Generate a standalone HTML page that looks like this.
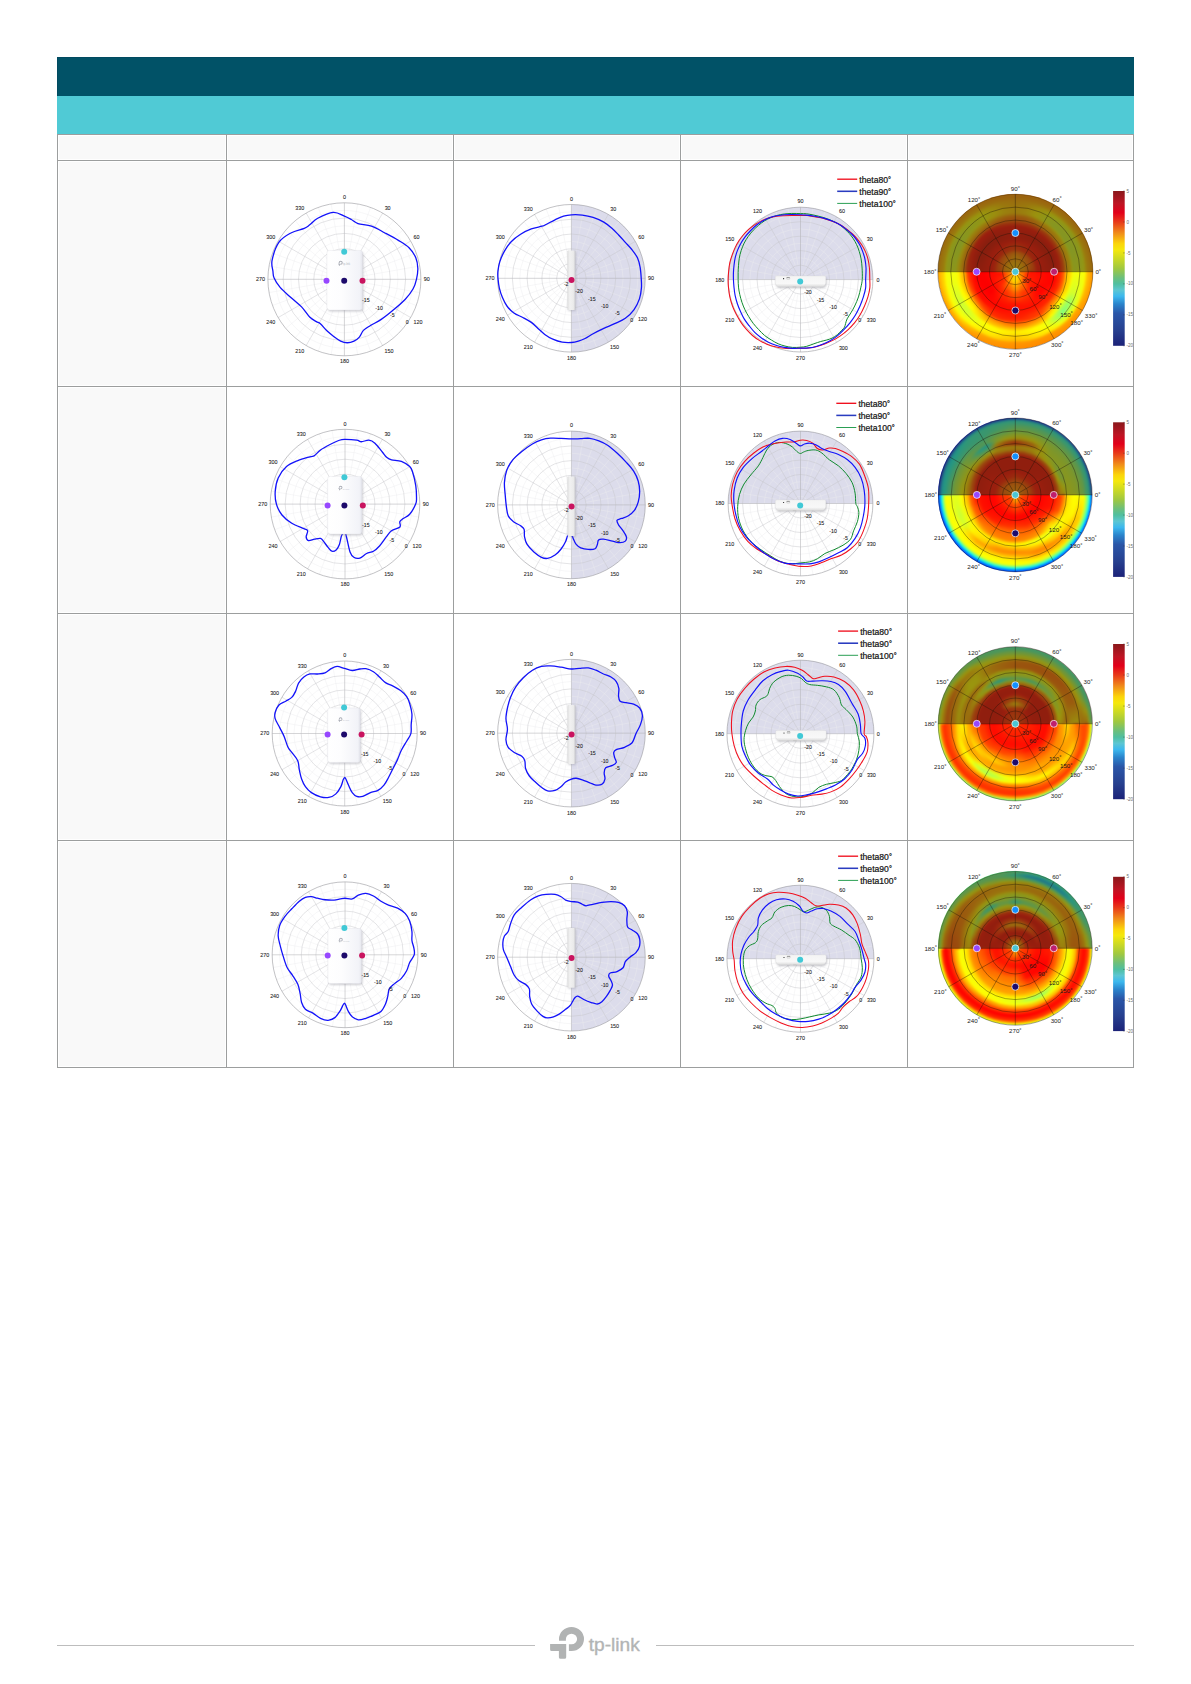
<!DOCTYPE html>
<html lang="en"><head><meta charset="utf-8"><title>Antenna Radiation Patterns</title>
<style>
html,body{margin:0;padding:0;background:#fff}
body{width:1191px;height:1684px;position:relative;overflow:hidden;font-family:"Liberation Sans", Arial, sans-serif}
.band{position:absolute;left:57px;width:1077px}
.b1{top:57px;height:39px;background:#015267;box-shadow:inset 0 1px 0 #014a60,inset 1px 0 0 #014a60}
.b2{top:96px;height:38px;background:#50cad5}
.grid{position:absolute;left:57px;top:134px;width:1077px;height:934px;background:#9c9e9e}
.cell{position:absolute;background:#fff;overflow:hidden}
.cell.h{background:#f9f9f9;box-shadow:inset 0 0 0 1px #fff}
.cell svg{position:absolute;left:0;top:0;font-family:"Liberation Sans", Arial, sans-serif}
.hm{position:absolute;border-radius:50%;overflow:hidden}
.hm i{position:absolute;border-radius:50%;display:block}
.hmb{position:absolute;left:0;top:0;right:0;bottom:0;filter:blur(1.3px)}
.foot{position:absolute;top:1645px;height:1px;background:#bdbdbd}
.logo{position:absolute;left:548px;top:1624px;width:96px;height:38px}
</style></head><body>
<svg width="0" height="0" style="position:absolute"><defs><filter id="bl" x="-20%" y="-20%" width="140%" height="140%"><feGaussianBlur stdDeviation="0.9"/></filter><linearGradient id="dev1" x1="0" y1="0" x2="1" y2="0"><stop offset="0" stop-color="#ffffff"/><stop offset="0.4" stop-color="#fdfdfe"/><stop offset="0.92" stop-color="#f2f3f8"/><stop offset="0.97" stop-color="#eaebf1"/><stop offset="1" stop-color="#dcdde5"/></linearGradient><linearGradient id="dev2" x1="0" y1="0" x2="1" y2="0"><stop offset="0" stop-color="#dedede"/><stop offset="0.3" stop-color="#f1f1f1"/><stop offset="0.75" stop-color="#ebebeb"/><stop offset="1" stop-color="#c9c9cd"/></linearGradient><linearGradient id="dev3" x1="0" y1="0" x2="0" y2="1"><stop offset="0" stop-color="#f4f4f4"/><stop offset="0.7" stop-color="#f8f8f8"/><stop offset="1" stop-color="#dcdcdc"/></linearGradient><linearGradient id="cbar" x1="0" y1="0" x2="0" y2="1"><stop offset="0%" stop-color="#8a181b"/><stop offset="8%" stop-color="#bd1524"/><stop offset="14%" stop-color="#e2001a"/><stop offset="20%" stop-color="#e83a1a"/><stop offset="27%" stop-color="#f08a1a"/><stop offset="34%" stop-color="#fbd50a"/><stop offset="38%" stop-color="#f5e80c"/><stop offset="42%" stop-color="#d8de1c"/><stop offset="50%" stop-color="#a0c840"/><stop offset="56%" stop-color="#6cbf7c"/><stop offset="60%" stop-color="#4fbfa0"/><stop offset="64%" stop-color="#5cc6d2"/><stop offset="68%" stop-color="#3cb8ee"/><stop offset="73%" stop-color="#2a84cc"/><stop offset="79%" stop-color="#2a56a8"/><stop offset="90%" stop-color="#27408f"/><stop offset="100%" stop-color="#1c2278"/></linearGradient></defs></svg>
<div class="band b1"></div><div class="band b2"></div>
<div class="grid">
<div class="cell h" style="left:1px;top:1px;width:168px;height:25px"></div>
<div class="cell h" style="left:170px;top:1px;width:226px;height:25px"></div>
<div class="cell h" style="left:397px;top:1px;width:226px;height:25px"></div>
<div class="cell h" style="left:624px;top:1px;width:226px;height:25px"></div>
<div class="cell h" style="left:851px;top:1px;width:225px;height:25px"></div>
<div class="cell h" style="left:1px;top:27px;width:168px;height:225px"></div>
<div class="cell" style="left:170px;top:27px;width:226px;height:225px"><svg width="226" height="225" viewBox="227 161 226 225"><g fill="none" stroke="#ececee" stroke-width="0.42"><circle cx="344.4" cy="279.3" r="7.65"/><circle cx="344.4" cy="279.3" r="22.95"/><circle cx="344.4" cy="279.3" r="38.25"/><circle cx="344.4" cy="279.3" r="53.55"/><circle cx="344.4" cy="279.3" r="68.85"/><path d="M347.06 264.23L357.68 203.96"/><path d="M349.63 264.92L370.56 207.41"/><path d="M354.23 267.58L393.57 220.7"/><path d="M356.12 269.47L403 230.13"/><path d="M358.78 274.07L416.29 253.14"/><path d="M359.47 276.64L419.74 266.02"/><path d="M359.47 281.96L419.74 292.58"/><path d="M358.78 284.53L416.29 305.46"/><path d="M356.12 289.13L403 328.47"/><path d="M354.23 291.02L393.57 337.9"/><path d="M349.63 293.68L370.56 351.19"/><path d="M347.06 294.37L357.68 354.64"/><path d="M341.74 294.37L331.12 354.64"/><path d="M339.17 293.68L318.24 351.19"/><path d="M334.57 291.02L295.23 337.9"/><path d="M332.68 289.13L285.8 328.47"/><path d="M330.02 284.53L272.51 305.46"/><path d="M329.33 281.96L269.06 292.58"/><path d="M329.33 276.64L269.06 266.02"/><path d="M330.02 274.07L272.51 253.14"/><path d="M332.68 269.47L285.8 230.13"/><path d="M334.57 267.58L295.23 220.7"/><path d="M339.17 264.92L318.24 207.41"/><path d="M341.74 264.23L331.12 203.96"/></g><g fill="none" stroke="#c6c6ca" stroke-width="0.48"><circle cx="344.4" cy="279.3" r="15.3"/><circle cx="344.4" cy="279.3" r="30.6"/><circle cx="344.4" cy="279.3" r="45.9"/><circle cx="344.4" cy="279.3" r="61.2"/><path d="M344.4 279.3L382.65 213.05"/><path d="M344.4 279.3L410.65 241.05"/><path d="M344.4 279.3L410.65 317.55"/><path d="M344.4 279.3L382.65 345.55"/><path d="M344.4 279.3L306.15 345.55"/><path d="M344.4 279.3L278.15 317.55"/><path d="M344.4 279.3L278.15 241.05"/><path d="M344.4 279.3L306.15 213.05"/></g><path d="M267.9 279.3H420.9M344.4 202.8V355.8" fill="none" stroke="#b2b2b6" stroke-width="0.55"/><circle cx="344.4" cy="279.3" r="76.5" fill="none" stroke="#96969b" stroke-width="0.58"/><text x="344.4" y="199.15" font-size="5.4" fill="#222" text-anchor="middle" stroke="#222" stroke-width="0.08">0</text><text x="387.64" y="209.83" font-size="5.4" fill="#222" text-anchor="middle" stroke="#222" stroke-width="0.08">30</text><text x="416.53" y="238.7" font-size="5.4" fill="#222" text-anchor="middle" stroke="#222" stroke-width="0.08">60</text><text x="426.75" y="281.25" font-size="5.4" fill="#222" text-anchor="middle" stroke="#222" stroke-width="0.08">90</text><text x="417.94" y="323.8" font-size="5.4" fill="#222" text-anchor="middle" stroke="#222" stroke-width="0.08">120</text><text x="388.93" y="352.67" font-size="5.4" fill="#222" text-anchor="middle" stroke="#222" stroke-width="0.08">150</text><text x="344.4" y="363.35" font-size="5.4" fill="#222" text-anchor="middle" stroke="#222" stroke-width="0.08">180</text><text x="299.87" y="352.67" font-size="5.4" fill="#222" text-anchor="middle" stroke="#222" stroke-width="0.08">210</text><text x="270.86" y="323.8" font-size="5.4" fill="#222" text-anchor="middle" stroke="#222" stroke-width="0.08">240</text><text x="260.4" y="281.25" font-size="5.4" fill="#222" text-anchor="middle" stroke="#222" stroke-width="0.08">270</text><text x="270.86" y="238.7" font-size="5.4" fill="#222" text-anchor="middle" stroke="#222" stroke-width="0.08">300</text><text x="299.87" y="209.83" font-size="5.4" fill="#222" text-anchor="middle" stroke="#222" stroke-width="0.08">330</text><path d="M344.4 216.19C347.42 217.37 349.06 218.27 351.32 219.49C353.58 220.72 354.63 222.44 357.99 223.56C361.34 224.68 366.96 224.63 371.45 226.2C375.95 227.77 380.48 230.6 384.96 232.96C389.45 235.33 394.37 237.9 398.38 240.37C402.39 242.84 406.13 244.88 409.03 247.78C411.94 250.67 414.34 254.27 415.8 257.74C417.27 261.21 417.72 265 417.83 268.59C417.94 272.18 417.24 275.95 416.46 279.3C415.68 282.65 415.04 285.35 413.14 288.72C411.25 292.08 408.44 295.9 405.08 299.49C401.72 303.08 397.02 306.89 392.98 310.25C388.95 313.61 384.67 317.08 380.87 319.66C377.06 322.24 373.05 323.94 370.14 325.73C367.23 327.53 365.21 328.52 363.41 330.42C361.62 332.33 360.93 335.36 359.36 337.14C357.79 338.93 355.99 340.21 353.97 341.14C351.96 342.07 349.51 342.73 347.28 342.73C345.05 342.73 342.86 342.19 340.62 341.15C338.37 340.11 336.04 338.15 333.8 336.47C331.57 334.78 329.42 333.18 327.18 331.06C324.95 328.93 322.19 325.28 320.39 323.71C318.58 322.15 318.15 322.78 316.36 321.66C314.57 320.53 312.11 319.43 309.64 316.97C307.18 314.51 304.7 310.14 301.57 306.9C298.45 303.66 294.46 300.77 290.88 297.52C287.31 294.27 282.91 290.66 280.12 287.42C277.32 284.18 275.3 280.76 274.11 278.07C272.91 275.38 273.28 274.22 272.94 271.28C272.6 268.35 271.09 265.28 272.07 260.46C273.05 255.64 275.68 246.93 278.82 242.35C281.96 237.76 286.67 235.31 290.91 232.97C295.16 230.63 301.15 229.67 304.28 228.32C307.42 226.97 307.47 226.53 309.71 224.85C311.95 223.17 313.81 220.32 317.72 218.24C321.64 216.16 328.75 212.72 333.2 212.38C337.65 212.03 341.38 215 344.4 216.19Z" fill="none" stroke="#1212fa" stroke-width="1.3" stroke-linejoin="round"/><rect x="327.9" y="251.9" width="35.5" height="59.6" rx="2.4" fill="#8c8c98" opacity="0.42" filter="url(#bl)"/><rect x="327" y="250.4" width="35.5" height="59.6" rx="2.4" fill="url(#dev1)" stroke="#e3e3e9" stroke-width="0.35"/><g transform="translate(338.2 260.8) scale(0.78)" fill="#a9acb5"><path d="M3.2 0a2.6 2.6 0 0 1 0 5.2H2.6V3.9h.6a1.3 1.3 0 1 0-1.3-1.3v.3H.6v-.3A2.6 2.6 0 0 1 3.2 0z"/><path d="M0 3.4h2.2v3H.9V4.7H0z"/></g><text x="343" y="265.1" font-size="2.7" fill="#b3b6be">tp-link</text><text x="365.8" y="302.1" font-size="5.2" fill="#222" text-anchor="middle" stroke="#222" stroke-width="0.08">-15</text><text x="379.05" y="309.75" font-size="5.2" fill="#222" text-anchor="middle" stroke="#222" stroke-width="0.08">-10</text><text x="392.3" y="317.4" font-size="5.2" fill="#222" text-anchor="middle" stroke="#222" stroke-width="0.08">-5</text><text x="407.15" y="324.05" font-size="5.2" fill="#222" text-anchor="middle" stroke="#222" stroke-width="0.08">0</text><circle cx="344.2" cy="251.7" r="3" fill="#41c9d6"/><circle cx="326.5" cy="280.7" r="3" fill="#9747ff"/><circle cx="344.2" cy="280.7" r="3" fill="#1d0a6b"/><circle cx="362.5" cy="280.7" r="3" fill="#c9145f"/></svg></div>
<div class="cell" style="left:397px;top:27px;width:226px;height:225px"><svg width="226" height="225" viewBox="454 161 226 225"><path d="M571.4 204.5A73.8 73.8 0 0 1 571.4 352.1Z" fill="#dcdceb"/><g fill="none" stroke="#ececee" stroke-width="0.42"><circle cx="571.4" cy="278.3" r="7.38"/><circle cx="571.4" cy="278.3" r="22.14"/><circle cx="571.4" cy="278.3" r="36.9"/><circle cx="571.4" cy="278.3" r="51.66"/><circle cx="571.4" cy="278.3" r="66.42"/><path d="M573.96 263.76L584.22 205.62"/><path d="M576.45 264.43L596.64 208.95"/><path d="M580.89 266.99L618.84 221.77"/><path d="M582.71 268.81L627.93 230.86"/><path d="M585.27 273.25L640.75 253.06"/><path d="M585.94 275.74L644.08 265.48"/><path d="M585.94 280.86L644.08 291.12"/><path d="M585.27 283.35L640.75 303.54"/><path d="M582.71 287.79L627.93 325.74"/><path d="M580.89 289.61L618.84 334.83"/><path d="M576.45 292.17L596.64 347.65"/><path d="M573.96 292.84L584.22 350.98"/><path d="M568.84 292.84L558.58 350.98"/><path d="M566.35 292.17L546.16 347.65"/><path d="M561.91 289.61L523.96 334.83"/><path d="M560.09 287.79L514.87 325.74"/><path d="M557.53 283.35L502.05 303.54"/><path d="M556.86 280.86L498.72 291.12"/><path d="M556.86 275.74L498.72 265.48"/><path d="M557.53 273.25L502.05 253.06"/><path d="M560.09 268.81L514.87 230.86"/><path d="M561.91 266.99L523.96 221.77"/><path d="M566.35 264.43L546.16 208.95"/><path d="M568.84 263.76L558.58 205.62"/></g><g fill="none" stroke="#c6c6ca" stroke-width="0.48"><circle cx="571.4" cy="278.3" r="14.76"/><circle cx="571.4" cy="278.3" r="29.52"/><circle cx="571.4" cy="278.3" r="44.28"/><circle cx="571.4" cy="278.3" r="59.04"/><path d="M571.4 278.3L608.3 214.39"/><path d="M571.4 278.3L635.31 241.4"/><path d="M571.4 278.3L635.31 315.2"/><path d="M571.4 278.3L608.3 342.21"/><path d="M571.4 278.3L534.5 342.21"/><path d="M571.4 278.3L507.49 315.2"/><path d="M571.4 278.3L507.49 241.4"/><path d="M571.4 278.3L534.5 214.39"/></g><path d="M497.6 278.3H645.2M571.4 204.5V352.1" fill="none" stroke="#b2b2b6" stroke-width="0.55"/><circle cx="571.4" cy="278.3" r="73.8" fill="none" stroke="#96969b" stroke-width="0.58"/><text x="571.4" y="200.85" font-size="5.4" fill="#222" text-anchor="middle" stroke="#222" stroke-width="0.08">0</text><text x="613.29" y="211.17" font-size="5.4" fill="#222" text-anchor="middle" stroke="#222" stroke-width="0.08">30</text><text x="641.19" y="239.05" font-size="5.4" fill="#222" text-anchor="middle" stroke="#222" stroke-width="0.08">60</text><text x="651.05" y="280.25" font-size="5.4" fill="#222" text-anchor="middle" stroke="#222" stroke-width="0.08">90</text><text x="642.6" y="321.45" font-size="5.4" fill="#222" text-anchor="middle" stroke="#222" stroke-width="0.08">120</text><text x="614.58" y="349.33" font-size="5.4" fill="#222" text-anchor="middle" stroke="#222" stroke-width="0.08">150</text><text x="571.4" y="359.65" font-size="5.4" fill="#222" text-anchor="middle" stroke="#222" stroke-width="0.08">180</text><text x="528.22" y="349.33" font-size="5.4" fill="#222" text-anchor="middle" stroke="#222" stroke-width="0.08">210</text><text x="500.2" y="321.45" font-size="5.4" fill="#222" text-anchor="middle" stroke="#222" stroke-width="0.08">240</text><text x="490.1" y="280.25" font-size="5.4" fill="#222" text-anchor="middle" stroke="#222" stroke-width="0.08">270</text><text x="500.2" y="239.05" font-size="5.4" fill="#222" text-anchor="middle" stroke="#222" stroke-width="0.08">300</text><text x="528.22" y="211.17" font-size="5.4" fill="#222" text-anchor="middle" stroke="#222" stroke-width="0.08">330</text><path d="M571.4 214.83C574.53 214.66 578.71 214.66 582.32 215.1C585.93 215.54 589.48 216.29 593.06 217.47C596.64 218.65 600.66 220.38 603.8 222.18C606.94 223.99 609.43 226.15 611.9 228.29C614.37 230.43 616.39 232.68 618.63 235.02C620.86 237.37 623.07 239.89 625.31 242.35C627.54 244.81 630.01 247.18 632.03 249.77C634.06 252.35 636.11 254.95 637.46 257.85C638.8 260.75 639.47 263.77 640.1 267.17C640.72 270.58 641 274.81 641.21 278.3C641.43 281.79 641.71 284.72 641.41 288.14C641.12 291.56 640.66 295.27 639.44 298.84C638.21 302.41 636.43 306.3 634.08 309.55C631.72 312.8 628.56 315.99 625.32 318.34C622.07 320.7 618.19 321.99 614.61 323.67C611.03 325.36 607.41 326.75 603.83 328.43C600.25 330.11 596.26 332.08 593.13 333.75C590 335.42 587.53 337.23 585.07 338.46C582.6 339.7 580.62 340.49 578.34 341.16C576.06 341.84 574.09 342.34 571.4 342.51C568.71 342.67 565.3 342.7 562.2 342.14C559.1 341.58 555.71 340.42 552.8 339.14C549.89 337.85 547.22 336.22 544.75 334.43C542.28 332.64 540.22 330.41 537.99 328.4C535.75 326.39 533.77 324.13 531.32 322.35C528.86 320.57 526.16 319.26 523.26 317.7C520.35 316.14 516.59 314.9 513.89 312.99C511.2 311.08 509.01 308.83 507.1 306.26C505.2 303.68 503.74 300.59 502.45 297.55C501.16 294.51 500.11 291.25 499.36 288.04C498.62 284.83 498.21 281.1 497.97 278.3C497.73 275.5 497.64 273.96 497.94 271.23C498.24 268.49 498.66 265.24 499.75 261.89C500.84 258.54 502.55 254.49 504.46 251.12C506.36 247.75 508.49 244.49 511.18 241.68C513.87 238.88 517.23 236.41 520.58 234.28C523.93 232.16 527.7 230.27 531.28 228.93C534.86 227.59 539.59 226.96 542.05 226.22C544.52 225.48 543.84 225.59 546.07 224.48C548.3 223.37 552.52 220.94 555.44 219.54C558.35 218.15 560.89 216.92 563.55 216.14C566.21 215.35 568.27 215 571.4 214.83Z" fill="none" stroke="#1212fa" stroke-width="1.3" stroke-linejoin="round"/><rect x="568.1" y="251.4" width="8" height="59.7" rx="0.8" fill="#8e8e9a" opacity="0.4" filter="url(#bl)"/><rect x="567.4" y="250.4" width="8" height="59.7" rx="0.8" fill="url(#dev2)"/><text x="579.08" y="293.18" font-size="5.2" fill="#222" text-anchor="middle" stroke="#222" stroke-width="0.08">-20</text><text x="591.87" y="300.56" font-size="5.2" fill="#222" text-anchor="middle" stroke="#222" stroke-width="0.08">-15</text><text x="604.65" y="307.94" font-size="5.2" fill="#222" text-anchor="middle" stroke="#222" stroke-width="0.08">-10</text><text x="617.43" y="315.32" font-size="5.2" fill="#222" text-anchor="middle" stroke="#222" stroke-width="0.08">-5</text><text x="631.81" y="321.7" font-size="5.2" fill="#222" text-anchor="middle" stroke="#222" stroke-width="0.08">0</text><text x="566.2" y="285.5" font-size="5.2" fill="#222" text-anchor="middle" stroke="#222" stroke-width="0.08">-2</text><circle cx="571.5" cy="279.9" r="3" fill="#c9145f"/></svg></div>
<div class="cell" style="left:624px;top:27px;width:226px;height:225px"><svg width="226" height="225" viewBox="681 161 226 225"><path d="M728.1 279.6A72.4 72.4 0 0 1 872.9 279.6Z" fill="#dcdceb"/><g fill="none" stroke="#ececee" stroke-width="0.42"><circle cx="800.5" cy="279.6" r="7.24"/><circle cx="800.5" cy="279.6" r="21.72"/><circle cx="800.5" cy="279.6" r="36.2"/><circle cx="800.5" cy="279.6" r="50.68"/><circle cx="800.5" cy="279.6" r="65.16"/><path d="M803.01 265.34L813.07 208.3"/><path d="M805.45 265.99L825.26 211.57"/><path d="M809.81 268.51L847.04 224.14"/><path d="M811.59 270.29L855.96 233.06"/><path d="M814.11 274.65L868.53 254.84"/><path d="M814.76 277.09L871.8 267.03"/><path d="M814.76 282.11L871.8 292.17"/><path d="M814.11 284.55L868.53 304.36"/><path d="M811.59 288.91L855.96 326.14"/><path d="M809.81 290.69L847.04 335.06"/><path d="M805.45 293.21L825.26 347.63"/><path d="M803.01 293.86L813.07 350.9"/><path d="M797.99 293.86L787.93 350.9"/><path d="M795.55 293.21L775.74 347.63"/><path d="M791.19 290.69L753.96 335.06"/><path d="M789.41 288.91L745.04 326.14"/><path d="M786.89 284.55L732.47 304.36"/><path d="M786.24 282.11L729.2 292.17"/><path d="M786.24 277.09L729.2 267.03"/><path d="M786.89 274.65L732.47 254.84"/><path d="M789.41 270.29L745.04 233.06"/><path d="M791.19 268.51L753.96 224.14"/><path d="M795.55 265.99L775.74 211.57"/><path d="M797.99 265.34L787.93 208.3"/></g><g fill="none" stroke="#c6c6ca" stroke-width="0.48"><circle cx="800.5" cy="279.6" r="14.48"/><circle cx="800.5" cy="279.6" r="28.96"/><circle cx="800.5" cy="279.6" r="43.44"/><circle cx="800.5" cy="279.6" r="57.92"/><path d="M800.5 279.6L836.7 216.9"/><path d="M800.5 279.6L863.2 243.4"/><path d="M800.5 279.6L863.2 315.8"/><path d="M800.5 279.6L836.7 342.3"/><path d="M800.5 279.6L764.3 342.3"/><path d="M800.5 279.6L737.8 315.8"/><path d="M800.5 279.6L737.8 243.4"/><path d="M800.5 279.6L764.3 216.9"/></g><path d="M728.1 279.6H872.9M800.5 207.2V352" fill="none" stroke="#b2b2b6" stroke-width="0.55"/><circle cx="800.5" cy="279.6" r="72.4" fill="none" stroke="#96969b" stroke-width="0.58"/><text x="877.9" y="281.55" font-size="5.4" fill="#222" text-anchor="middle" stroke="#222" stroke-width="0.08">0</text><text x="869.77" y="240.65" font-size="5.4" fill="#222" text-anchor="middle" stroke="#222" stroke-width="0.08">30</text><text x="842.09" y="212.99" font-size="5.4" fill="#222" text-anchor="middle" stroke="#222" stroke-width="0.08">60</text><text x="800.5" y="202.75" font-size="5.4" fill="#222" text-anchor="middle" stroke="#222" stroke-width="0.08">90</text><text x="757.62" y="212.99" font-size="5.4" fill="#222" text-anchor="middle" stroke="#222" stroke-width="0.08">120</text><text x="729.82" y="240.65" font-size="5.4" fill="#222" text-anchor="middle" stroke="#222" stroke-width="0.08">150</text><text x="719.8" y="281.55" font-size="5.4" fill="#222" text-anchor="middle" stroke="#222" stroke-width="0.08">180</text><text x="729.82" y="322.45" font-size="5.4" fill="#222" text-anchor="middle" stroke="#222" stroke-width="0.08">210</text><text x="757.62" y="350.11" font-size="5.4" fill="#222" text-anchor="middle" stroke="#222" stroke-width="0.08">240</text><text x="800.5" y="360.35" font-size="5.4" fill="#222" text-anchor="middle" stroke="#222" stroke-width="0.08">270</text><text x="843.38" y="350.11" font-size="5.4" fill="#222" text-anchor="middle" stroke="#222" stroke-width="0.08">300</text><text x="871.18" y="322.45" font-size="5.4" fill="#222" text-anchor="middle" stroke="#222" stroke-width="0.08">330</text><path d="M862.25 279.57C862.48 276.26 862.29 271.45 862.1 268.01C861.91 264.57 861.6 261.71 861.12 258.94C860.64 256.17 859.99 253.78 859.23 251.39C858.48 248.99 857.59 246.73 856.59 244.58C855.58 242.44 854.38 240.37 853.19 238.54C851.99 236.71 850.79 235.2 849.41 233.63C848.02 232.05 846.64 230.67 844.87 229.09C843.11 227.52 841.1 225.63 838.83 224.18C836.56 222.73 833.92 221.54 831.27 220.4C828.63 219.27 825.86 218.26 822.96 217.38C820.06 216.5 816.66 215.72 813.89 215.11C811.12 214.51 808.57 214.01 806.34 213.75C804.1 213.5 802.9 213.65 800.48 213.6C798.05 213.55 794.5 213.39 791.79 213.45C789.08 213.51 786.75 213.64 784.23 213.98C781.71 214.32 778.94 214.86 776.68 215.49C774.41 216.12 772.64 216.88 770.63 217.76C768.61 218.64 766.6 219.52 764.58 220.78C762.57 222.04 760.43 223.74 758.54 225.31C756.65 226.89 754.95 228.4 753.25 230.23C751.55 232.05 749.85 234.13 748.34 236.27C746.83 238.41 745.38 240.68 744.18 243.07C742.98 245.47 741.98 248.11 741.16 250.63C740.34 253.15 739.71 255.67 739.27 258.19C738.83 260.71 738.7 263.35 738.51 265.74C738.32 268.14 738.2 270.24 738.14 272.54C738.07 274.85 738.07 277.14 738.14 279.57C738.2 282 738.24 284.6 738.51 287.11C738.79 289.63 739.23 292.15 739.8 294.67C740.37 297.19 741.06 299.71 741.91 302.23C742.77 304.75 743.8 307.39 744.94 309.78C746.07 312.18 747.33 314.32 748.72 316.58C750.1 318.85 751.61 321.24 753.25 323.39C754.89 325.53 756.65 327.42 758.54 329.43C760.43 331.45 762.44 333.71 764.58 335.48C766.73 337.24 769.12 338.62 771.39 340.01C773.65 341.4 775.92 342.78 778.19 343.79C780.45 344.8 782.59 345.45 784.99 346.06C787.38 346.66 789.96 347.23 792.54 347.42C795.13 347.6 798.18 347.35 800.48 347.19C802.78 347.03 804.1 347 806.34 346.43C808.57 345.87 811.5 344.61 813.89 343.79C816.28 342.97 818.55 342.15 820.69 341.52C822.83 340.89 824.85 340.58 826.74 340.01C828.63 339.44 830.26 339 832.03 338.12C833.79 337.24 835.68 336.04 837.32 334.72C838.95 333.4 840.65 331.45 841.85 330.19C843.05 328.93 843.87 328.3 844.5 327.16C845.13 326.03 845.19 324.77 845.63 323.39C846.07 322 846.26 320.61 847.14 318.85C848.02 317.09 849.66 314.95 850.92 312.81C852.18 310.66 853.44 308.65 854.7 306.01C855.96 303.36 857.47 299.96 858.48 296.94C859.48 293.91 860.11 290.76 860.74 287.87C861.37 284.97 862.03 282.88 862.25 279.57Z" fill="none" stroke="#0f8a2e" stroke-width="1.0" stroke-linejoin="round"/><path d="M869.81 279.57C869.75 276.26 869.75 271.45 869.43 268.01C869.12 264.57 868.61 261.71 867.92 258.94C867.23 256.17 866.35 253.78 865.28 251.39C864.21 248.99 862.88 246.73 861.5 244.58C860.11 242.44 858.48 240.3 856.96 238.54C855.45 236.78 853.94 235.39 852.43 234.01C850.92 232.62 849.66 231.61 847.9 230.23C846.13 228.84 844.12 227.08 841.85 225.69C839.58 224.31 837.07 223.05 834.29 221.91C831.52 220.78 828.25 219.71 825.23 218.89C822.2 218.07 819.18 217.57 816.16 217C813.14 216.44 809.7 215.74 807.09 215.49C804.48 215.24 803.03 215.49 800.48 215.49C797.93 215.49 794.5 215.45 791.79 215.49C789.08 215.53 786.75 215.59 784.23 215.72C781.71 215.84 779.19 215.91 776.68 216.25C774.16 216.59 771.51 217.07 769.12 217.76C766.73 218.45 764.58 219.33 762.32 220.4C760.05 221.47 757.78 222.67 755.52 224.18C753.25 225.69 750.73 227.71 748.72 229.47C746.7 231.23 745.06 232.87 743.43 234.76C741.79 236.65 740.28 238.66 738.89 240.81C737.51 242.95 736.25 245.21 735.11 247.61C733.98 250 732.97 252.64 732.09 255.16C731.21 257.68 730.39 260.08 729.82 262.72C729.26 265.37 728.97 268.22 728.69 271.03C728.41 273.84 728.2 276.89 728.16 279.57C728.12 282.25 728.19 284.22 728.46 287.11C728.74 290.01 729.16 293.79 729.82 296.94C730.49 300.09 731.4 303.11 732.47 306.01C733.54 308.9 734.8 311.55 736.25 314.32C737.7 317.09 739.46 320.11 741.16 322.63C742.86 325.15 744.56 327.29 746.45 329.43C748.34 331.57 750.35 333.65 752.49 335.48C754.63 337.3 756.9 338.94 759.29 340.39C761.69 341.84 764.21 343.1 766.85 344.17C769.5 345.24 772.27 346.12 775.16 346.81C778.06 347.5 781.34 348.05 784.23 348.32C787.13 348.6 789.84 348.47 792.54 348.47C795.25 348.47 797.8 348.41 800.48 348.32C803.15 348.23 805.86 348.26 808.6 347.94C811.34 347.63 814.14 347.13 816.91 346.43C819.69 345.74 822.58 344.8 825.23 343.79C827.87 342.78 830.26 341.71 832.78 340.39C835.3 339.07 837.82 337.62 840.34 335.85C842.86 334.09 845.5 332.01 847.9 329.81C850.29 327.6 852.68 325.09 854.7 322.63C856.71 320.17 858.35 317.84 859.99 315.07C861.62 312.3 863.2 309.03 864.52 306.01C865.84 302.98 867.04 299.96 867.92 296.94C868.8 293.91 869.5 290.76 869.81 287.87C870.13 284.97 869.87 282.88 869.81 279.57Z" fill="none" stroke="#f0101e" stroke-width="1.05" stroke-linejoin="round"/><path d="M865.65 279.57C865.72 276.26 866.16 271.45 866.03 268.01C865.91 264.57 865.47 261.71 864.9 258.94C864.33 256.17 863.45 253.65 862.63 251.39C861.81 249.12 861.06 247.36 859.99 245.34C858.92 243.32 857.59 241.18 856.21 239.29C854.82 237.41 853.31 235.64 851.68 234.01C850.04 232.37 848.27 230.98 846.39 229.47C844.5 227.96 842.61 226.32 840.34 224.94C838.07 223.55 835.55 222.29 832.78 221.16C830.01 220.03 826.74 218.95 823.72 218.14C820.69 217.32 817.54 216.75 814.65 216.25C811.75 215.74 808.7 215.37 806.34 215.11C803.97 214.86 802.9 214.84 800.48 214.74C798.05 214.63 794.5 214.51 791.79 214.51C789.08 214.51 786.75 214.53 784.23 214.74C781.71 214.94 779.07 215.25 776.68 215.72C774.28 216.18 772.14 216.69 769.87 217.53C767.61 218.38 765.34 219.48 763.07 220.78C760.81 222.08 758.41 223.61 756.27 225.31C754.13 227.02 752.12 229.03 750.23 230.98C748.34 232.93 746.51 234.95 744.94 237.03C743.36 239.11 742.04 241.18 740.78 243.45C739.52 245.72 738.32 248.17 737.38 250.63C736.44 253.09 735.68 255.67 735.11 258.19C734.55 260.71 734.26 263.35 733.98 265.74C733.7 268.14 733.54 270.24 733.45 272.54C733.36 274.85 733.36 277.14 733.45 279.57C733.54 282 733.7 284.47 733.98 287.11C734.26 289.76 734.55 292.65 735.11 295.43C735.68 298.2 736.5 301.09 737.38 303.74C738.26 306.38 739.27 308.78 740.4 311.29C741.54 313.81 742.73 316.46 744.18 318.85C745.63 321.24 747.33 323.39 749.09 325.65C750.86 327.92 752.75 330.44 754.76 332.45C756.78 334.47 758.92 336.11 761.18 337.74C763.45 339.38 765.91 341.02 768.36 342.28C770.82 343.54 773.27 344.44 775.92 345.3C778.56 346.16 781.46 346.91 784.23 347.42C787 347.92 789.84 348.2 792.54 348.32C795.25 348.45 797.8 348.23 800.48 348.17C803.15 348.11 805.99 348.23 808.6 347.94C811.22 347.65 813.64 347.13 816.16 346.43C818.68 345.74 821.32 344.8 823.72 343.79C826.11 342.78 828.25 341.71 830.52 340.39C832.78 339.07 835.05 337.68 837.32 335.85C839.58 334.03 841.98 331.63 844.12 329.43C846.26 327.23 848.27 325.02 850.16 322.63C852.05 320.24 853.82 317.84 855.45 315.07C857.09 312.3 858.66 309.03 859.99 306.01C861.31 302.98 862.44 299.96 863.39 296.94C864.33 293.91 865.28 290.76 865.65 287.87C866.03 284.97 865.59 282.88 865.65 279.57Z" fill="none" stroke="#1212fa" stroke-width="1.15" stroke-linejoin="round"/><path d="M777.4 277.4H825.1a1.4 1.4 0 0 1 1.4 1.4V283.8a4.2 4.2 0 0 1 -4.2 4.2H780.2a4.2 4.2 0 0 1 -4.2 -4.2V278.8a1.4 1.4 0 0 1 1.4 -1.4z" fill="#85858f" opacity="0.5" filter="url(#bl)"/><path d="M776.7 276.1H824.4a1.4 1.4 0 0 1 1.4 1.4V282.5a4.2 4.2 0 0 1 -4.2 4.2H779.5a4.2 4.2 0 0 1 -4.2 -4.2V277.5a1.4 1.4 0 0 1 1.4 -1.4z" fill="url(#dev3)" stroke="#dcdcdc" stroke-width="0.3"/><rect x="786.7" y="277.5" width="3" height="1.7" rx="0.3" fill="#fafafa" stroke="#8a8a8a" stroke-width="0.3"/><path d="M786.7 277.6h3" stroke="#555" stroke-width="0.5"/><circle cx="783.6" cy="278.7" r="0.6" fill="#1c1c1c"/><path d="M792.8 286.9h3.2" stroke="#b8b8b8" stroke-width="0.6"/><text x="807.94" y="294.34" font-size="5.2" fill="#222" text-anchor="middle" stroke="#222" stroke-width="0.08">-20</text><text x="820.48" y="301.58" font-size="5.2" fill="#222" text-anchor="middle" stroke="#222" stroke-width="0.08">-15</text><text x="833.02" y="308.82" font-size="5.2" fill="#222" text-anchor="middle" stroke="#222" stroke-width="0.08">-10</text><text x="845.56" y="316.06" font-size="5.2" fill="#222" text-anchor="middle" stroke="#222" stroke-width="0.08">-5</text><text x="859.7" y="322.3" font-size="5.2" fill="#222" text-anchor="middle" stroke="#222" stroke-width="0.08">0</text><circle cx="800.2" cy="281.5" r="3" fill="#41c9d6"/><path d="M837.2 179.2H857.2" stroke="#f0101e" stroke-width="1.35"/><text x="859.3" y="182.6" font-size="8.6" fill="#141414" stroke="#141414" stroke-width="0.22">theta80<tspan font-size="7.4" dy="-0.6">°</tspan></text><path d="M837.2 191.3H857.2" stroke="#2a3cc0" stroke-width="1.55"/><text x="859.3" y="194.7" font-size="8.6" fill="#141414" stroke="#141414" stroke-width="0.22">theta90<tspan font-size="7.4" dy="-0.6">°</tspan></text><path d="M837.2 203.4H857.2" stroke="#1f9a4a" stroke-width="0.95"/><text x="859.3" y="206.8" font-size="8.6" fill="#141414" stroke="#141414" stroke-width="0.22">theta100<tspan font-size="7.4" dy="-0.6">°</tspan></text></svg></div>
<div class="cell" style="left:851px;top:27px;width:225px;height:225px"><div class="hm" style="left:29.85px;top:33.25px;width:155.00px;height:155.00px"><div class="hmb"><i style="left:-6.20px;top:-6.20px;width:167.40px;height:167.40px;background:conic-gradient(#ff8e00,#ff8f00,#ff9100,#ff9300,#ff9400,#ff9600,#ff9900,#ff9a00,#ff9a00,#ff9a00 90deg,#ff9400 90deg,#ff9400,#ff9300,#ff9000,#ff8e00,#ff8c00,#ff8a00,#ff8a00,#ff8a00,#ff8a00,#ff8b00,#ff8d00,#ff8e00,#ff9100,#ff9400,#ff9500,#ff9800,#ff9c00,#ff9e00 270deg,#ff9a00 270deg,#ff9a00,#ff9a00,#ff9a00,#ff9600,#ff9400,#ff9300,#ff9100,#ff8f00,#ff8e00)"></i><i style="left:0.62px;top:0.62px;width:153.76px;height:153.76px;background:conic-gradient(#ff8f00,#ff9000,#ff9300,#ff9500,#ff9700,#ff9900,#ff9d00,#ff9d00,#ff9d00,#ff9d00 90deg,#ff9900 90deg,#ff9800,#ff9700,#ff9200,#ff9000,#ff8e00,#ff8b00,#ff8b00,#ff8b00,#ff8b00,#ff8c00,#ff8f00,#ff9000,#ff9500,#ff9b00,#ff9c00,#ff9f00,#ffa300,#ffa500 270deg,#ff9e00 270deg,#ff9e00,#ff9e00,#ff9e00,#ff9a00,#ff9800,#ff9600,#ff9300,#ff9000,#ff8f00)"></i><i style="left:1.39px;top:1.39px;width:152.21px;height:152.21px;background:conic-gradient(#ff9100,#ff9300,#ff9700,#ff9a00,#ff9c00,#ff9f00,#ffa300,#ffa400,#ffa400,#ffa400 90deg,#ffa200 90deg,#ffa100,#ff9f00,#ff9700,#ff9300,#ff9100,#ff8d00,#ff8c00,#ff8c00,#ff8c00,#ff8e00,#ff9200,#ff9400,#ff9d00,#ffa600,#ffa800,#ffab00,#ffaf00,#ffb100 270deg,#ffa700 270deg,#ffa700,#ffa700,#ffa600,#ffa200,#ff9f00,#ff9d00,#ff9800,#ff9300,#ff9100)"></i><i style="left:2.33px;top:2.33px;width:150.35px;height:150.35px;background:conic-gradient(#ff9500,#ff9800,#ff9d00,#ffa200,#ffa500,#ffa800,#ffad00,#ffae00,#ffae00,#ffae00 90deg,#ffae00 90deg,#ffac00,#ffa900,#ff9e00,#ff9900,#ff9500,#ff9000,#ff8f00,#ff8f00,#ff8f00,#ff9200,#ff9500,#ff9800,#ffa400,#ffb000,#ffb300,#ffb800,#ffbe00,#ffc100 270deg,#ffb300 270deg,#ffb300,#ffb300,#ffb200,#ffac00,#ffa900,#ffa600,#ff9f00,#ff9800,#ff9500)"></i><i style="left:3.49px;top:3.49px;width:148.03px;height:148.03px;background:conic-gradient(#ff9b00,#ff9e00,#ffa400,#ffab00,#ffae00,#ffb200,#ffb800,#ffb900,#ffb900,#ffb900 90deg,#ffb300 90deg,#ffb400,#ffb200,#ffa400,#ff9d00,#ff9900,#ff9300,#ff9200,#ff9200,#ff9200,#ff9500,#ff9900,#ff9c00,#ffab00,#ffba00,#ffbd00,#ffc000,#ffc500,#ffc700 270deg,#ffbd00 270deg,#ffbd00,#ffbd00,#ffbc00,#ffb500,#ffb100,#ffae00,#ffa600,#ff9f00,#ff9b00)"></i><i style="left:4.65px;top:4.65px;width:145.70px;height:145.70px;background:conic-gradient(#ffa100,#ffa400,#ffaa00,#ffb000,#ffb200,#ffb700,#ffbd00,#ffbf00,#ffbf00,#ffbf00 90deg,#ffbf00 90deg,#ffbb00,#ffb600,#ffaa00,#ffa400,#ff9d00,#ff9500,#ff9400,#ff9400,#ff9400,#ff9700,#ff9c00,#ffa100,#ffba00,#ffd400,#ffd800,#ffd500,#ffd200,#ffd100 270deg,#ffc300 270deg,#ffc200,#ffc200,#ffc100,#ffba00,#ffb500,#ffb200,#ffab00,#ffa400,#ffa100)"></i><i style="left:5.81px;top:5.81px;width:143.38px;height:143.38px;background:conic-gradient(#ffa700,#ffaa00,#ffb100,#ffb800,#ffbb00,#ffbf00,#ffc600,#ffc700,#ffc700,#ffc600 90deg,#ffd700 90deg,#ffcd00,#ffca00,#ffca00,#ffc900,#ffb700,#ffa000,#ff9b00,#ff9900,#ff9800,#ff9f00,#ffab00,#ffb200,#ffd200,#fff100,#fff600,#ffef00,#ffe800,#ffe400 270deg,#ffdb00 270deg,#ffda00,#ffd700,#ffd500,#ffcd00,#ffc700,#ffc200,#ffb700,#ffac00,#ffa700)"></i><i style="left:6.97px;top:6.97px;width:141.05px;height:141.05px;background:conic-gradient(#ffac00,#ffb300,#ffc200,#ffd100,#ffd800,#ffdc00,#ffe300,#ffe300,#ffe100,#ffdf00 90deg,#fff200 90deg,#ffe800,#ffe800,#fff900,#ffff00,#ffe100,#ffbc00,#ffb400,#ffac00,#ffa600,#ffb200,#ffc300,#ffcc00,#ffe700,#fbff04,#f7ff08,#fcff03,#fffc00,#fffa00 270deg,#fffe00 270deg,#fffc00,#fff800,#fff500,#ffeb00,#ffe400,#ffdb00,#ffc800,#ffb400,#ffac00)"></i><i style="left:8.30px;top:8.30px;width:138.39px;height:138.39px;background:conic-gradient(#ffaf00,#ffbd00,#ffde00,#fffe00,#f2ff0d,#edff12,#e7ff18,#e6ff19,#ecff13,#f0ff0f 90deg,#faff05 90deg,#f1ff0e,#ebff14,#dcff23,#d5ff2a,#f1ff0e,#ffeb00,#ffe100,#ffce00,#ffc100,#ffce00,#ffe300,#ffe900,#fffb00,#f1ff0e,#efff10,#f1ff0e,#f4ff0b,#f6ff09 270deg,#e5ff1a 270deg,#e3ff1c,#dfff20,#e1ff1e,#efff10,#f7ff08,#fff900,#ffdb00,#ffbc00,#ffaf00)"></i><i style="left:11.07px;top:11.07px;width:132.86px;height:132.86px;background:conic-gradient(#ffb700,#ffc700,#ffea00,#f2ff0d,#e2ff1d,#dfff20,#d9ff26,#d9ff26,#e0ff1f,#e5ff1a 90deg,#f9ff06 90deg,#eaff15,#ddff22,#b8ff47,#a9ff56,#d1ff2e,#fffc00,#ffef00,#ffdb00,#ffce00,#ffdb00,#ffee00,#fff600,#f1ff0e,#daff25,#d7ff28,#e2ff1d,#efff10,#f6ff09 270deg,#e3ff1c 270deg,#dfff20,#daff25,#dbff24,#e6ff19,#eeff11,#fcff03,#ffe400,#ffc500,#ffb700)"></i><i style="left:13.84px;top:13.84px;width:127.32px;height:127.32px;background:conic-gradient(#ffc300,#ffd300,#fff600,#e5ff1a,#d5ff2a,#d4ff2b,#d2ff2d,#d3ff2c,#dbff24,#e1ff1e 90deg,#f7ff08 90deg,#e6ff19,#d4ff2b,#98ff67,#7eff81,#b2ff4d,#f2ff0d,#fffd00,#fff000,#ffe700,#fff200,#fbff04,#f5ff0a,#dfff20,#c9ff36,#c8ff37,#d8ff27,#ecff13,#f6ff09 270deg,#deff21 270deg,#d9ff26,#d1ff2e,#d1ff2e,#daff25,#dfff20,#edff12,#fff100,#ffd200,#ffc300)"></i><i style="left:16.61px;top:16.61px;width:121.79px;height:121.79px;background:conic-gradient(#ffc300,#ffd300,#fff600,#e6ff19,#d6ff29,#d3ff2c,#ceff31,#cfff30,#d8ff27,#ddff22 90deg,#f6ff09 90deg,#e4ff1b,#d5ff2a,#acff53,#9bff64,#c4ff3b,#f7ff08,#fffc00,#fff100,#ffeb00,#ffef00,#fff700,#fffc00,#eeff11,#daff25,#d8ff27,#e3ff1c,#f0ff0f,#f6ff09 270deg,#e3ff1c 270deg,#ddff22,#d5ff2a,#d6ff29,#e5ff1a,#eeff11,#faff05,#ffea00,#ffcf00,#ffc300)"></i><i style="left:19.38px;top:19.38px;width:116.25px;height:116.25px;background:conic-gradient(#ff9d00,#ffaa00,#ffc800,#ffe600,#fff400,#ffff00,#edff12,#ebff14,#f2ff0d,#f6ff09 90deg,#fff300 90deg,#f8ff07,#efff10,#dfff20,#daff25,#fffc00,#ffcb00,#ffc100,#ffbb00,#ffb600,#ffb900,#ffbc00,#ffc200,#ffdf00,#fffd00,#fdff02,#fffc00,#fff700,#fff500 270deg,#ffe400 270deg,#ffe700,#ffeb00,#ffe900,#ffdb00,#ffd300,#ffca00,#ffb800,#ffa500,#ff9d00)"></i><i style="left:22.14px;top:22.14px;width:110.71px;height:110.71px;background:conic-gradient(#ff7400,#ff7f00,#ff9700,#ffb000,#ffbb00,#ffc100,#ffcb00,#ffcc00,#ffcb00,#ffc900 90deg,#ffd200 90deg,#ffd800,#ffdf00,#fffa00,#f8ff07,#ffdb00,#ffa700,#ff9a00,#ff8900,#ff7e00,#ff8900,#ff9a00,#ffa300,#ffc600,#ffe900,#ffec00,#ffde00,#ffcd00,#ffc400 270deg,#ffb400 270deg,#ffb400,#ffb400,#ffb400,#ffb200,#ffb100,#ffa800,#ff9300,#ff7d00,#ff7400)"></i><i style="left:24.91px;top:24.91px;width:105.18px;height:105.18px;background:conic-gradient(#ff6200,#ff6b00,#ff7e00,#ff9200,#ff9b00,#ffa000,#ffa900,#ffab00,#ffab00,#ffab00 90deg,#ffc000 90deg,#ffc000,#ffc000,#ffbe00,#ffbc00,#ff9c00,#ff7400,#ff6c00,#ff6a00,#ff6800,#ff6300,#ff5c00,#ff6000,#ff8100,#ffa200,#ffa800,#ffa900,#ffab00,#ffac00 270deg,#ff7900 270deg,#ff7800,#ff7500,#ff7200,#ff6500,#ff5d00,#ff5e00,#ff6000,#ff6100,#ff6200)"></i><i style="left:27.68px;top:27.68px;width:99.64px;height:99.64px;background:conic-gradient(#ff2b00,#ff2d00,#ff3000,#ff3400,#ff3500,#ff3900,#ff3e00,#ff4000,#ff4400,#ff4800 90deg,#ff5f00 90deg,#ff5f00,#ff6400,#ff7d00,#ff8700,#ff6700,#ff4000,#ff3800,#ff3300,#ff3000,#ff2f00,#ff2c00,#ff3100,#ff5000,#ff6f00,#ff7200,#ff6700,#ff5a00,#ff5300 270deg,#ff1e00 270deg,#ff1900,#ff1300,#ff1000,#ff0900,#ff0500,#ff0b00,#ff1800,#ff2500,#ff2b00)"></i><i style="left:30.45px;top:30.45px;width:94.11px;height:94.11px;background:conic-gradient(#fd0000,#ff0000,#ff0600,#ff0b00,#ff0e00,#ff0e00,#ff0e00,#ff0f00,#ff1500,#ff1a00 90deg,#ff3200 90deg,#ff3200,#ff3700,#ff4c00,#ff5500,#ff4600,#ff3500,#ff2f00,#ff2300,#ff1b00,#ff1e00,#ff2200,#ff2500,#ff3100,#ff3d00,#ff3e00,#ff3700,#ff2e00,#ff2a00 270deg,#ff1200 270deg,#ff0e00,#ff0700,#ff0500,#fe0000,#fb0000,#fb0000,#fc0000,#fc0000,#fd0000)"></i><i style="left:33.21px;top:33.21px;width:88.57px;height:88.57px;background:conic-gradient(#f80000,#f80000,#f70000,#f70000,#f70000,#f70000,#f70000,#f80000,#fd0000,#ff0200 90deg,#ff1e00 90deg,#ff1e00,#ff1f00,#ff2300,#ff2400,#ff2300,#ff2100,#ff2000,#ff1b00,#ff1900,#ff1700,#ff1500,#ff1400,#ff1000,#ff0c00,#ff0c00,#ff1000,#ff1400,#ff1600 270deg,#f90000 270deg,#f50000,#ee0000,#ed0000,#ea0000,#e80000,#ea0000,#f00000,#f50000,#f80000)"></i><i style="left:35.98px;top:35.98px;width:83.04px;height:83.04px;background:conic-gradient(#f00000,#ed0000,#e70000,#e10000,#de0000,#de0000,#de0000,#df0000,#e30000,#e60000 90deg,#ff0700 90deg,#ff0700,#ff0a00,#ff1900,#ff2000,#ff1a00,#ff1300,#ff1200,#ff1400,#ff1500,#ff1000,#ff0a00,#ff0900,#ff0900,#ff0900,#ff0900,#ff0500,#ff0100,#fe0000 270deg,#e50000 270deg,#e10000,#da0000,#d90000,#d80000,#d80000,#dc0000,#e40000,#ed0000,#f00000)"></i><i style="left:38.75px;top:38.75px;width:77.50px;height:77.50px;background:conic-gradient(#e90000,#e60000,#e20000,#dd0000,#da0000,#da0000,#da0000,#db0000,#df0000,#e20000 90deg,#ff0300 90deg,#ff0300,#ff0600,#ff1100,#ff1600,#ff1300,#ff1100,#ff1000,#ff1100,#ff1100,#ff0e00,#ff0900,#ff0800,#ff0600,#ff0400,#ff0400,#ff0100,#fc0000,#fa0000 270deg,#e20000 270deg,#de0000,#d70000,#d60000,#d60000,#d60000,#d90000,#e00000,#e60000,#e90000)"></i><i style="left:41.52px;top:41.52px;width:71.96px;height:71.96px;background:conic-gradient(#e60000,#e50000,#e40000,#e30000,#e30000,#e20000,#e10000,#e10000,#e40000,#e60000 90deg,#ff0400 90deg,#ff0500,#ff0500,#ff0900,#ff0b00,#ff0f00,#ff1500,#ff1500,#ff1200,#ff0f00,#ff0f00,#ff0e00,#ff0d00,#ff0600,#ff0000,#fe0000,#fd0000,#fc0000,#fc0000 270deg,#e60000 270deg,#e30000,#de0000,#dd0000,#df0000,#df0000,#e00000,#e20000,#e50000,#e60000)"></i><i style="left:44.29px;top:44.29px;width:66.43px;height:66.43px;background:conic-gradient(#f10000,#f10000,#f00000,#f00000,#f00000,#ee0000,#eb0000,#eb0000,#eb0000,#ec0000 90deg,#ff0600 90deg,#ff0700,#ff0700,#ff0500,#ff0400,#ff0f00,#ff1c00,#ff1e00,#ff1c00,#ff1b00,#ff1900,#ff1700,#ff1500,#ff0900,#fc0000,#fa0000,#fc0000,#fd0000,#fe0000 270deg,#ec0000 270deg,#ea0000,#e80000,#e90000,#eb0000,#ed0000,#ee0000,#ef0000,#f10000,#f10000)"></i><i style="left:47.05px;top:47.05px;width:60.89px;height:60.89px;background:conic-gradient(#ff0900,#ff0800,#ff0400,#ff0000,#fe0000,#fb0000,#f60000,#f50000,#f30000,#f20000 90deg,#ff0800 90deg,#ff0a00,#ff0a00,#ff0600,#ff0500,#ff1300,#ff2500,#ff2900,#ff2f00,#ff3200,#ff2c00,#ff2200,#ff1e00,#ff0e00,#fe0000,#fc0000,#fe0000,#ff0100,#ff0300 270deg,#f20000 270deg,#f30000,#f40000,#f50000,#f90000,#fc0000,#fe0000,#ff0300,#ff0700,#ff0900)"></i><i style="left:49.82px;top:49.82px;width:55.36px;height:55.36px;background:conic-gradient(#ff2000,#ff1d00,#ff1500,#ff0d00,#ff0a00,#ff0600,#ff0000,#fd0000,#fa0000,#f70000 90deg,#ff0a00 90deg,#ff0d00,#ff0e00,#ff0b00,#ff0b00,#ff1a00,#ff2d00,#ff3300,#ff4000,#ff4900,#ff3d00,#ff2c00,#ff2500,#ff1600,#ff0700,#ff0400,#ff0500,#ff0600,#ff0600 270deg,#f70000 270deg,#fa0000,#fd0000,#ff0000,#ff0600,#ff0a00,#ff0d00,#ff1500,#ff1d00,#ff2000)"></i><i style="left:52.59px;top:52.59px;width:49.82px;height:49.82px;background:conic-gradient(#ff2c00,#ff2700,#ff1d00,#ff1400,#ff0f00,#ff0b00,#ff0400,#ff0200,#fd0000,#fa0000 90deg,#ff0c00 90deg,#ff1000,#ff1200,#ff1200,#ff1300,#ff2000,#ff3100,#ff3700,#ff4900,#ff5500,#ff4600,#ff3000,#ff2a00,#ff1d00,#ff1000,#ff0e00,#ff0c00,#ff0b00,#ff0a00 270deg,#fa0000 270deg,#fd0000,#ff0200,#ff0400,#ff0b00,#ff0f00,#ff1400,#ff1d00,#ff2700,#ff2c00)"></i><i style="left:55.36px;top:55.36px;width:44.29px;height:44.29px;background:conic-gradient(#ff4600,#ff4100,#ff3700,#ff2d00,#ff2800,#ff2300,#ff1b00,#ff1900,#ff1300,#ff0f00 90deg,#ff0e00 90deg,#ff1300,#ff1600,#ff1900,#ff1c00,#ff2b00,#ff3e00,#ff4600,#ff5b00,#ff6900,#ff5900,#ff4000,#ff3900,#ff2a00,#ff1b00,#ff1800,#ff1400,#ff0f00,#ff0d00 270deg,#ff0f00 270deg,#ff1300,#ff1900,#ff1b00,#ff2300,#ff2800,#ff2d00,#ff3700,#ff4100,#ff4600)"></i><i style="left:58.12px;top:58.12px;width:38.75px;height:38.75px;background:conic-gradient(#ff7c00,#ff7700,#ff6c00,#ff6100,#ff5c00,#ff5600,#ff4c00,#ff4800,#ff3f00,#ff3900 90deg,#ff0f00 90deg,#ff1500,#ff1800,#ff1e00,#ff2200,#ff3b00,#ff5a00,#ff6500,#ff8000,#ff9200,#ff8000,#ff6300,#ff5900,#ff3f00,#ff2500,#ff2000,#ff1a00,#ff1200,#ff0f00 270deg,#ff3900 270deg,#ff3f00,#ff4800,#ff4c00,#ff5600,#ff5c00,#ff6100,#ff6c00,#ff7700,#ff7c00)"></i><i style="left:60.89px;top:60.89px;width:33.21px;height:33.21px;background:conic-gradient(#ff9600,#ff9100,#ff8600,#ff7b00,#ff7600,#ff6e00,#ff6300,#ff5f00,#ff5400,#ff4d00 90deg,#ff1000 90deg,#ff1600,#ff1900,#ff2100,#ff2500,#ff4300,#ff6700,#ff7300,#ff9200,#ffa700,#ff9200,#ff7300,#ff6800,#ff4900,#ff2900,#ff2300,#ff1c00,#ff1400,#ff1000 270deg,#ff4d00 270deg,#ff5400,#ff5f00,#ff6300,#ff6e00,#ff7600,#ff7b00,#ff8600,#ff9100,#ff9600)"></i><i style="left:63.66px;top:63.66px;width:27.68px;height:27.68px;background:conic-gradient(#ffa100,#ff9e00,#ff9600,#ff8e00,#ff8a00,#ff8500,#ff7c00,#ff7800,#ff6f00,#ff6800 90deg,#ff2400 90deg,#ff2c00,#ff3100,#ff3900,#ff3f00,#ff5e00,#ff8500,#ff9100,#ffab00,#ffbd00,#ffab00,#ff9100,#ff8600,#ff6500,#ff4300,#ff3c00,#ff3300,#ff2900,#ff2400 270deg,#ff6800 270deg,#ff6f00,#ff7800,#ff7c00,#ff8500,#ff8a00,#ff8e00,#ff9600,#ff9e00,#ffa100)"></i><i style="left:66.43px;top:66.43px;width:22.14px;height:22.14px;background:conic-gradient(#ffb100,#ffb000,#ffad00,#ffaa00,#ffa900,#ffa500,#ffa000,#ff9d00,#ff9600,#ff9100 90deg,#ff4700 90deg,#ff5300,#ff5a00,#ff6400,#ff6b00,#ff8b00,#ffb200,#ffbd00,#ffd100,#ffdd00,#ffd100,#ffbd00,#ffb300,#ff9100,#ff6f00,#ff6800,#ff5c00,#ff4e00,#ff4700 270deg,#ff9100 270deg,#ff9600,#ff9d00,#ffa000,#ffa500,#ffa900,#ffaa00,#ffad00,#ffb000,#ffb100)"></i><i style="left:69.20px;top:69.20px;width:16.61px;height:16.61px;background:conic-gradient(#ffb600,#ffb600,#ffb400,#ffb300,#ffb300,#ffb000,#ffab00,#ffa900,#ffa300,#ff9f00 90deg,#ff6000 90deg,#ff6e00,#ff7600,#ff8200,#ff8900,#ffa200,#ffc100,#ffca00,#ffdb00,#ffe600,#ffdb00,#ffca00,#ffc200,#ffa700,#ff8d00,#ff8600,#ff7800,#ff6800,#ff6000 270deg,#ff9f00 270deg,#ffa300,#ffa900,#ffab00,#ffb000,#ffb300,#ffb300,#ffb400,#ffb600,#ffb600)"></i><i style="left:71.96px;top:71.96px;width:11.07px;height:11.07px;background:conic-gradient(#ffb500,#ffb400,#ffb400,#ffb300,#ffb300,#ffb100,#ffae00,#ffad00,#ffaa00,#ffa700 90deg,#ff7600 90deg,#ff8100,#ff8700,#ff9100,#ff9600,#ffa800,#ffbf00,#ffc600,#ffd100,#ffd900,#ffd100,#ffc600,#ffc000,#ffac00,#ff9900,#ff9300,#ff8900,#ff7c00,#ff7600 270deg,#ffa700 270deg,#ffaa00,#ffad00,#ffae00,#ffb100,#ffb300,#ffb300,#ffb400,#ffb400,#ffb500)"></i><i style="left:74.73px;top:74.73px;width:5.54px;height:5.54px;background:conic-gradient(#ffb300,#ffb300,#ffb300,#ffb300,#ffb300,#ffb200,#ffb200,#ffb200,#ffb100,#ffb100 90deg,#ffa800 90deg,#ffaa00,#ffab00,#ffaf00,#ffb100,#ffb700,#ffbe00,#ffc000,#ffc600,#ffca00,#ffc600,#ffc000,#ffbe00,#ffb800,#ffb200,#ffb000,#ffad00,#ffaa00,#ffa800 270deg,#ffb100 270deg,#ffb100,#ffb200,#ffb200,#ffb200,#ffb300,#ffb300,#ffb300,#ffb300,#ffb300)"></i></div></div><svg width="225" height="225" viewBox="908 161 225 225"><path d="M937.85 271.75A77.5 77.5 0 0 1 1092.85 271.75Z" fill="#40381a" fill-opacity="0.53"/><g fill="none" stroke="#1a1208" stroke-width="0.45" stroke-opacity="0.85"><circle cx="1015.35" cy="271.75" r="12.92"/><circle cx="1015.35" cy="271.75" r="25.83"/><circle cx="1015.35" cy="271.75" r="38.75"/><circle cx="1015.35" cy="271.75" r="51.67"/><circle cx="1015.35" cy="271.75" r="64.58"/><circle cx="1015.35" cy="271.75" r="77.5"/><path d="M937.85 271.75L1092.85 271.75"/><path d="M948.23 310.5L1082.47 233"/><path d="M976.6 338.87L1054.1 204.63"/><path d="M1015.35 349.25L1015.35 194.25"/><path d="M1054.1 338.87L976.6 204.63"/><path d="M1082.47 310.5L948.23 233"/></g><text x="1098.25" y="273.95" font-size="6.2" fill="#222" text-anchor="middle">0<tspan font-size="5.6" dy="-1.2">°</tspan></text><text x="1088.53" y="231.7" font-size="6.2" fill="#222" text-anchor="middle">30<tspan font-size="5.6" dy="-1.2">°</tspan></text><text x="1057.1" y="201.64" font-size="6.2" fill="#222" text-anchor="middle">60<tspan font-size="5.6" dy="-1.2">°</tspan></text><text x="1015.35" y="190.85" font-size="6.2" fill="#222" text-anchor="middle">90<tspan font-size="5.6" dy="-1.2">°</tspan></text><text x="974" y="202.33" font-size="6.2" fill="#222" text-anchor="middle">120<tspan font-size="5.6" dy="-1.2">°</tspan></text><text x="942.08" y="231.65" font-size="6.2" fill="#222" text-anchor="middle">150<tspan font-size="5.6" dy="-1.2">°</tspan></text><text x="930.15" y="273.95" font-size="6.2" fill="#222" text-anchor="middle">180<tspan font-size="5.6" dy="-1.2">°</tspan></text><text x="939.92" y="317.5" font-size="6.2" fill="#222" text-anchor="middle">210<tspan font-size="5.6" dy="-1.2">°</tspan></text><text x="973.4" y="346.61" font-size="6.2" fill="#222" text-anchor="middle">240<tspan font-size="5.6" dy="-1.2">°</tspan></text><text x="1015.35" y="357.05" font-size="6.2" fill="#222" text-anchor="middle">270<tspan font-size="5.6" dy="-1.2">°</tspan></text><text x="1057.3" y="346.61" font-size="6.2" fill="#222" text-anchor="middle">300<tspan font-size="5.6" dy="-1.2">°</tspan></text><text x="1091.13" y="317.7" font-size="6.2" fill="#222" text-anchor="middle">330<tspan font-size="5.6" dy="-1.2">°</tspan></text><text x="1026.8" y="282.82" font-size="6.2" fill="#1a1a1a" text-anchor="middle">30<tspan font-size="5.6" dy="-1.2">°</tspan></text><text x="1034.01" y="291.13" font-size="6.2" fill="#1a1a1a" text-anchor="middle">60<tspan font-size="5.6" dy="-1.2">°</tspan></text><text x="1042.85" y="299.45" font-size="6.2" fill="#1a1a1a" text-anchor="middle">90<tspan font-size="5.6" dy="-1.2">°</tspan></text><text x="1055.45" y="308.65" font-size="6.2" fill="#1a1a1a" text-anchor="middle">120<tspan font-size="5.6" dy="-1.2">°</tspan></text><text x="1066.55" y="316.65" font-size="6.2" fill="#1a1a1a" text-anchor="middle">150<tspan font-size="5.6" dy="-1.2">°</tspan></text><text x="1076.65" y="325.35" font-size="6.2" fill="#1a1a1a" text-anchor="middle">180<tspan font-size="5.6" dy="-1.2">°</tspan></text><circle cx="1015.35" cy="233" r="3.5" fill="#1490ff" stroke="#fff" stroke-width="0.7"/><circle cx="976.6" cy="271.75" r="3.5" fill="#9747ff" stroke="#fff" stroke-width="0.7"/><circle cx="1015.35" cy="271.75" r="3.5" fill="#4ac6d4" stroke="#fff" stroke-width="0.7"/><circle cx="1054.1" cy="271.75" r="3.5" fill="#bf1f6e" stroke="#fff" stroke-width="0.7"/><circle cx="1015.35" cy="310.5" r="3.5" fill="#1d0a6b" stroke="#fff" stroke-width="0.7"/><rect x="1113.1" y="191" width="11.6" height="154.8" fill="url(#cbar)"/><path d="M1123.2 191H1124.7" stroke="#333" stroke-width="0.4"/><text x="1126.6" y="192.6" font-size="4.5" fill="#6e6e6e">5</text><path d="M1123.2 221.96H1124.7" stroke="#333" stroke-width="0.4"/><text x="1126.6" y="223.56" font-size="4.5" fill="#6e6e6e">0</text><path d="M1123.2 252.92H1124.7" stroke="#333" stroke-width="0.4"/><text x="1126.6" y="254.52" font-size="4.5" fill="#6e6e6e">-5</text><path d="M1123.2 283.88H1124.7" stroke="#333" stroke-width="0.4"/><text x="1126.6" y="285.48" font-size="4.5" fill="#6e6e6e">-10</text><path d="M1123.2 314.84H1124.7" stroke="#333" stroke-width="0.4"/><text x="1126.6" y="316.44" font-size="4.5" fill="#6e6e6e">-15</text><path d="M1123.2 345.8H1124.7" stroke="#333" stroke-width="0.4"/><text x="1126.6" y="347.4" font-size="4.5" fill="#6e6e6e">-20</text></svg></div>
<div class="cell h" style="left:1px;top:253px;width:168px;height:226px"></div>
<div class="cell" style="left:170px;top:253px;width:226px;height:226px"><svg width="226" height="226" viewBox="227 387 226 226"><g fill="none" stroke="#ececee" stroke-width="0.42"><circle cx="345" cy="504.1" r="7.48"/><circle cx="345" cy="504.1" r="22.44"/><circle cx="345" cy="504.1" r="37.4"/><circle cx="345" cy="504.1" r="52.36"/><circle cx="345" cy="504.1" r="67.32"/><path d="M347.6 489.37L357.99 430.44"/><path d="M350.12 490.04L370.58 433.81"/><path d="M354.62 492.64L393.08 446.8"/><path d="M356.46 494.48L402.3 456.02"/><path d="M359.06 498.98L415.29 478.52"/><path d="M359.73 501.5L418.66 491.11"/><path d="M359.73 506.7L418.66 517.09"/><path d="M359.06 509.22L415.29 529.68"/><path d="M356.46 513.72L402.3 552.18"/><path d="M354.62 515.56L393.08 561.4"/><path d="M350.12 518.16L370.58 574.39"/><path d="M347.6 518.83L357.99 577.76"/><path d="M342.4 518.83L332.01 577.76"/><path d="M339.88 518.16L319.42 574.39"/><path d="M335.38 515.56L296.92 561.4"/><path d="M333.54 513.72L287.7 552.18"/><path d="M330.94 509.22L274.71 529.68"/><path d="M330.27 506.7L271.34 517.09"/><path d="M330.27 501.5L271.34 491.11"/><path d="M330.94 498.98L274.71 478.52"/><path d="M333.54 494.48L287.7 456.02"/><path d="M335.38 492.64L296.92 446.8"/><path d="M339.88 490.04L319.42 433.81"/><path d="M342.4 489.37L332.01 430.44"/></g><g fill="none" stroke="#c6c6ca" stroke-width="0.48"><circle cx="345" cy="504.1" r="14.96"/><circle cx="345" cy="504.1" r="29.92"/><circle cx="345" cy="504.1" r="44.88"/><circle cx="345" cy="504.1" r="59.84"/><path d="M345 504.1L382.4 439.32"/><path d="M345 504.1L409.78 466.7"/><path d="M345 504.1L409.78 541.5"/><path d="M345 504.1L382.4 568.88"/><path d="M345 504.1L307.6 568.88"/><path d="M345 504.1L280.22 541.5"/><path d="M345 504.1L280.22 466.7"/><path d="M345 504.1L307.6 439.32"/></g><path d="M270.2 504.1H419.8M345 429.3V578.9" fill="none" stroke="#b2b2b6" stroke-width="0.55"/><circle cx="345" cy="504.1" r="74.8" fill="none" stroke="#96969b" stroke-width="0.58"/><text x="345" y="425.65" font-size="5.4" fill="#222" text-anchor="middle" stroke="#222" stroke-width="0.08">0</text><text x="387.39" y="436.11" font-size="5.4" fill="#222" text-anchor="middle" stroke="#222" stroke-width="0.08">30</text><text x="415.65" y="464.35" font-size="5.4" fill="#222" text-anchor="middle" stroke="#222" stroke-width="0.08">60</text><text x="425.65" y="506.05" font-size="5.4" fill="#222" text-anchor="middle" stroke="#222" stroke-width="0.08">90</text><text x="417.06" y="547.75" font-size="5.4" fill="#222" text-anchor="middle" stroke="#222" stroke-width="0.08">120</text><text x="388.68" y="575.99" font-size="5.4" fill="#222" text-anchor="middle" stroke="#222" stroke-width="0.08">150</text><text x="345" y="586.45" font-size="5.4" fill="#222" text-anchor="middle" stroke="#222" stroke-width="0.08">180</text><text x="301.32" y="575.99" font-size="5.4" fill="#222" text-anchor="middle" stroke="#222" stroke-width="0.08">210</text><text x="272.94" y="547.75" font-size="5.4" fill="#222" text-anchor="middle" stroke="#222" stroke-width="0.08">240</text><text x="262.7" y="506.05" font-size="5.4" fill="#222" text-anchor="middle" stroke="#222" stroke-width="0.08">270</text><text x="272.94" y="464.35" font-size="5.4" fill="#222" text-anchor="middle" stroke="#222" stroke-width="0.08">300</text><text x="301.32" y="436.11" font-size="5.4" fill="#222" text-anchor="middle" stroke="#222" stroke-width="0.08">330</text><path d="M345 439.4C347.89 439.39 354.01 439.78 356.73 440.17C359.46 440.56 359.34 441.73 361.36 441.73C363.39 441.74 366.63 439.95 368.89 440.2C371.16 440.45 372.68 441.21 374.95 443.23C377.22 445.24 380.5 449.91 382.5 452.29C384.5 454.68 385.44 456.27 386.94 457.52C388.45 458.77 389.13 459.16 391.53 459.79C393.93 460.42 398.33 460.19 401.36 461.32C404.39 462.45 407.85 464.8 409.71 466.59C411.58 468.37 411.56 468.86 412.57 472.02C413.58 475.17 415.1 481.27 415.76 485.54C416.42 489.8 416.52 494.5 416.51 497.59C416.5 500.69 416.83 501.33 415.69 504.1C414.54 506.87 411.8 511.79 409.66 514.23C407.53 516.67 404.51 517.48 402.87 518.74C401.22 520.01 400.31 520.42 399.81 521.8C399.31 523.19 401.25 525.54 399.86 527.05C398.47 528.55 393.76 529.19 391.49 530.83C389.23 532.48 388.27 534.41 386.27 536.93C384.27 539.45 381.63 543.56 379.49 545.95C377.36 548.33 375.59 549.98 373.44 551.24C371.29 552.5 368.85 552.39 366.59 553.52C364.33 554.65 361.99 557.42 359.86 558.04C357.73 558.66 355.43 558.24 353.8 557.23C352.16 556.23 351.25 555.38 350.04 552.01C348.82 548.63 347.33 540.23 346.49 536.98C345.65 533.73 345.8 532.8 345 532.52C344.2 532.25 342.65 533.35 341.72 535.34C340.78 537.34 340.28 542.09 339.4 544.48C338.51 546.87 337.65 548.55 336.39 549.67C335.13 550.79 333.23 551.59 331.84 551.22C330.46 550.85 329.48 549.09 328.1 547.45C326.72 545.81 324.82 542.9 323.56 541.39C322.3 539.87 322.04 538.77 320.55 538.38C319.05 538 316.58 538.73 314.57 539.1C312.57 539.47 309.91 540.96 308.5 540.6C307.1 540.23 306.29 538.56 306.15 536.93C306.01 535.3 308.03 532.22 307.66 530.84C307.28 529.45 306.52 529.88 303.88 528.61C301.24 527.35 295.44 525.53 291.79 523.26C288.14 520.98 284.54 518.18 281.98 514.99C279.41 511.79 277.54 508.01 276.41 504.1C275.28 500.19 274.91 495.91 275.21 491.54C275.51 487.18 276.33 482.09 278.21 477.93C280.1 473.76 283.25 469.45 286.52 466.56C289.79 463.67 293.92 462.21 297.83 460.58C301.74 458.95 307.21 457.61 309.98 456.78C312.76 455.95 312.71 456.75 314.47 455.62C316.23 454.48 318.05 451.78 320.56 449.97C323.07 448.16 326.4 446.37 329.54 444.74C332.68 443.12 336.84 441.13 339.41 440.24C341.99 439.35 342.11 439.41 345 439.4Z" fill="none" stroke="#1212fa" stroke-width="1.3" stroke-linejoin="round"/><rect x="328.6" y="477.9" width="34.3" height="57.5" rx="2.4" fill="#8c8c98" opacity="0.42" filter="url(#bl)"/><rect x="327.7" y="476.4" width="34.3" height="57.5" rx="2.4" fill="url(#dev1)" stroke="#e3e3e9" stroke-width="0.35"/><g transform="translate(338.38 485.76) scale(0.7020000000000001)" fill="#a9acb5"><path d="M3.2 0a2.6 2.6 0 0 1 0 5.2H2.6V3.9h.6a1.3 1.3 0 1 0-1.3-1.3v.3H.6v-.3A2.6 2.6 0 0 1 3.2 0z"/><path d="M0 3.4h2.2v3H.9V4.7H0z"/></g><text x="342.7" y="489.63" font-size="2.43" fill="#c4c7ce">tp-link</text><text x="365.81" y="526.56" font-size="5.2" fill="#222" text-anchor="middle" stroke="#222" stroke-width="0.08">-15</text><text x="378.77" y="534.04" font-size="5.2" fill="#222" text-anchor="middle" stroke="#222" stroke-width="0.08">-10</text><text x="391.72" y="541.52" font-size="5.2" fill="#222" text-anchor="middle" stroke="#222" stroke-width="0.08">-5</text><text x="406.28" y="548" font-size="5.2" fill="#222" text-anchor="middle" stroke="#222" stroke-width="0.08">0</text><circle cx="344.4" cy="477.2" r="3" fill="#41c9d6"/><circle cx="327.6" cy="505.5" r="3" fill="#9747ff"/><circle cx="344.4" cy="505.5" r="3" fill="#1d0a6b"/><circle cx="362.8" cy="505.5" r="3" fill="#c9145f"/></svg></div>
<div class="cell" style="left:397px;top:253px;width:226px;height:226px"><svg width="226" height="226" viewBox="454 387 226 226"><path d="M571.45 431.1A73.8 73.8 0 0 1 571.45 578.7Z" fill="#dcdceb"/><g fill="none" stroke="#ececee" stroke-width="0.42"><circle cx="571.45" cy="504.9" r="7.38"/><circle cx="571.45" cy="504.9" r="22.14"/><circle cx="571.45" cy="504.9" r="36.9"/><circle cx="571.45" cy="504.9" r="51.66"/><circle cx="571.45" cy="504.9" r="66.42"/><path d="M574.01 490.36L584.27 432.22"/><path d="M576.5 491.03L596.69 435.55"/><path d="M580.94 493.59L618.89 448.37"/><path d="M582.76 495.41L627.98 457.46"/><path d="M585.32 499.85L640.8 479.66"/><path d="M585.99 502.34L644.13 492.08"/><path d="M585.99 507.46L644.13 517.72"/><path d="M585.32 509.95L640.8 530.14"/><path d="M582.76 514.39L627.98 552.34"/><path d="M580.94 516.21L618.89 561.43"/><path d="M576.5 518.77L596.69 574.25"/><path d="M574.01 519.44L584.27 577.58"/><path d="M568.89 519.44L558.63 577.58"/><path d="M566.4 518.77L546.21 574.25"/><path d="M561.96 516.21L524.01 561.43"/><path d="M560.14 514.39L514.92 552.34"/><path d="M557.58 509.95L502.1 530.14"/><path d="M556.91 507.46L498.77 517.72"/><path d="M556.91 502.34L498.77 492.08"/><path d="M557.58 499.85L502.1 479.66"/><path d="M560.14 495.41L514.92 457.46"/><path d="M561.96 493.59L524.01 448.37"/><path d="M566.4 491.03L546.21 435.55"/><path d="M568.89 490.36L558.63 432.22"/></g><g fill="none" stroke="#c6c6ca" stroke-width="0.48"><circle cx="571.45" cy="504.9" r="14.76"/><circle cx="571.45" cy="504.9" r="29.52"/><circle cx="571.45" cy="504.9" r="44.28"/><circle cx="571.45" cy="504.9" r="59.04"/><path d="M571.45 504.9L608.35 440.99"/><path d="M571.45 504.9L635.36 468"/><path d="M571.45 504.9L635.36 541.8"/><path d="M571.45 504.9L608.35 568.81"/><path d="M571.45 504.9L534.55 568.81"/><path d="M571.45 504.9L507.54 541.8"/><path d="M571.45 504.9L507.54 468"/><path d="M571.45 504.9L534.55 440.99"/></g><path d="M497.65 504.9H645.25M571.45 431.1V578.7" fill="none" stroke="#b2b2b6" stroke-width="0.55"/><circle cx="571.45" cy="504.9" r="73.8" fill="none" stroke="#96969b" stroke-width="0.58"/><text x="571.45" y="427.45" font-size="5.4" fill="#222" text-anchor="middle" stroke="#222" stroke-width="0.08">0</text><text x="613.34" y="437.77" font-size="5.4" fill="#222" text-anchor="middle" stroke="#222" stroke-width="0.08">30</text><text x="641.24" y="465.65" font-size="5.4" fill="#222" text-anchor="middle" stroke="#222" stroke-width="0.08">60</text><text x="651.1" y="506.85" font-size="5.4" fill="#222" text-anchor="middle" stroke="#222" stroke-width="0.08">90</text><text x="642.65" y="548.05" font-size="5.4" fill="#222" text-anchor="middle" stroke="#222" stroke-width="0.08">120</text><text x="614.63" y="575.93" font-size="5.4" fill="#222" text-anchor="middle" stroke="#222" stroke-width="0.08">150</text><text x="571.45" y="586.25" font-size="5.4" fill="#222" text-anchor="middle" stroke="#222" stroke-width="0.08">180</text><text x="528.27" y="575.93" font-size="5.4" fill="#222" text-anchor="middle" stroke="#222" stroke-width="0.08">210</text><text x="500.25" y="548.05" font-size="5.4" fill="#222" text-anchor="middle" stroke="#222" stroke-width="0.08">240</text><text x="490.15" y="506.85" font-size="5.4" fill="#222" text-anchor="middle" stroke="#222" stroke-width="0.08">270</text><text x="500.25" y="465.65" font-size="5.4" fill="#222" text-anchor="middle" stroke="#222" stroke-width="0.08">300</text><text x="528.27" y="437.77" font-size="5.4" fill="#222" text-anchor="middle" stroke="#222" stroke-width="0.08">330</text><path d="M571.38 438.97C574.65 439.02 577.68 438.77 580.75 438.67C583.82 438.57 586.79 437.99 589.82 438.37C592.84 438.75 595.86 439.75 598.88 440.94C601.91 442.12 604.93 443.46 607.95 445.47C610.97 447.49 614 450.26 617.02 453.03C620.04 455.8 623.32 459.07 626.09 462.1C628.86 465.12 631.63 468.02 633.64 471.16C635.66 474.31 637.17 477.59 638.18 480.99C639.19 484.39 639.69 488.04 639.69 491.57C639.69 495.09 639.06 499 638.18 502.15C637.3 505.29 636.04 508.19 634.4 510.46C632.76 512.73 630.5 514.41 628.36 515.75C626.21 517.08 623.44 517.71 621.55 518.47C619.66 519.22 617.52 519.22 617.02 520.28C616.52 521.34 617.52 523.05 618.53 524.82C619.54 526.58 621.76 528.85 623.07 530.86C624.38 532.88 626.01 535.19 626.39 536.91C626.77 538.62 626.39 540.18 625.33 541.14C624.27 542.1 622.18 542.65 620.04 542.65C617.9 542.65 615.26 541.72 612.49 541.14C609.72 540.56 605.74 539.38 603.42 539.17C601.1 538.97 599.59 539.05 598.58 539.93C597.57 540.81 597.95 543 597.37 544.46C596.79 545.92 596.62 547.86 595.11 548.7C593.59 549.53 590.7 549.58 588.3 549.45C585.91 549.32 582.76 548.77 580.75 547.94C578.73 547.11 577.42 545.92 576.21 544.46C575.01 543 574.25 540.69 573.49 539.17C572.74 537.66 572.61 536.03 571.68 535.4C570.75 534.77 568.91 534.39 567.9 535.4C566.89 536.4 566.77 539.17 565.63 541.44C564.5 543.71 562.86 546.73 561.1 549C559.34 551.26 557.32 553.48 555.06 555.04C552.79 556.6 549.77 557.99 547.5 558.37C545.23 558.75 543.72 558.37 541.45 557.31C539.19 556.25 536.29 554.16 533.9 552.02C531.5 549.88 528.66 546.98 527.1 544.46C525.53 541.94 525.03 539.43 524.53 536.91C524.02 534.39 524.78 531.24 524.07 529.35C523.37 527.46 522.06 526.83 520.29 525.57C518.53 524.31 515.51 523.43 513.49 521.79C511.48 520.16 509.39 518.27 508.2 515.75C507.02 513.23 506.89 510.21 506.39 506.68C505.89 503.15 505.51 498.62 505.18 494.59C504.85 490.56 504.17 486.53 504.43 482.5C504.68 478.47 505.31 474.19 506.69 470.41C508.08 466.63 510.22 462.98 512.74 459.83C515.26 456.68 518.53 454.16 521.81 451.52C525.08 448.87 529.11 445.9 532.39 443.96C535.66 442.02 538.43 440.84 541.45 439.88C544.48 438.92 547.25 438.47 550.52 438.22C553.8 437.96 557.62 438.24 561.1 438.37C564.58 438.49 568.1 438.92 571.38 438.97Z" fill="none" stroke="#1212fa" stroke-width="1.3" stroke-linejoin="round"/><rect x="568.15" y="477.5" width="8" height="59.6" rx="0.8" fill="#8e8e9a" opacity="0.4" filter="url(#bl)"/><rect x="567.45" y="476.5" width="8" height="59.6" rx="0.8" fill="url(#dev2)"/><text x="579.13" y="519.78" font-size="5.2" fill="#222" text-anchor="middle" stroke="#222" stroke-width="0.08">-20</text><text x="591.92" y="527.16" font-size="5.2" fill="#222" text-anchor="middle" stroke="#222" stroke-width="0.08">-15</text><text x="604.7" y="534.54" font-size="5.2" fill="#222" text-anchor="middle" stroke="#222" stroke-width="0.08">-10</text><text x="617.48" y="541.92" font-size="5.2" fill="#222" text-anchor="middle" stroke="#222" stroke-width="0.08">-5</text><text x="631.86" y="548.3" font-size="5.2" fill="#222" text-anchor="middle" stroke="#222" stroke-width="0.08">0</text><text x="566.25" y="512.1" font-size="5.2" fill="#222" text-anchor="middle" stroke="#222" stroke-width="0.08">-2</text><circle cx="571.55" cy="506.4" r="3" fill="#c9145f"/></svg></div>
<div class="cell" style="left:624px;top:253px;width:226px;height:226px"><svg width="226" height="226" viewBox="681 387 226 226"><path d="M728.1 503.5A72.4 72.4 0 0 1 872.9 503.5Z" fill="#dcdceb"/><g fill="none" stroke="#ececee" stroke-width="0.42"><circle cx="800.5" cy="503.5" r="7.24"/><circle cx="800.5" cy="503.5" r="21.72"/><circle cx="800.5" cy="503.5" r="36.2"/><circle cx="800.5" cy="503.5" r="50.68"/><circle cx="800.5" cy="503.5" r="65.16"/><path d="M803.01 489.24L813.07 432.2"/><path d="M805.45 489.89L825.26 435.47"/><path d="M809.81 492.41L847.04 448.04"/><path d="M811.59 494.19L855.96 456.96"/><path d="M814.11 498.55L868.53 478.74"/><path d="M814.76 500.99L871.8 490.93"/><path d="M814.76 506.01L871.8 516.07"/><path d="M814.11 508.45L868.53 528.26"/><path d="M811.59 512.81L855.96 550.04"/><path d="M809.81 514.59L847.04 558.96"/><path d="M805.45 517.11L825.26 571.53"/><path d="M803.01 517.76L813.07 574.8"/><path d="M797.99 517.76L787.93 574.8"/><path d="M795.55 517.11L775.74 571.53"/><path d="M791.19 514.59L753.96 558.96"/><path d="M789.41 512.81L745.04 550.04"/><path d="M786.89 508.45L732.47 528.26"/><path d="M786.24 506.01L729.2 516.07"/><path d="M786.24 500.99L729.2 490.93"/><path d="M786.89 498.55L732.47 478.74"/><path d="M789.41 494.19L745.04 456.96"/><path d="M791.19 492.41L753.96 448.04"/><path d="M795.55 489.89L775.74 435.47"/><path d="M797.99 489.24L787.93 432.2"/></g><g fill="none" stroke="#c6c6ca" stroke-width="0.48"><circle cx="800.5" cy="503.5" r="14.48"/><circle cx="800.5" cy="503.5" r="28.96"/><circle cx="800.5" cy="503.5" r="43.44"/><circle cx="800.5" cy="503.5" r="57.92"/><path d="M800.5 503.5L836.7 440.8"/><path d="M800.5 503.5L863.2 467.3"/><path d="M800.5 503.5L863.2 539.7"/><path d="M800.5 503.5L836.7 566.2"/><path d="M800.5 503.5L764.3 566.2"/><path d="M800.5 503.5L737.8 539.7"/><path d="M800.5 503.5L737.8 467.3"/><path d="M800.5 503.5L764.3 440.8"/></g><path d="M728.1 503.5H872.9M800.5 431.1V575.9" fill="none" stroke="#b2b2b6" stroke-width="0.55"/><circle cx="800.5" cy="503.5" r="72.4" fill="none" stroke="#96969b" stroke-width="0.58"/><text x="877.9" y="505.45" font-size="5.4" fill="#222" text-anchor="middle" stroke="#222" stroke-width="0.08">0</text><text x="869.77" y="464.55" font-size="5.4" fill="#222" text-anchor="middle" stroke="#222" stroke-width="0.08">30</text><text x="842.09" y="436.89" font-size="5.4" fill="#222" text-anchor="middle" stroke="#222" stroke-width="0.08">60</text><text x="800.5" y="426.65" font-size="5.4" fill="#222" text-anchor="middle" stroke="#222" stroke-width="0.08">90</text><text x="757.62" y="436.89" font-size="5.4" fill="#222" text-anchor="middle" stroke="#222" stroke-width="0.08">120</text><text x="729.82" y="464.55" font-size="5.4" fill="#222" text-anchor="middle" stroke="#222" stroke-width="0.08">150</text><text x="719.8" y="505.45" font-size="5.4" fill="#222" text-anchor="middle" stroke="#222" stroke-width="0.08">180</text><text x="729.82" y="546.35" font-size="5.4" fill="#222" text-anchor="middle" stroke="#222" stroke-width="0.08">210</text><text x="757.62" y="574.01" font-size="5.4" fill="#222" text-anchor="middle" stroke="#222" stroke-width="0.08">240</text><text x="800.5" y="584.25" font-size="5.4" fill="#222" text-anchor="middle" stroke="#222" stroke-width="0.08">270</text><text x="843.38" y="574.01" font-size="5.4" fill="#222" text-anchor="middle" stroke="#222" stroke-width="0.08">300</text><text x="871.18" y="546.35" font-size="5.4" fill="#222" text-anchor="middle" stroke="#222" stroke-width="0.08">330</text><path d="M855.84 503.51C855.47 501.24 855.72 496.58 855.09 493.08C854.46 489.58 853.58 485.77 852.07 482.5C850.55 479.22 848.29 476.2 846.02 473.43C843.75 470.66 841.23 468.14 838.46 465.87C835.69 463.61 832.17 461.97 829.4 459.83C826.62 457.69 824.11 454.66 821.84 453.03C819.57 451.39 818.06 450.43 815.79 450.01C813.53 449.58 810.25 450.13 808.24 450.46C806.22 450.79 805.01 451.47 803.7 451.97C802.39 452.47 801.51 453.56 800.38 453.48C799.24 453.41 798.24 452.6 796.9 451.52C795.57 450.43 794.01 448.24 792.37 446.98C790.73 445.72 789.22 444.72 787.08 443.96C784.94 443.2 782.04 442.32 779.52 442.45C777 442.57 774.11 443.46 771.96 444.72C769.82 445.97 768.19 447.86 766.68 450.01C765.16 452.15 764.28 454.92 762.9 457.56C761.51 460.21 760.38 462.98 758.36 465.87C756.35 468.77 753.2 471.92 750.81 474.94C748.41 477.96 745.89 480.74 744.01 484.01C742.12 487.28 740.53 490.81 739.47 494.59C738.41 498.37 737.78 502.65 737.66 506.68C737.53 510.71 737.78 514.74 738.72 518.77C739.65 522.8 741.23 527.08 743.25 530.86C745.26 534.64 748.04 538.42 750.81 541.44C753.58 544.46 756.6 546.6 759.87 549C763.15 551.39 767.18 553.78 770.45 555.8C773.73 557.81 776.25 559.75 779.52 561.09C782.8 562.42 786.62 563.51 790.1 563.81C793.58 564.11 797.1 563.23 800.38 562.9C803.65 562.57 806.93 562.52 809.75 561.84C812.57 561.16 814.79 560.21 817.3 558.82C819.82 557.44 822.09 555.04 824.86 553.53C827.63 552.02 830.91 551.14 833.93 549.75C836.95 548.37 840.23 546.98 843 545.22C845.77 543.46 848.79 541.57 850.55 539.17C852.32 536.78 852.44 533.76 853.58 530.86C854.71 527.96 856.47 524.82 857.36 521.79C858.24 518.77 858.87 515.24 858.87 512.73C858.87 510.21 857.86 508.22 857.36 506.68C856.85 505.14 856.22 505.77 855.84 503.51Z" fill="none" stroke="#0f8a2e" stroke-width="1.0" stroke-linejoin="round"/><path d="M868.69 503.51C868.89 498.47 869.02 493.05 868.39 488.54C867.76 484.04 866.37 480.48 864.91 476.45C863.45 472.42 861.76 467.64 859.62 464.36C857.48 461.09 854.84 458.95 852.07 456.81C849.29 454.66 845.77 452.9 843 451.52C840.23 450.13 837.71 449.07 835.44 448.49C833.17 447.91 831.54 447.79 829.4 448.04C827.25 448.29 824.61 449.93 822.59 450.01C820.58 450.08 818.94 449.63 817.3 448.49C815.67 447.36 814.53 444.54 812.77 443.2C811.01 441.87 808.79 440.99 806.73 440.48C804.66 439.98 802.39 439.98 800.38 440.18C798.36 440.38 796.6 441.39 794.63 441.69C792.67 441.99 790.86 441.87 788.59 441.99C786.32 442.12 783.8 442.12 781.03 442.45C778.26 442.78 774.99 443.2 771.96 443.96C768.94 444.72 765.92 445.47 762.9 446.98C759.87 448.49 756.85 450.63 753.83 453.03C750.81 455.42 747.53 458.19 744.76 461.34C741.99 464.49 739.22 468.14 737.2 471.92C735.19 475.7 733.68 479.98 732.67 484.01C731.66 488.04 731.21 492.32 731.16 496.1C731.11 499.88 731.74 502.9 732.37 506.68C733 510.46 733.63 514.74 734.94 518.77C736.25 522.8 738.09 527.08 740.23 530.86C742.37 534.64 745.01 538.42 747.78 541.44C750.55 544.46 753.58 546.73 756.85 549C760.13 551.26 763.9 553.03 767.43 555.04C770.96 557.06 774.48 559.58 778.01 561.09C781.54 562.6 784.86 563.23 788.59 564.11C792.32 564.99 796.6 566.08 800.38 566.38C804.16 566.68 807.68 566.55 811.26 565.92C814.84 565.29 818.56 563.78 821.84 562.6C825.11 561.42 827.63 560.08 830.91 558.82C834.18 557.56 838.21 556.68 841.49 555.04C844.76 553.41 847.78 551.26 850.55 549C853.32 546.73 855.97 544.46 858.11 541.44C860.25 538.42 861.89 534.64 863.4 530.86C864.91 527.08 866.3 523.33 867.18 518.77C868.06 514.21 868.49 508.54 868.69 503.51Z" fill="none" stroke="#f0101e" stroke-width="1.05" stroke-linejoin="round"/><path d="M864.91 503.51C865.04 499.22 864.79 494.31 864.16 490.06C863.53 485.8 862.64 481.74 861.13 477.96C859.62 474.19 857.36 470.41 855.09 467.39C852.82 464.36 850.3 461.97 847.53 459.83C844.76 457.69 841.49 455.92 838.46 454.54C835.44 453.15 832.17 452.52 829.4 451.52C826.62 450.51 824.11 449.63 821.84 448.49C819.57 447.36 817.81 445.6 815.79 444.72C813.78 443.83 811.64 443.33 809.75 443.2C807.86 443.08 806.02 443.51 804.46 443.96C802.9 444.41 801.76 446.05 800.38 445.92C798.99 445.8 797.86 444.29 796.15 443.2C794.43 442.12 792.37 440.23 790.1 439.43C787.83 438.62 785.06 438.12 782.54 438.37C780.03 438.62 777.25 439.75 774.99 440.94C772.72 442.12 771.21 443.71 768.94 445.47C766.68 447.23 764.16 449.38 761.39 451.52C758.61 453.66 755.34 455.67 752.32 458.32C749.29 460.96 745.77 464.11 743.25 467.39C740.73 470.66 738.72 474.19 737.2 477.96C735.69 481.74 734.74 486.03 734.18 490.06C733.63 494.09 733.63 498.12 733.88 502.15C734.13 506.18 734.76 510.21 735.69 514.24C736.62 518.27 737.71 522.55 739.47 526.33C741.23 530.11 743.63 533.63 746.27 536.91C748.92 540.18 752.07 543.08 755.34 545.97C758.61 548.87 762.64 552.02 765.92 554.29C769.19 556.55 771.71 558.07 774.99 559.58C778.26 561.09 781.79 562.65 785.57 563.36C789.35 564.06 793.63 563.73 797.66 563.81C801.69 563.88 806.22 564.14 809.75 563.81C813.27 563.48 815.79 562.8 818.82 561.84C821.84 560.89 824.61 559.58 827.88 558.07C831.16 556.55 835.19 554.54 838.46 552.78C841.74 551.01 844.76 549.88 847.53 547.49C850.3 545.09 852.95 541.69 855.09 538.42C857.23 535.14 858.99 531.62 860.38 527.84C861.76 524.06 862.64 519.8 863.4 515.75C864.16 511.69 864.79 507.79 864.91 503.51Z" fill="none" stroke="#1212fa" stroke-width="1.15" stroke-linejoin="round"/><path d="M777.4 501.2H825.1a1.4 1.4 0 0 1 1.4 1.4V507.6a4.2 4.2 0 0 1 -4.2 4.2H780.2a4.2 4.2 0 0 1 -4.2 -4.2V502.6a1.4 1.4 0 0 1 1.4 -1.4z" fill="#85858f" opacity="0.5" filter="url(#bl)"/><path d="M776.7 499.9H824.4a1.4 1.4 0 0 1 1.4 1.4V506.3a4.2 4.2 0 0 1 -4.2 4.2H779.5a4.2 4.2 0 0 1 -4.2 -4.2V501.3a1.4 1.4 0 0 1 1.4 -1.4z" fill="url(#dev3)" stroke="#dcdcdc" stroke-width="0.3"/><rect x="786.7" y="501.3" width="3" height="1.7" rx="0.3" fill="#fafafa" stroke="#8a8a8a" stroke-width="0.3"/><path d="M786.7 501.4h3" stroke="#555" stroke-width="0.5"/><circle cx="783.6" cy="502.5" r="0.6" fill="#1c1c1c"/><path d="M792.8 510.7h3.2" stroke="#b8b8b8" stroke-width="0.6"/><text x="807.94" y="518.24" font-size="5.2" fill="#222" text-anchor="middle" stroke="#222" stroke-width="0.08">-20</text><text x="820.48" y="525.48" font-size="5.2" fill="#222" text-anchor="middle" stroke="#222" stroke-width="0.08">-15</text><text x="833.02" y="532.72" font-size="5.2" fill="#222" text-anchor="middle" stroke="#222" stroke-width="0.08">-10</text><text x="845.56" y="539.96" font-size="5.2" fill="#222" text-anchor="middle" stroke="#222" stroke-width="0.08">-5</text><text x="859.7" y="546.2" font-size="5.2" fill="#222" text-anchor="middle" stroke="#222" stroke-width="0.08">0</text><circle cx="800.2" cy="505.6" r="3" fill="#41c9d6"/><path d="M836.3 403.3H856.3" stroke="#f0101e" stroke-width="1.35"/><text x="858.4" y="406.7" font-size="8.6" fill="#141414" stroke="#141414" stroke-width="0.22">theta80<tspan font-size="7.4" dy="-0.6">°</tspan></text><path d="M836.3 415.4H856.3" stroke="#2a3cc0" stroke-width="1.55"/><text x="858.4" y="418.8" font-size="8.6" fill="#141414" stroke="#141414" stroke-width="0.22">theta90<tspan font-size="7.4" dy="-0.6">°</tspan></text><path d="M836.3 427.5H856.3" stroke="#1f9a4a" stroke-width="0.95"/><text x="858.4" y="430.9" font-size="8.6" fill="#141414" stroke="#141414" stroke-width="0.22">theta100<tspan font-size="7.4" dy="-0.6">°</tspan></text></svg></div>
<div class="cell" style="left:851px;top:253px;width:225px;height:226px"><div class="hm" style="left:30.40px;top:31.00px;width:153.80px;height:153.80px"><div class="hmb"><i style="left:-6.15px;top:-6.15px;width:166.10px;height:166.10px;background:conic-gradient(#0015ff,#0015ff,#0015ff,#0015ff,#0015ff,#0015ff,#0015ff,#0015ff,#0015ff,#0015ff 90deg,#003cff 90deg,#003cff,#003cff,#003cff,#003cff,#003cff,#003cff,#003cff,#003cff,#003cff,#003cff,#003cff,#003cff,#003cff,#003cff,#003cff,#003cff,#003cff,#003cff 270deg,#0015ff 270deg,#0015ff,#0015ff,#0015ff,#0015ff,#0015ff,#0015ff,#0015ff,#0015ff,#0015ff)"></i><i style="left:0.62px;top:0.62px;width:152.57px;height:152.57px;background:conic-gradient(#0064ff,#0064ff,#0064ff,#0064ff,#0064ff,#0064ff,#0064ff,#0064ff,#0064ff,#0064ff 90deg,#006cff 90deg,#006cff,#006cff,#006cff,#006cff,#006cff,#006cff,#006cff,#006cff,#006cff,#006cff,#006cff,#006cff,#006cff,#006cff,#006cff,#006cff,#006cff,#006cff 270deg,#0064ff 270deg,#0064ff,#0064ff,#0064ff,#0064ff,#0064ff,#0064ff,#0064ff,#0064ff,#0064ff)"></i><i style="left:1.38px;top:1.38px;width:151.03px;height:151.03px;background:conic-gradient(#00a4ff,#00a4ff,#00a4ff,#00a4ff,#00a4ff,#00a4ff,#00a4ff,#00a4ff,#00a4ff,#00a4ff 90deg,#00c6ff 90deg,#00c6ff,#00c6ff,#00c6ff,#00c6ff,#00c6ff,#00c6ff,#00c6ff,#00c6ff,#00c6ff,#00c6ff,#00c6ff,#00c6ff,#00c6ff,#00c6ff,#00c6ff,#00c6ff,#00c6ff,#00c6ff 270deg,#00a4ff 270deg,#00a4ff,#00a4ff,#00a4ff,#00a4ff,#00a4ff,#00a4ff,#00a4ff,#00a4ff,#00a4ff)"></i><i style="left:2.31px;top:2.31px;width:149.19px;height:149.19px;background:conic-gradient(#00e4ff,#00e4ff,#00e4ff,#00e4ff,#00e4ff,#00e4ff,#00e4ff,#00e4ff,#00e4ff,#00e4ff 90deg,#0efff1 90deg,#0efff1,#0efff1,#0efff1,#0efff1,#0efff1,#0efff1,#0efff1,#0efff1,#0efff1,#0efff1,#0efff1,#0efff1,#0efff1,#0efff1,#0efff1,#0efff1,#0efff1,#0efff1 270deg,#00ddff 270deg,#00ddff,#00ddff,#00ddff,#00dfff,#00e3ff,#00e4ff,#00e4ff,#00e4ff,#00e4ff)"></i><i style="left:3.46px;top:3.46px;width:146.88px;height:146.88px;background:conic-gradient(#2bffd4,#2bffd4,#2bffd4,#2bffd4,#2bffd4,#2bffd4,#2bffd4,#2bffd4,#2bffd4,#2bffd4 90deg,#4effb1 90deg,#4effb1,#4effb1,#4effb1,#4effb1,#4effb1,#4effb1,#4effb1,#4effb1,#4effb1,#4effb1,#4effb1,#4effb1,#4effb1,#4effb1,#4effb1,#4effb1,#4effb1,#4effb1 270deg,#00f1ff 270deg,#00f1ff,#00f1ff,#00f1ff,#03fffc,#20ffdf,#2bffd4,#2bffd4,#2bffd4,#2bffd4)"></i><i style="left:4.61px;top:4.61px;width:144.57px;height:144.57px;background:conic-gradient(#34ffcb,#34ffcb,#34ffcb,#34ffcb,#34ffcb,#35ffca,#36ffc9,#36ffc9,#37ffc8,#38ffc7 90deg,#95ff6a 90deg,#96ff69,#96ff69,#96ff69,#95ff6a,#96ff69,#97ff68,#97ff68,#97ff68,#97ff68,#97ff68,#97ff68,#97ff68,#97ff68,#97ff68,#97ff68,#97ff68,#97ff68,#97ff68 270deg,#05fffa 270deg,#05fffa,#05fffa,#05fffa,#11ffee,#26ffd9,#2effd1,#2fffd0,#31ffce,#34ffcb)"></i><i style="left:5.77px;top:5.77px;width:142.27px;height:142.27px;background:conic-gradient(#45ffba,#45ffba,#45ffba,#45ffba,#45ffba,#48ffb7,#4dffb2,#4effb1,#52ffad,#55ffaa 90deg,#c5ff3a 90deg,#cbff34,#d1ff2e,#cdff32,#c9ff36,#d1ff2e,#deff21,#e1ff1e,#e1ff1e,#e1ff1e,#e1ff1e,#e1ff1e,#e1ff1e,#e1ff1e,#e1ff1e,#e1ff1e,#e1ff1e,#e1ff1e,#e1ff1e 270deg,#0afff5 270deg,#0afff5,#09fff6,#09fff6,#13ffec,#26ffd9,#2effd1,#34ffcb,#3affc5,#45ffba)"></i><i style="left:6.92px;top:6.92px;width:139.96px;height:139.96px;background:conic-gradient(#5cffa3,#5cffa3,#5cffa3,#5cffa3,#5cffa3,#61ff9e,#69ff96,#6cff93,#75ff8a,#7aff85 90deg,#f5ff0a 90deg,#fffc00,#fff000,#fff800,#fdff02,#fcff03,#faff05,#f9ff06,#f8ff07,#f6ff09,#f6ff09,#f7ff08,#f7ff08,#f7ff08,#f7ff08,#f7ff08,#f7ff08,#f7ff08,#f7ff08 270deg,#1dffe2 270deg,#1bffe4,#16ffe9,#14ffeb,#1cffe3,#29ffd6,#2effd1,#3affc5,#45ffba,#5cffa3)"></i><i style="left:8.24px;top:8.24px;width:137.32px;height:137.32px;background:conic-gradient(#6cff93,#6cff93,#6cff93,#6cff93,#6cff93,#73ff8c,#7eff81,#82ff7d,#8dff72,#95ff6a 90deg,#fbff04 90deg,#ffe800,#ffce00,#ffcd00,#ffcb00,#ffd600,#ffe600,#ffec00,#fff900,#fcff03,#fcff03,#fdff02,#feff01,#ffff00,#ffff00,#feff01,#fdff02,#fbff04,#faff05 270deg,#44ffbb 270deg,#3dffc2,#30ffcf,#29ffd6,#2affd5,#2dffd2,#2fffd0,#3fffc0,#4effb1,#6cff93)"></i><i style="left:10.99px;top:10.99px;width:131.83px;height:131.83px;background:conic-gradient(#99ff66,#99ff66,#99ff66,#94ff6b,#91ff6e,#96ff69,#9dff62,#a1ff5e,#abff54,#b1ff4e 90deg,#feff01 90deg,#ffe400,#ffc800,#ffb400,#ffa100,#ffa300,#ffa600,#ffae00,#ffd500,#ffee00,#ffee00,#ffed00,#ffea00,#ffe800,#fff300,#f9ff06,#f5ff0a,#f2ff0d,#efff10 270deg,#5dffa2 270deg,#56ffa9,#49ffb6,#42ffbd,#3fffc0,#3affc5,#3affc5,#65ff9a,#7bff84,#99ff66)"></i><i style="left:13.73px;top:13.73px;width:126.34px;height:126.34px;background:conic-gradient(#b1ff4e,#b1ff4e,#b1ff4e,#b3ff4c,#b4ff4b,#b7ff48,#bbff44,#beff41,#c7ff38,#cdff32 90deg,#feff01 90deg,#fff600,#ffec00,#ffc200,#ff9900,#ff9200,#ff8800,#ff8c00,#ffab00,#ffbf00,#ffbf00,#ffbf00,#ffba00,#ffb700,#ffdd00,#e7ff18,#ddff22,#e2ff1d,#e6ff19 270deg,#a2ff5d 270deg,#9dff62,#94ff6b,#8fff70,#81ff7e,#68ff97,#60ff9f,#82ff7d,#95ff6a,#b1ff4e)"></i><i style="left:16.48px;top:16.48px;width:120.84px;height:120.84px;background:conic-gradient(#dcff23,#dcff23,#d8ff27,#c6ff39,#baff45,#bdff42,#c2ff3d,#c4ff3b,#ccff33,#d1ff2e 90deg,#feff01 90deg,#fffc00,#fff700,#ffe300,#ffcf00,#ffb600,#ff9100,#ff8a00,#ff8e00,#ff9000,#ff9000,#ff9300,#ff9e00,#ffa500,#ffd900,#d4ff2b,#c9ff36,#dcff23,#e8ff17 270deg,#bfff40 270deg,#baff45,#b0ff4f,#abff54,#94ff6b,#6cff93,#60ff9f,#aeff51,#caff35,#dcff23)"></i><i style="left:19.23px;top:19.23px;width:115.35px;height:115.35px;background:conic-gradient(#ffdd00,#ffea00,#fff700,#dfff20,#c6ff39,#c9ff36,#ceff31,#d1ff2e,#d7ff28,#dcff23 90deg,#fff600 90deg,#fff400,#fff300,#ffed00,#ffe700,#ffd600,#ffbc00,#ffb300,#ff9d00,#ff8e00,#ff8e00,#ff9500,#ffbc00,#ffd500,#fff200,#e0ff1f,#d9ff26,#e5ff1a,#edff12 270deg,#d9ff26 270deg,#d3ff2c,#c9ff36,#c3ff3c,#84ff7b,#16ffe9,#00f5ff,#c7ff38,#fff500,#ffdd00)"></i><i style="left:21.97px;top:21.97px;width:109.86px;height:109.86px;background:conic-gradient(#ff4b00,#ff7900,#ff9a00,#fff400,#d0ff2f,#d1ff2e,#d4ff2b,#d6ff29,#dfff20,#e4ff1b 90deg,#ffdf00 90deg,#ffe700,#ffef00,#fbff04,#e7ff18,#f5ff0a,#fff400,#ffea00,#ffcc00,#ffb800,#ffb700,#ffbc00,#ffd300,#ffe200,#fff500,#ecff13,#e8ff17,#f5ff0a,#fdff02 270deg,#f5ff0a 270deg,#ecff13,#dbff24,#d2ff2d,#a5ff5a,#55ffaa,#43ffbc,#ffcb00,#ff7800,#ff4b00)"></i><i style="left:24.72px;top:24.72px;width:104.36px;height:104.36px;background:conic-gradient(#ff0f00,#ff4c00,#ff7600,#ffe100,#d7ff28,#c6ff39,#abff54,#aeff51,#d7ff28,#f1ff0e 90deg,#ffb900 90deg,#ffb700,#ffb500,#ffe600,#e7ff18,#e8ff17,#eaff15,#eeff11,#fffd00,#fff000,#ffeb00,#ffea00,#ffed00,#fff000,#fff000,#fff100,#ffee00,#ffde00,#ffd300 270deg,#fff000 270deg,#fff000,#fff000,#fff100,#eaff15,#abff54,#9eff61,#ff8800,#ff3d00,#ff0f00)"></i><i style="left:27.46px;top:27.46px;width:98.87px;height:98.87px;background:conic-gradient(#ffbf00,#ffcc00,#ffd700,#fff800,#f0ff0f,#d9ff26,#b5ff4a,#baff45,#faff05,#ffda00 90deg,#ff7400 90deg,#ff8200,#ff9100,#ffbe00,#ffeb00,#ffed00,#ffef00,#ffec00,#ffde00,#ffd400,#ffd000,#ffcb00,#ffbb00,#ffb000,#ffb800,#ffc500,#ffc600,#ffbd00,#ffb700 270deg,#ffb400 270deg,#ffb800,#ffc000,#ffc400,#ffd200,#ffea00,#fff100,#ffd400,#ffc900,#ffbf00)"></i><i style="left:30.21px;top:30.21px;width:93.38px;height:93.38px;background:conic-gradient(#ffb300,#ffb300,#ffb900,#ffd900,#ffee00,#fff700,#f9ff06,#ffff00,#ffd600,#ffbb00 90deg,#ff3e00 90deg,#ff4800,#ff5200,#ff9400,#ffd600,#ffbd00,#ff9800,#ff8f00,#ff8800,#ff8300,#ff8300,#ff8400,#ff8600,#ff8800,#ff9000,#ff9b00,#ff9800,#ff7a00,#ff6700 270deg,#ff8900 270deg,#ff8100,#ff7200,#ff6a00,#ff7100,#ff7e00,#ff8400,#ffa900,#ffb300,#ffb300)"></i><i style="left:32.96px;top:32.96px;width:87.89px;height:87.89px;background:conic-gradient(#ff4900,#ff4900,#ff4a00,#ff4d00,#ff4f00,#ff5800,#ff6500,#ff6400,#ff5500,#ff4b00 90deg,#ff2e00 90deg,#ff3600,#ff3e00,#ff6a00,#ff9700,#ff8f00,#ff8200,#ff7f00,#ff7b00,#ff7900,#ff7900,#ff7900,#ff7800,#ff7700,#ff7000,#ff6400,#ff5f00,#ff5400,#ff4c00 270deg,#ff4d00 270deg,#ff4700,#ff3a00,#ff3400,#ff3400,#ff3400,#ff3500,#ff4500,#ff4900,#ff4900)"></i><i style="left:35.70px;top:35.70px;width:82.39px;height:82.39px;background:conic-gradient(#fe0000,#fe0000,#ff0000,#ff0400,#ff0700,#ff0c00,#ff1200,#ff1300,#ff0e00,#ff0b00 90deg,#ff1400 90deg,#ff1800,#ff1b00,#ff4400,#ff6d00,#ff6b00,#ff6700,#ff6700,#ff6c00,#ff6f00,#ff6f00,#ff6e00,#ff6800,#ff6400,#ff5c00,#ff4f00,#ff4800,#ff2c00,#ff1a00 270deg,#ff0700 270deg,#ff0000,#f10000,#ea0000,#ea0000,#ea0000,#ea0000,#fa0000,#fe0000,#fe0000)"></i><i style="left:38.45px;top:38.45px;width:76.90px;height:76.90px;background:conic-gradient(#ea0000,#ea0000,#ea0000,#ea0000,#ea0000,#ea0000,#ea0000,#ea0000,#ea0000,#ea0000 90deg,#ff0f00 90deg,#ff1100,#ff1300,#ff3300,#ff5300,#ff5600,#ff5b00,#ff5d00,#ff6500,#ff6a00,#ff6900,#ff6700,#ff5e00,#ff5800,#ff4500,#ff2900,#ff2100,#ff1600,#ff0f00 270deg,#ea0000 270deg,#ea0000,#eb0000,#eb0000,#eb0000,#ea0000,#ea0000,#ea0000,#ea0000,#ea0000)"></i><i style="left:41.20px;top:41.20px;width:71.41px;height:71.41px;background:conic-gradient(#ea0000,#ea0000,#ea0000,#ea0000,#ea0000,#eb0000,#ed0000,#ed0000,#ed0000,#ed0000 90deg,#ff0d00 90deg,#ff0f00,#ff1000,#ff1d00,#ff2a00,#ff3100,#ff3d00,#ff4100,#ff4d00,#ff5500,#ff5000,#ff4b00,#ff3900,#ff2d00,#ff2300,#ff1200,#ff0f00,#ff0e00,#ff0d00 270deg,#ed0000 270deg,#ee0000,#ef0000,#ef0000,#ed0000,#eb0000,#ea0000,#ea0000,#ea0000,#ea0000)"></i><i style="left:43.94px;top:43.94px;width:65.91px;height:65.91px;background:conic-gradient(#ea0000,#ea0000,#ea0000,#ea0000,#ea0000,#ed0000,#f10000,#f20000,#f20000,#f20000 90deg,#ff0a00 90deg,#ff0b00,#ff0d00,#ff1400,#ff1b00,#ff1f00,#ff2500,#ff2800,#ff3300,#ff3a00,#ff3200,#ff2e00,#ff2200,#ff1b00,#ff1600,#ff0f00,#ff0d00,#ff0b00,#ff0a00 270deg,#f20000 270deg,#f30000,#f40000,#f40000,#f10000,#ec0000,#ea0000,#ea0000,#ea0000,#ea0000)"></i><i style="left:46.69px;top:46.69px;width:60.42px;height:60.42px;background:conic-gradient(#ea0000,#ea0000,#ea0000,#ea0000,#ea0000,#ef0000,#f70000,#f80000,#f80000,#f80000 90deg,#ff0700 90deg,#ff0800,#ff0800,#ff0e00,#ff1400,#ff1800,#ff1d00,#ff1f00,#ff2300,#ff2600,#ff2400,#ff2200,#ff1900,#ff1400,#ff1000,#ff0a00,#ff0900,#ff0800,#ff0700 270deg,#f80000 270deg,#f90000,#f90000,#fa0000,#f50000,#ed0000,#ea0000,#ea0000,#ea0000,#ea0000)"></i><i style="left:49.44px;top:49.44px;width:54.93px;height:54.93px;background:conic-gradient(#eb0000,#eb0000,#eb0000,#eb0000,#eb0000,#f10000,#fc0000,#fe0000,#fe0000,#fe0000 90deg,#ff0400 90deg,#ff0400,#ff0500,#ff0700,#ff0900,#ff0b00,#ff0e00,#ff1000,#ff1600,#ff1b00,#ff1500,#ff1200,#ff0d00,#ff0900,#ff0800,#ff0600,#ff0500,#ff0500,#ff0400 270deg,#fe0000 270deg,#fe0000,#fe0000,#fe0000,#f90000,#ef0000,#eb0000,#eb0000,#eb0000,#eb0000)"></i><i style="left:52.18px;top:52.18px;width:49.44px;height:49.44px;background:conic-gradient(#ff0000,#fb0000,#fa0000,#fa0000,#fa0000,#fd0000,#ff0200,#ff0200,#ff0200,#ff0200 90deg,#ff0300 90deg,#ff0300,#ff0300,#ff0300,#ff0300,#ff0300,#ff0300,#ff0300,#ff0300,#ff0300,#ff0300,#ff0300,#ff0300,#ff0300,#ff0300,#ff0300,#ff0300,#ff0300,#ff0300 270deg,#ff0200 270deg,#ff0200,#ff0200,#ff0200,#ff0000,#fb0000,#fa0000,#fa0000,#fb0000,#ff0000)"></i><i style="left:54.93px;top:54.93px;width:43.94px;height:43.94px;background:conic-gradient(#ff1700,#ff0f00,#ff0c00,#ff0c00,#ff0c00,#ff0a00,#ff0600,#ff0500,#ff0500,#ff0500 90deg,#ff0700 90deg,#ff0700,#ff0700,#ff0700,#ff0700,#ff0800,#ff0900,#ff0a00,#ff0b00,#ff0c00,#ff0a00,#ff0900,#ff0800,#ff0700,#ff0700,#ff0700,#ff0700,#ff0700,#ff0700 270deg,#ff0500 270deg,#ff0500,#ff0500,#ff0500,#ff0700,#ff0b00,#ff0c00,#ff0c00,#ff0f00,#ff1700)"></i><i style="left:57.68px;top:57.68px;width:38.45px;height:38.45px;background:conic-gradient(#ff2100,#ff1800,#ff1500,#ff1500,#ff1500,#ff1900,#ff1f00,#ff2000,#ff2000,#ff2000 90deg,#ff1100 90deg,#ff1100,#ff1100,#ff1100,#ff1100,#ff1400,#ff1900,#ff1b00,#ff1f00,#ff2300,#ff1c00,#ff1900,#ff1400,#ff1100,#ff1100,#ff1100,#ff1100,#ff1100,#ff1100 270deg,#ff2000 270deg,#ff2000,#ff2000,#ff2000,#ff1d00,#ff1700,#ff1500,#ff1500,#ff1800,#ff2100)"></i><i style="left:60.42px;top:60.42px;width:32.96px;height:32.96px;background:conic-gradient(#ff4000,#ff3800,#ff3500,#ff3500,#ff3500,#ff3b00,#ff4400,#ff4600,#ff4600,#ff4600 90deg,#ff1f00 90deg,#ff1f00,#ff1f00,#ff1f00,#ff1f00,#ff2400,#ff2b00,#ff2e00,#ff3600,#ff3c00,#ff3000,#ff2b00,#ff2400,#ff1f00,#ff1f00,#ff1f00,#ff1f00,#ff1f00,#ff1f00 270deg,#ff4600 270deg,#ff4600,#ff4600,#ff4600,#ff4100,#ff3800,#ff3500,#ff3500,#ff3800,#ff4000)"></i><i style="left:63.17px;top:63.17px;width:27.46px;height:27.46px;background:conic-gradient(#ff6700,#ff6000,#ff5e00,#ff5e00,#ff5e00,#ff5e00,#ff5f00,#ff5f00,#ff5f00,#ff5f00 90deg,#ff2c00 90deg,#ff2c00,#ff2c00,#ff2c00,#ff2c00,#ff3000,#ff3600,#ff3900,#ff4400,#ff4b00,#ff3d00,#ff3600,#ff3000,#ff2c00,#ff2c00,#ff2c00,#ff2c00,#ff2c00,#ff2c00 270deg,#ff5f00 270deg,#ff5f00,#ff5f00,#ff5f00,#ff5f00,#ff5e00,#ff5e00,#ff5e00,#ff6000,#ff6700)"></i><i style="left:65.91px;top:65.91px;width:21.97px;height:21.97px;background:conic-gradient(#ff7d00,#ff7700,#ff7500,#ff7500,#ff7500,#ff6f00,#ff6700,#ff6500,#ff6500,#ff6500 90deg,#ff3600 90deg,#ff3600,#ff3600,#ff3600,#ff3600,#ff3d00,#ff4800,#ff4c00,#ff5a00,#ff6200,#ff5500,#ff4d00,#ff3f00,#ff3600,#ff3600,#ff3600,#ff3600,#ff3600,#ff3600 270deg,#ff6500 270deg,#ff6500,#ff6500,#ff6500,#ff6a00,#ff7200,#ff7500,#ff7500,#ff7700,#ff7d00)"></i><i style="left:68.66px;top:68.66px;width:16.48px;height:16.48px;background:conic-gradient(#ff8300,#ff7e00,#ff7c00,#ff7c00,#ff7c00,#ff7a00,#ff7700,#ff7700,#ff7700,#ff7700 90deg,#ff3d00 90deg,#ff3d00,#ff3d00,#ff3d00,#ff3d00,#ff5000,#ff6d00,#ff7700,#ff9100,#ffa200,#ff8d00,#ff7e00,#ff5600,#ff3d00,#ff3d00,#ff3d00,#ff3d00,#ff3d00,#ff3d00 270deg,#ff7700 270deg,#ff7700,#ff7700,#ff7700,#ff7800,#ff7b00,#ff7c00,#ff7c00,#ff7e00,#ff8300)"></i><i style="left:71.41px;top:71.41px;width:10.99px;height:10.99px;background:conic-gradient(#ff9000,#ff8e00,#ff8d00,#ff8d00,#ff8d00,#ff8d00,#ff8c00,#ff8c00,#ff8c00,#ff8c00 90deg,#ff7800 90deg,#ff7800,#ff7800,#ff7800,#ff7800,#ff7e00,#ff8800,#ff9000,#ffac00,#ffbf00,#ffa300,#ff9600,#ff8400,#ff7800,#ff7800,#ff7800,#ff7800,#ff7800,#ff7800 270deg,#ff8c00 270deg,#ff8c00,#ff8c00,#ff8c00,#ff8c00,#ff8d00,#ff8d00,#ff8d00,#ff8e00,#ff9000)"></i><i style="left:74.15px;top:74.15px;width:5.49px;height:5.49px;background:conic-gradient(#ff9c00,#ff9c00,#ff9c00,#ff9c00,#ff9c00,#ff9c00,#ff9c00,#ff9c00,#ff9c00,#ff9c00 90deg,#ffbb00 90deg,#ffbb00,#ffbb00,#ffbb00,#ffbb00,#ffbb00,#ffbc00,#ffbd00,#ffc200,#ffc500,#ffc100,#ffbf00,#ffbc00,#ffbb00,#ffbb00,#ffbb00,#ffbb00,#ffbb00,#ffbb00 270deg,#ff9c00 270deg,#ff9c00,#ff9c00,#ff9c00,#ff9c00,#ff9c00,#ff9c00,#ff9c00,#ff9c00,#ff9c00)"></i></div></div><svg width="225" height="226" viewBox="908 387 225 226"><path d="M938.4 494.9A76.9 76.9 0 0 1 1092.2 494.9Z" fill="#40381a" fill-opacity="0.53"/><g fill="none" stroke="#1a1208" stroke-width="0.45" stroke-opacity="0.85"><circle cx="1015.3" cy="494.9" r="12.82"/><circle cx="1015.3" cy="494.9" r="25.63"/><circle cx="1015.3" cy="494.9" r="38.45"/><circle cx="1015.3" cy="494.9" r="51.27"/><circle cx="1015.3" cy="494.9" r="64.08"/><circle cx="1015.3" cy="494.9" r="76.9"/><path d="M938.4 494.9L1092.2 494.9"/><path d="M948.7 533.35L1081.9 456.45"/><path d="M976.85 561.5L1053.75 428.3"/><path d="M1015.3 571.8L1015.3 418"/><path d="M1053.75 561.5L976.85 428.3"/><path d="M1081.9 533.35L948.7 456.45"/></g><text x="1097.6" y="497.1" font-size="6.2" fill="#222" text-anchor="middle">0<tspan font-size="5.6" dy="-1.2">°</tspan></text><text x="1087.96" y="455.15" font-size="6.2" fill="#222" text-anchor="middle">30<tspan font-size="5.6" dy="-1.2">°</tspan></text><text x="1056.75" y="425.31" font-size="6.2" fill="#222" text-anchor="middle">60<tspan font-size="5.6" dy="-1.2">°</tspan></text><text x="1015.3" y="414.6" font-size="6.2" fill="#222" text-anchor="middle">90<tspan font-size="5.6" dy="-1.2">°</tspan></text><text x="974.25" y="426" font-size="6.2" fill="#222" text-anchor="middle">120<tspan font-size="5.6" dy="-1.2">°</tspan></text><text x="942.55" y="455.1" font-size="6.2" fill="#222" text-anchor="middle">150<tspan font-size="5.6" dy="-1.2">°</tspan></text><text x="930.7" y="497.1" font-size="6.2" fill="#222" text-anchor="middle">180<tspan font-size="5.6" dy="-1.2">°</tspan></text><text x="940.39" y="540.35" font-size="6.2" fill="#222" text-anchor="middle">210<tspan font-size="5.6" dy="-1.2">°</tspan></text><text x="973.65" y="569.24" font-size="6.2" fill="#222" text-anchor="middle">240<tspan font-size="5.6" dy="-1.2">°</tspan></text><text x="1015.3" y="579.6" font-size="6.2" fill="#222" text-anchor="middle">270<tspan font-size="5.6" dy="-1.2">°</tspan></text><text x="1056.95" y="569.24" font-size="6.2" fill="#222" text-anchor="middle">300<tspan font-size="5.6" dy="-1.2">°</tspan></text><text x="1090.56" y="540.55" font-size="6.2" fill="#222" text-anchor="middle">330<tspan font-size="5.6" dy="-1.2">°</tspan></text><text x="1026.66" y="505.9" font-size="6.2" fill="#1a1a1a" text-anchor="middle">30<tspan font-size="5.6" dy="-1.2">°</tspan></text><text x="1033.82" y="514.15" font-size="6.2" fill="#1a1a1a" text-anchor="middle">60<tspan font-size="5.6" dy="-1.2">°</tspan></text><text x="1042.59" y="522.4" font-size="6.2" fill="#1a1a1a" text-anchor="middle">90<tspan font-size="5.6" dy="-1.2">°</tspan></text><text x="1055.09" y="531.53" font-size="6.2" fill="#1a1a1a" text-anchor="middle">120<tspan font-size="5.6" dy="-1.2">°</tspan></text><text x="1066.1" y="539.47" font-size="6.2" fill="#1a1a1a" text-anchor="middle">150<tspan font-size="5.6" dy="-1.2">°</tspan></text><text x="1076.13" y="548.1" font-size="6.2" fill="#1a1a1a" text-anchor="middle">180<tspan font-size="5.6" dy="-1.2">°</tspan></text><circle cx="1015.3" cy="456.45" r="3.5" fill="#1490ff" stroke="#fff" stroke-width="0.7"/><circle cx="976.85" cy="494.9" r="3.5" fill="#9747ff" stroke="#fff" stroke-width="0.7"/><circle cx="1015.3" cy="494.9" r="3.5" fill="#4ac6d4" stroke="#fff" stroke-width="0.7"/><circle cx="1053.75" cy="494.9" r="3.5" fill="#bf1f6e" stroke="#fff" stroke-width="0.7"/><circle cx="1015.3" cy="533.35" r="3.5" fill="#1d0a6b" stroke="#fff" stroke-width="0.7"/><rect x="1113.1" y="422.3" width="11.6" height="154.6" fill="url(#cbar)"/><path d="M1123.2 422.3H1124.7" stroke="#333" stroke-width="0.4"/><text x="1126.6" y="423.9" font-size="4.5" fill="#6e6e6e">5</text><path d="M1123.2 453.22H1124.7" stroke="#333" stroke-width="0.4"/><text x="1126.6" y="454.82" font-size="4.5" fill="#6e6e6e">0</text><path d="M1123.2 484.14H1124.7" stroke="#333" stroke-width="0.4"/><text x="1126.6" y="485.74" font-size="4.5" fill="#6e6e6e">-5</text><path d="M1123.2 515.06H1124.7" stroke="#333" stroke-width="0.4"/><text x="1126.6" y="516.66" font-size="4.5" fill="#6e6e6e">-10</text><path d="M1123.2 545.98H1124.7" stroke="#333" stroke-width="0.4"/><text x="1126.6" y="547.58" font-size="4.5" fill="#6e6e6e">-15</text><path d="M1123.2 576.9H1124.7" stroke="#333" stroke-width="0.4"/><text x="1126.6" y="578.5" font-size="4.5" fill="#6e6e6e">-20</text></svg></div>
<div class="cell h" style="left:1px;top:480px;width:168px;height:226px"></div>
<div class="cell" style="left:170px;top:480px;width:226px;height:226px"><svg width="226" height="226" viewBox="227 614 226 226"><g fill="none" stroke="#ececee" stroke-width="0.42"><circle cx="344.7" cy="733.5" r="7.25"/><circle cx="344.7" cy="733.5" r="21.75"/><circle cx="344.7" cy="733.5" r="36.25"/><circle cx="344.7" cy="733.5" r="50.75"/><circle cx="344.7" cy="733.5" r="65.25"/><path d="M347.22 719.22L357.29 662.1"/><path d="M349.66 719.87L369.5 665.37"/><path d="M354.02 722.39L391.3 677.96"/><path d="M355.81 724.18L400.24 686.9"/><path d="M358.33 728.54L412.83 708.7"/><path d="M358.98 730.98L416.1 720.91"/><path d="M358.98 736.02L416.1 746.09"/><path d="M358.33 738.46L412.83 758.3"/><path d="M355.81 742.82L400.24 780.1"/><path d="M354.02 744.61L391.3 789.04"/><path d="M349.66 747.13L369.5 801.63"/><path d="M347.22 747.78L357.29 804.9"/><path d="M342.18 747.78L332.11 804.9"/><path d="M339.74 747.13L319.9 801.63"/><path d="M335.38 744.61L298.1 789.04"/><path d="M333.59 742.82L289.16 780.1"/><path d="M331.07 738.46L276.57 758.3"/><path d="M330.42 736.02L273.3 746.09"/><path d="M330.42 730.98L273.3 720.91"/><path d="M331.07 728.54L276.57 708.7"/><path d="M333.59 724.18L289.16 686.9"/><path d="M335.38 722.39L298.1 677.96"/><path d="M339.74 719.87L319.9 665.37"/><path d="M342.18 719.22L332.11 662.1"/></g><g fill="none" stroke="#c6c6ca" stroke-width="0.48"><circle cx="344.7" cy="733.5" r="14.5"/><circle cx="344.7" cy="733.5" r="29"/><circle cx="344.7" cy="733.5" r="43.5"/><circle cx="344.7" cy="733.5" r="58"/><path d="M344.7 733.5L380.95 670.71"/><path d="M344.7 733.5L407.49 697.25"/><path d="M344.7 733.5L407.49 769.75"/><path d="M344.7 733.5L380.95 796.29"/><path d="M344.7 733.5L308.45 796.29"/><path d="M344.7 733.5L281.91 769.75"/><path d="M344.7 733.5L281.91 697.25"/><path d="M344.7 733.5L308.45 670.71"/></g><path d="M272.2 733.5H417.2M344.7 661V806" fill="none" stroke="#b2b2b6" stroke-width="0.55"/><circle cx="344.7" cy="733.5" r="72.5" fill="none" stroke="#96969b" stroke-width="0.58"/><text x="344.7" y="657.35" font-size="5.4" fill="#222" text-anchor="middle" stroke="#222" stroke-width="0.08">0</text><text x="385.94" y="667.5" font-size="5.4" fill="#222" text-anchor="middle" stroke="#222" stroke-width="0.08">30</text><text x="413.36" y="694.9" font-size="5.4" fill="#222" text-anchor="middle" stroke="#222" stroke-width="0.08">60</text><text x="423.05" y="735.45" font-size="5.4" fill="#222" text-anchor="middle" stroke="#222" stroke-width="0.08">90</text><text x="414.77" y="776" font-size="5.4" fill="#222" text-anchor="middle" stroke="#222" stroke-width="0.08">120</text><text x="387.23" y="803.4" font-size="5.4" fill="#222" text-anchor="middle" stroke="#222" stroke-width="0.08">150</text><text x="344.7" y="813.55" font-size="5.4" fill="#222" text-anchor="middle" stroke="#222" stroke-width="0.08">180</text><text x="302.17" y="803.4" font-size="5.4" fill="#222" text-anchor="middle" stroke="#222" stroke-width="0.08">210</text><text x="274.63" y="776" font-size="5.4" fill="#222" text-anchor="middle" stroke="#222" stroke-width="0.08">240</text><text x="264.7" y="735.45" font-size="5.4" fill="#222" text-anchor="middle" stroke="#222" stroke-width="0.08">270</text><text x="274.63" y="694.9" font-size="5.4" fill="#222" text-anchor="middle" stroke="#222" stroke-width="0.08">300</text><text x="302.17" y="667.5" font-size="5.4" fill="#222" text-anchor="middle" stroke="#222" stroke-width="0.08">330</text><path d="M344.38 668.39C346.9 669.07 349.67 670.41 352.24 670.51C354.81 670.61 357.53 669.3 359.79 668.99C362.06 668.69 363.57 668.24 365.84 668.69C368.11 669.15 371.13 670.33 373.4 671.72C375.66 673.1 377.43 675.19 379.44 677.01C381.46 678.82 383.22 681.09 385.49 682.6C387.75 684.11 390.52 684.74 393.04 686.07C395.56 687.41 398.33 688.84 400.6 690.61C402.87 692.37 405.13 694.51 406.64 696.65C408.16 698.79 408.79 700.56 409.67 703.45C410.55 706.35 411.68 710.51 411.93 714.03C412.19 717.56 411.36 721.34 411.18 724.61C411 727.89 411.63 730.91 410.88 733.68C410.12 736.45 408.23 738.47 406.64 741.24C405.06 744.01 402.87 747.28 401.36 750.3C399.84 753.33 398.96 756.35 397.58 759.37C396.19 762.4 394.55 765.42 393.04 768.44C391.53 771.46 390.02 774.74 388.51 777.51C387 780.28 385.74 782.92 383.97 785.07C382.21 787.21 380.2 789.1 377.93 790.36C375.66 791.61 372.89 791.61 370.37 792.62C367.85 793.63 365.08 795.77 362.82 796.4C360.55 797.03 358.53 797.03 356.77 796.4C355.01 795.77 353.62 794.51 352.24 792.62C350.85 790.73 349.52 787.33 348.46 785.07C347.4 782.8 346.52 780.28 345.89 779.02C345.26 777.76 345.13 777.38 344.68 777.51C344.23 777.63 343.8 778.26 343.17 779.78C342.54 781.29 342.16 784.18 340.9 786.58C339.64 788.97 337.63 792.32 335.61 794.13C333.6 795.95 331.33 797.01 328.81 797.46C326.29 797.91 323.4 797.66 320.5 796.85C317.6 796.05 313.95 794.34 311.43 792.62C308.91 790.91 307.02 788.84 305.39 786.58C303.75 784.31 302.61 781.79 301.61 779.02C300.6 776.25 299.97 772.97 299.34 769.95C298.71 766.93 298.96 763.65 297.83 760.88C296.7 758.11 294.18 755.59 292.54 753.33C290.9 751.06 289.39 750.05 288.01 747.28C286.62 744.51 285.61 739.98 284.23 736.7C282.84 733.43 281.2 730.66 279.69 727.63C278.18 724.61 275.91 721.09 275.16 718.57C274.4 716.05 274.53 714.79 275.16 712.52C275.79 710.25 277.17 706.85 278.94 704.96C280.7 703.08 283.6 702.45 285.74 701.19C287.88 699.93 290.15 699.05 291.78 697.41C293.42 695.77 294.43 693.76 295.56 691.36C296.7 688.97 297.2 685.44 298.58 683.05C299.97 680.66 301.98 678.52 303.87 677.01C305.76 675.49 307.65 674.49 309.92 673.98C312.19 673.48 314.96 674.16 317.48 673.98C319.99 673.81 322.77 673.81 325.03 672.92C327.3 672.04 329.06 669.78 331.08 668.69C333.09 667.61 334.91 666.48 337.12 666.43C339.34 666.38 341.86 667.71 344.38 668.39Z" fill="none" stroke="#1212fa" stroke-width="1.3" stroke-linejoin="round"/><rect x="328.6" y="709.5" width="32.5" height="54.4" rx="2.4" fill="#8c8c98" opacity="0.42" filter="url(#bl)"/><rect x="327.7" y="708" width="32.5" height="54.4" rx="2.4" fill="url(#dev1)" stroke="#e3e3e9" stroke-width="0.35"/><g transform="translate(338.38 717.36) scale(0.7020000000000001)" fill="#a9acb5"><path d="M3.2 0a2.6 2.6 0 0 1 0 5.2H2.6V3.9h.6a1.3 1.3 0 1 0-1.3-1.3v.3H.6v-.3A2.6 2.6 0 0 1 3.2 0z"/><path d="M0 3.4h2.2v3H.9V4.7H0z"/></g><text x="342.7" y="721.23" font-size="2.43" fill="#c4c7ce">tp-link</text><text x="364.71" y="755.5" font-size="5.2" fill="#222" text-anchor="middle" stroke="#222" stroke-width="0.08">-15</text><text x="377.27" y="762.75" font-size="5.2" fill="#222" text-anchor="middle" stroke="#222" stroke-width="0.08">-10</text><text x="389.83" y="770" font-size="5.2" fill="#222" text-anchor="middle" stroke="#222" stroke-width="0.08">-5</text><text x="403.99" y="776.25" font-size="5.2" fill="#222" text-anchor="middle" stroke="#222" stroke-width="0.08">0</text><circle cx="344.1" cy="707.5" r="3" fill="#41c9d6"/><circle cx="327.6" cy="734.6" r="3" fill="#9747ff"/><circle cx="344.1" cy="734.6" r="3" fill="#1d0a6b"/><circle cx="361.6" cy="734.6" r="3" fill="#c9145f"/></svg></div>
<div class="cell" style="left:397px;top:480px;width:226px;height:226px"><svg width="226" height="226" viewBox="454 614 226 226"><path d="M571.45 659.35A73.8 73.8 0 0 1 571.45 806.95Z" fill="#dcdceb"/><g fill="none" stroke="#ececee" stroke-width="0.42"><circle cx="571.45" cy="733.15" r="7.38"/><circle cx="571.45" cy="733.15" r="22.14"/><circle cx="571.45" cy="733.15" r="36.9"/><circle cx="571.45" cy="733.15" r="51.66"/><circle cx="571.45" cy="733.15" r="66.42"/><path d="M574.01 718.61L584.27 660.47"/><path d="M576.5 719.28L596.69 663.8"/><path d="M580.94 721.84L618.89 676.62"/><path d="M582.76 723.66L627.98 685.71"/><path d="M585.32 728.1L640.8 707.91"/><path d="M585.99 730.59L644.13 720.33"/><path d="M585.99 735.71L644.13 745.97"/><path d="M585.32 738.2L640.8 758.39"/><path d="M582.76 742.64L627.98 780.59"/><path d="M580.94 744.46L618.89 789.68"/><path d="M576.5 747.02L596.69 802.5"/><path d="M574.01 747.69L584.27 805.83"/><path d="M568.89 747.69L558.63 805.83"/><path d="M566.4 747.02L546.21 802.5"/><path d="M561.96 744.46L524.01 789.68"/><path d="M560.14 742.64L514.92 780.59"/><path d="M557.58 738.2L502.1 758.39"/><path d="M556.91 735.71L498.77 745.97"/><path d="M556.91 730.59L498.77 720.33"/><path d="M557.58 728.1L502.1 707.91"/><path d="M560.14 723.66L514.92 685.71"/><path d="M561.96 721.84L524.01 676.62"/><path d="M566.4 719.28L546.21 663.8"/><path d="M568.89 718.61L558.63 660.47"/></g><g fill="none" stroke="#c6c6ca" stroke-width="0.48"><circle cx="571.45" cy="733.15" r="14.76"/><circle cx="571.45" cy="733.15" r="29.52"/><circle cx="571.45" cy="733.15" r="44.28"/><circle cx="571.45" cy="733.15" r="59.04"/><path d="M571.45 733.15L608.35 669.24"/><path d="M571.45 733.15L635.36 696.25"/><path d="M571.45 733.15L635.36 770.05"/><path d="M571.45 733.15L608.35 797.06"/><path d="M571.45 733.15L534.55 797.06"/><path d="M571.45 733.15L507.54 770.05"/><path d="M571.45 733.15L507.54 696.25"/><path d="M571.45 733.15L534.55 669.24"/></g><path d="M497.65 733.15H645.25M571.45 659.35V806.95" fill="none" stroke="#b2b2b6" stroke-width="0.55"/><circle cx="571.45" cy="733.15" r="73.8" fill="none" stroke="#96969b" stroke-width="0.58"/><text x="571.45" y="655.7" font-size="5.4" fill="#222" text-anchor="middle" stroke="#222" stroke-width="0.08">0</text><text x="613.34" y="666.02" font-size="5.4" fill="#222" text-anchor="middle" stroke="#222" stroke-width="0.08">30</text><text x="641.24" y="693.9" font-size="5.4" fill="#222" text-anchor="middle" stroke="#222" stroke-width="0.08">60</text><text x="651.1" y="735.1" font-size="5.4" fill="#222" text-anchor="middle" stroke="#222" stroke-width="0.08">90</text><text x="642.65" y="776.3" font-size="5.4" fill="#222" text-anchor="middle" stroke="#222" stroke-width="0.08">120</text><text x="614.63" y="804.18" font-size="5.4" fill="#222" text-anchor="middle" stroke="#222" stroke-width="0.08">150</text><text x="571.45" y="814.5" font-size="5.4" fill="#222" text-anchor="middle" stroke="#222" stroke-width="0.08">180</text><text x="528.27" y="804.18" font-size="5.4" fill="#222" text-anchor="middle" stroke="#222" stroke-width="0.08">210</text><text x="500.25" y="776.3" font-size="5.4" fill="#222" text-anchor="middle" stroke="#222" stroke-width="0.08">240</text><text x="490.15" y="735.1" font-size="5.4" fill="#222" text-anchor="middle" stroke="#222" stroke-width="0.08">270</text><text x="500.25" y="693.9" font-size="5.4" fill="#222" text-anchor="middle" stroke="#222" stroke-width="0.08">300</text><text x="528.27" y="666.02" font-size="5.4" fill="#222" text-anchor="middle" stroke="#222" stroke-width="0.08">330</text><path d="M571.38 668.99C574.4 669.2 576.42 668.57 579.24 668.39C582.06 668.21 585.53 667.63 588.3 667.94C591.08 668.24 593.34 669.2 595.86 670.2C598.38 671.21 600.9 672.85 603.42 673.98C605.94 675.12 608.83 675.75 610.97 677.01C613.12 678.26 614.95 679.65 616.26 681.54C617.57 683.43 618.46 685.95 618.83 688.34C619.21 690.73 618.33 693.76 618.53 695.9C618.73 698.04 618.78 700.05 620.04 701.19C621.3 702.32 623.82 702.19 626.09 702.7C628.36 703.2 631.38 703.33 633.64 704.21C635.91 705.09 638.23 706.1 639.69 707.99C641.15 709.88 642.28 712.77 642.41 715.54C642.54 718.31 641.53 721.59 640.45 724.61C639.36 727.63 637.3 730.66 635.91 733.68C634.53 736.7 634.02 740.48 632.13 742.75C630.24 745.02 627.22 746.15 624.58 747.28C621.93 748.42 618.08 748.67 616.26 749.55C614.45 750.43 613.95 751.19 613.7 752.57C613.44 753.96 614.32 756.22 614.75 757.86C615.18 759.5 616.64 761.14 616.26 762.4C615.89 763.65 614.25 764.54 612.49 765.42C610.72 766.3 607.07 766.43 605.69 767.69C604.3 768.94 604.3 771.09 604.17 772.97C604.05 774.86 605.31 777.13 604.93 779.02C604.55 780.91 603.42 783.3 601.91 784.31C600.4 785.32 597.88 785.32 595.86 785.07C593.85 784.81 592.08 783.68 589.82 782.8C587.55 781.92 584.53 780.53 582.26 779.78C579.99 779.02 578.03 778.39 576.21 778.26C574.4 778.14 573.14 778.39 571.38 779.02C569.61 779.65 567.35 780.78 565.63 782.04C563.92 783.3 562.86 785.19 561.1 786.58C559.34 787.96 557.32 789.65 555.06 790.36C552.79 791.06 549.77 791.31 547.5 790.81C545.23 790.3 543.47 788.79 541.45 787.33C539.44 785.87 537.42 783.93 535.41 782.04C533.39 780.15 531 778.26 529.36 776C527.73 773.73 526.34 770.96 525.58 768.44C524.83 765.92 525.46 762.9 524.83 760.88C524.2 758.87 523.57 757.74 521.81 756.35C520.04 754.96 516.52 754.08 514.25 752.57C511.98 751.06 509.59 749.42 508.2 747.28C506.82 745.14 506.06 742.75 505.94 739.73C505.81 736.7 507.45 732.67 507.45 729.15C507.45 725.62 505.94 722.09 505.94 718.57C505.94 715.04 506.69 711.51 507.45 707.99C508.2 704.46 509.09 700.93 510.47 697.41C511.86 693.88 513.62 690.1 515.76 686.83C517.9 683.55 520.55 680.53 523.32 677.76C526.09 674.99 529.36 672.09 532.39 670.2C535.41 668.31 538.43 667.13 541.45 666.43C544.48 665.72 547.25 665.85 550.52 665.97C553.8 666.1 557.62 666.68 561.1 667.18C564.58 667.69 568.36 668.79 571.38 668.99Z" fill="none" stroke="#1212fa" stroke-width="1.3" stroke-linejoin="round"/><rect x="568.15" y="706" width="8" height="58.9" rx="0.8" fill="#8e8e9a" opacity="0.4" filter="url(#bl)"/><rect x="567.45" y="705" width="8" height="58.9" rx="0.8" fill="url(#dev2)"/><text x="579.13" y="748.03" font-size="5.2" fill="#222" text-anchor="middle" stroke="#222" stroke-width="0.08">-20</text><text x="591.92" y="755.41" font-size="5.2" fill="#222" text-anchor="middle" stroke="#222" stroke-width="0.08">-15</text><text x="604.7" y="762.79" font-size="5.2" fill="#222" text-anchor="middle" stroke="#222" stroke-width="0.08">-10</text><text x="617.48" y="770.17" font-size="5.2" fill="#222" text-anchor="middle" stroke="#222" stroke-width="0.08">-5</text><text x="631.86" y="776.55" font-size="5.2" fill="#222" text-anchor="middle" stroke="#222" stroke-width="0.08">0</text><text x="566.25" y="740.35" font-size="5.2" fill="#222" text-anchor="middle" stroke="#222" stroke-width="0.08">-2</text><circle cx="571.55" cy="734.6" r="3" fill="#c9145f"/></svg></div>
<div class="cell" style="left:624px;top:480px;width:226px;height:226px"><svg width="226" height="226" viewBox="681 614 226 226"><path d="M726.95 733.7A73.5 73.5 0 0 1 873.95 733.7Z" fill="#dcdceb"/><g fill="none" stroke="#ececee" stroke-width="0.42"><circle cx="800.45" cy="733.7" r="7.35"/><circle cx="800.45" cy="733.7" r="22.05"/><circle cx="800.45" cy="733.7" r="36.75"/><circle cx="800.45" cy="733.7" r="51.45"/><circle cx="800.45" cy="733.7" r="66.15"/><path d="M803 719.22L813.21 661.32"/><path d="M805.48 719.89L825.59 664.63"/><path d="M809.9 722.44L847.69 677.4"/><path d="M811.71 724.25L856.75 686.46"/><path d="M814.26 728.67L869.52 708.56"/><path d="M814.93 731.15L872.83 720.94"/><path d="M814.93 736.25L872.83 746.46"/><path d="M814.26 738.73L869.52 758.84"/><path d="M811.71 743.15L856.75 780.94"/><path d="M809.9 744.96L847.69 790"/><path d="M805.48 747.51L825.59 802.77"/><path d="M803 748.18L813.21 806.08"/><path d="M797.9 748.18L787.69 806.08"/><path d="M795.42 747.51L775.31 802.77"/><path d="M791 744.96L753.21 790"/><path d="M789.19 743.15L744.15 780.94"/><path d="M786.64 738.73L731.38 758.84"/><path d="M785.97 736.25L728.07 746.46"/><path d="M785.97 731.15L728.07 720.94"/><path d="M786.64 728.67L731.38 708.56"/><path d="M789.19 724.25L744.15 686.46"/><path d="M791 722.44L753.21 677.4"/><path d="M795.42 719.89L775.31 664.63"/><path d="M797.9 719.22L787.69 661.32"/></g><g fill="none" stroke="#c6c6ca" stroke-width="0.48"><circle cx="800.45" cy="733.7" r="14.7"/><circle cx="800.45" cy="733.7" r="29.4"/><circle cx="800.45" cy="733.7" r="44.1"/><circle cx="800.45" cy="733.7" r="58.8"/><path d="M800.45 733.7L837.2 670.05"/><path d="M800.45 733.7L864.1 696.95"/><path d="M800.45 733.7L864.1 770.45"/><path d="M800.45 733.7L837.2 797.35"/><path d="M800.45 733.7L763.7 797.35"/><path d="M800.45 733.7L736.8 770.45"/><path d="M800.45 733.7L736.8 696.95"/><path d="M800.45 733.7L763.7 670.05"/></g><path d="M726.95 733.7H873.95M800.45 660.2V807.2" fill="none" stroke="#b2b2b6" stroke-width="0.55"/><circle cx="800.45" cy="733.7" r="73.5" fill="none" stroke="#96969b" stroke-width="0.58"/><text x="878.15" y="735.65" font-size="5.4" fill="#222" text-anchor="middle" stroke="#222" stroke-width="0.08">0</text><text x="869.98" y="694.6" font-size="5.4" fill="#222" text-anchor="middle" stroke="#222" stroke-width="0.08">30</text><text x="842.19" y="666.83" font-size="5.4" fill="#222" text-anchor="middle" stroke="#222" stroke-width="0.08">60</text><text x="800.45" y="656.55" font-size="5.4" fill="#222" text-anchor="middle" stroke="#222" stroke-width="0.08">90</text><text x="757.42" y="666.83" font-size="5.4" fill="#222" text-anchor="middle" stroke="#222" stroke-width="0.08">120</text><text x="729.51" y="694.6" font-size="5.4" fill="#222" text-anchor="middle" stroke="#222" stroke-width="0.08">150</text><text x="719.45" y="735.65" font-size="5.4" fill="#222" text-anchor="middle" stroke="#222" stroke-width="0.08">180</text><text x="729.51" y="776.7" font-size="5.4" fill="#222" text-anchor="middle" stroke="#222" stroke-width="0.08">210</text><text x="757.42" y="804.47" font-size="5.4" fill="#222" text-anchor="middle" stroke="#222" stroke-width="0.08">240</text><text x="800.45" y="814.75" font-size="5.4" fill="#222" text-anchor="middle" stroke="#222" stroke-width="0.08">270</text><text x="843.48" y="804.47" font-size="5.4" fill="#222" text-anchor="middle" stroke="#222" stroke-width="0.08">300</text><text x="871.39" y="776.7" font-size="5.4" fill="#222" text-anchor="middle" stroke="#222" stroke-width="0.08">330</text><path d="M857.36 733.68C856.9 731.16 857.36 728.89 856.6 726.12C855.84 723.35 854.58 719.83 852.82 717.06C851.06 714.28 847.91 711.51 846.02 709.5C844.13 707.48 842.62 706.98 841.49 704.96C840.35 702.95 840.48 699.93 839.22 697.41C837.96 694.89 836.07 691.61 833.93 689.85C831.79 688.09 829.14 687.58 826.37 686.83C823.6 686.07 820.08 685.7 817.3 685.32C814.53 684.94 811.76 685.07 809.75 684.56C807.73 684.06 806.6 683.3 805.21 682.29C803.83 681.29 802.95 679.52 801.44 678.52C799.92 677.51 798.29 676.8 796.15 676.25C794.01 675.7 791.11 675.07 788.59 675.19C786.07 675.32 783.55 675.82 781.03 677.01C778.51 678.19 775.37 680.41 773.48 682.29C771.59 684.18 770.58 686.45 769.7 688.34C768.82 690.23 768.82 692.24 768.19 693.63C767.56 695.02 767.3 695.64 765.92 696.65C764.53 697.66 761.51 698.29 759.87 699.68C758.24 701.06 756.85 703.08 756.1 704.96C755.34 706.85 755.84 708.99 755.34 711.01C754.84 713.03 754.21 715.04 753.07 717.06C751.94 719.07 749.8 720.83 748.54 723.1C747.28 725.37 746.27 727.89 745.52 730.66C744.76 733.43 744.01 736.7 744.01 739.73C744.01 742.75 744.76 745.77 745.52 748.79C746.27 751.82 747.15 754.84 748.54 757.86C749.92 760.88 751.94 764.41 753.83 766.93C755.72 769.45 757.86 771.51 759.87 772.97C761.89 774.44 763.9 775.07 765.92 775.7C767.93 776.32 770.33 775.95 771.96 776.75C773.6 777.56 774.48 778.89 775.74 780.53C777 782.17 777.88 784.44 779.52 786.58C781.16 788.72 783.3 791.74 785.57 793.38C787.83 795.02 790.65 795.82 793.12 796.4C795.59 796.98 798.11 796.98 800.38 796.85C802.64 796.73 804.66 796.35 806.73 795.64C808.79 794.94 810.76 794.01 812.77 792.62C814.79 791.24 816.55 788.72 818.82 787.33C821.08 785.95 823.85 785.07 826.37 784.31C828.89 783.55 831.41 783.43 833.93 782.8C836.45 782.17 839.22 781.92 841.49 780.53C843.75 779.15 845.77 776.5 847.53 774.49C849.29 772.47 850.55 770.96 852.07 768.44C853.58 765.92 855.47 762.4 856.6 759.37C857.73 756.35 858.41 753.33 858.87 750.3C859.32 747.28 859.57 744.01 859.32 741.24C859.07 738.47 857.81 736.2 857.36 733.68Z" fill="none" stroke="#0f8a2e" stroke-width="1.0" stroke-linejoin="round"/><path d="M864.16 733.68C863.9 731.16 865.04 725.37 864.91 721.59C864.79 717.81 864.28 714.54 863.4 711.01C862.52 707.48 861.26 703.96 859.62 700.43C857.98 696.9 856.1 693 853.58 689.85C851.06 686.7 847.78 683.68 844.51 681.54C841.23 679.4 837.2 677.89 833.93 677.01C830.65 676.12 827.63 676.07 824.86 676.25C822.09 676.43 819.32 677.69 817.3 678.06C815.29 678.44 814.28 679.07 812.77 678.52C811.26 677.96 810 676.12 808.24 674.74C806.47 673.35 804.46 671.46 802.19 670.2C799.92 668.94 797.41 667.81 794.63 667.18C791.86 666.55 788.84 666.3 785.57 666.43C782.29 666.55 778.51 667.06 774.99 667.94C771.46 668.82 767.93 669.83 764.41 671.72C760.88 673.6 757.1 676.5 753.83 679.27C750.55 682.04 747.53 685.07 744.76 688.34C741.99 691.61 739.22 695.14 737.2 698.92C735.19 702.7 733.63 706.98 732.67 711.01C731.71 715.04 731.59 719.32 731.46 723.1C731.34 726.88 731.46 729.9 731.91 733.68C732.37 737.46 733.05 741.74 734.18 745.77C735.31 749.8 736.95 754.34 738.72 757.86C740.48 761.39 742.24 763.91 744.76 766.93C747.28 769.95 750.81 773.23 753.83 776C756.85 778.77 759.87 781.16 762.9 783.55C765.92 785.95 768.94 788.47 771.96 790.36C774.99 792.24 777.76 793.63 781.03 794.89C784.31 796.15 788.34 797.48 791.61 797.91C794.89 798.34 797.41 797.89 800.68 797.46C803.95 797.03 807.73 795.9 811.26 795.34C814.79 794.79 818.56 794.71 821.84 794.13C825.11 793.55 827.88 793 830.91 791.87C833.93 790.73 836.95 789.47 839.97 787.33C843 785.19 846.27 781.92 849.04 779.02C851.81 776.12 854.33 772.97 856.6 769.95C858.87 766.93 860.88 763.91 862.64 760.88C864.41 757.86 866.3 754.84 867.18 751.82C868.06 748.79 868.06 745.27 867.93 742.75C867.81 740.23 867.05 738.21 866.42 736.7C865.79 735.19 864.41 736.2 864.16 733.68Z" fill="none" stroke="#f0101e" stroke-width="1.05" stroke-linejoin="round"/><path d="M861.13 733.68C860.38 731.41 860.88 727.89 860.38 724.61C859.87 721.34 859.5 717.56 858.11 714.03C856.73 710.51 854.21 707.23 852.07 703.45C849.92 699.68 847.53 694.51 845.26 691.36C843 688.21 840.86 686.2 838.46 684.56C836.07 682.92 833.68 682.17 830.91 681.54C828.14 680.91 824.86 680.86 821.84 680.78C818.82 680.71 815.29 681.04 812.77 681.09C810.25 681.14 808.36 681.77 806.73 681.09C805.09 680.41 804.46 678.31 802.95 677.01C801.44 675.7 800.05 674.36 797.66 673.23C795.26 672.09 791.36 670.51 788.59 670.2C785.82 669.9 783.8 670.66 781.03 671.41C778.26 672.17 774.99 673.18 771.96 674.74C768.94 676.3 765.67 678.26 762.9 680.78C760.13 683.3 757.86 686.58 755.34 689.85C752.82 693.13 749.8 696.9 747.78 700.43C745.77 703.96 744.31 707.23 743.25 711.01C742.19 714.79 741.81 719.32 741.44 723.1C741.06 726.88 740.93 729.9 740.98 733.68C741.03 737.46 740.98 741.99 741.74 745.77C742.49 749.55 744.01 753.08 745.52 756.35C747.03 759.62 748.66 762.65 750.81 765.42C752.95 768.19 755.59 770.71 758.36 772.97C761.13 775.24 764.91 777.01 767.43 779.02C769.95 781.04 771.21 783.18 773.48 785.07C775.74 786.95 778.51 788.84 781.03 790.36C783.55 791.87 785.82 793.2 788.59 794.13C791.36 795.07 794.63 795.82 797.66 795.95C800.68 796.07 803.7 795.44 806.73 794.89C809.75 794.34 812.52 793.63 815.79 792.62C819.07 791.61 823.1 790.1 826.37 788.84C829.65 787.58 832.42 786.7 835.44 785.07C838.46 783.43 841.74 781.54 844.51 779.02C847.28 776.5 849.92 773.23 852.07 769.95C854.21 766.68 855.59 762.14 857.36 759.37C859.12 756.6 861.31 755.59 862.64 753.33C863.98 751.06 864.99 748.29 865.37 745.77C865.74 743.25 865.62 740.23 864.91 738.21C864.21 736.2 861.89 735.95 861.13 733.68Z" fill="none" stroke="#1212fa" stroke-width="1.15" stroke-linejoin="round"/><path d="M777.8 731.7H825.5a1.4 1.4 0 0 1 1.4 1.4V737.6a4.2 4.2 0 0 1 -4.2 4.2H780.6a4.2 4.2 0 0 1 -4.2 -4.2V733.1a1.4 1.4 0 0 1 1.4 -1.4z" fill="#85858f" opacity="0.5" filter="url(#bl)"/><path d="M777.1 730.4H824.8a1.4 1.4 0 0 1 1.4 1.4V736.3a4.2 4.2 0 0 1 -4.2 4.2H779.9a4.2 4.2 0 0 1 -4.2 -4.2V731.8a1.4 1.4 0 0 1 1.4 -1.4z" fill="url(#dev3)" stroke="#dcdcdc" stroke-width="0.3"/><rect x="787.1" y="731.8" width="3" height="1.7" rx="0.3" fill="#fafafa" stroke="#8a8a8a" stroke-width="0.3"/><path d="M787.1 731.9h3" stroke="#555" stroke-width="0.5"/><circle cx="784" cy="733" r="0.6" fill="#1c1c1c"/><path d="M793.2 740.7h3.2" stroke="#b8b8b8" stroke-width="0.6"/><text x="808.08" y="748.55" font-size="5.2" fill="#222" text-anchor="middle" stroke="#222" stroke-width="0.08">-20</text><text x="820.81" y="755.9" font-size="5.2" fill="#222" text-anchor="middle" stroke="#222" stroke-width="0.08">-15</text><text x="833.54" y="763.25" font-size="5.2" fill="#222" text-anchor="middle" stroke="#222" stroke-width="0.08">-10</text><text x="846.27" y="770.6" font-size="5.2" fill="#222" text-anchor="middle" stroke="#222" stroke-width="0.08">-5</text><text x="860.6" y="776.95" font-size="5.2" fill="#222" text-anchor="middle" stroke="#222" stroke-width="0.08">0</text><circle cx="800.15" cy="735.9" r="3" fill="#41c9d6"/><path d="M838.1 631.1H858.1" stroke="#f0101e" stroke-width="1.35"/><text x="860.2" y="634.5" font-size="8.6" fill="#141414" stroke="#141414" stroke-width="0.22">theta80<tspan font-size="7.4" dy="-0.6">°</tspan></text><path d="M838.1 643.2H858.1" stroke="#2a3cc0" stroke-width="1.55"/><text x="860.2" y="646.6" font-size="8.6" fill="#141414" stroke="#141414" stroke-width="0.22">theta90<tspan font-size="7.4" dy="-0.6">°</tspan></text><path d="M838.1 655.3H858.1" stroke="#1f9a4a" stroke-width="0.95"/><text x="860.2" y="658.7" font-size="8.6" fill="#141414" stroke="#141414" stroke-width="0.22">theta100<tspan font-size="7.4" dy="-0.6">°</tspan></text></svg></div>
<div class="cell" style="left:851px;top:480px;width:225px;height:226px"><div class="hm" style="left:30.20px;top:32.70px;width:154.20px;height:154.20px"><div class="hmb"><i style="left:-6.17px;top:-6.17px;width:166.54px;height:166.54px;background:conic-gradient(#42ffbd,#42ffbd,#42ffbd,#42ffbd,#42ffbd,#42ffbd,#42ffbd,#43ffbc,#4effb1,#58ffa7 90deg,#97ff68 90deg,#8dff72,#7aff85,#6fff90,#6fff90,#6fff90,#6fff90,#6fff90,#6fff90,#6fff90,#74ff8b,#7eff81,#83ff7c,#88ff77,#92ff6d,#97ff68,#9cff63,#a6ff59,#abff54 270deg,#96ff69 270deg,#95ff6a,#95ff6a,#8fff70,#82ff7d,#7aff85,#5fffa0,#52ffad,#49ffb6,#42ffbd)"></i><i style="left:0.62px;top:0.62px;width:152.97px;height:152.97px;background:conic-gradient(#47ffb8,#47ffb8,#47ffb8,#47ffb8,#47ffb8,#47ffb8,#47ffb8,#48ffb7,#62ff9d,#76ff89 90deg,#ecff13 90deg,#dfff20,#c6ff39,#b9ff46,#b9ff46,#b9ff46,#b9ff46,#b9ff46,#b9ff46,#b9ff46,#c3ff3c,#d6ff29,#e1ff1e,#e3ff1c,#e8ff17,#eaff15,#ecff13,#f0ff0f,#f2ff0d 270deg,#c0ff3f 270deg,#baff45,#b2ff4d,#a6ff59,#8eff71,#83ff7c,#65ff9a,#56ffa9,#4effb1,#47ffb8)"></i><i style="left:1.39px;top:1.39px;width:151.42px;height:151.42px;background:conic-gradient(#50ffaf,#50ffaf,#50ffaf,#50ffaf,#50ffaf,#50ffaf,#50ffaf,#52ffad,#80ff7f,#a5ff5a 90deg,#ffea00 90deg,#fff200,#fcff03,#f3ff0c,#f3ff0c,#f3ff0c,#f3ff0c,#f5ff0a,#f8ff07,#f9ff06,#fff500,#ffd800,#ffc800,#ffc800,#ffc800,#ffc800,#ffce00,#ffda00,#ffe100 270deg,#d5ff2a 270deg,#ccff33,#c1ff3e,#b5ff4a,#9fff60,#93ff6c,#6eff91,#5dffa2,#55ffaa,#50ffaf)"></i><i style="left:2.31px;top:2.31px;width:149.57px;height:149.57px;background:conic-gradient(#56ffa9,#56ffa9,#56ffa9,#56ffa9,#56ffa9,#56ffa9,#56ffa9,#59ffa6,#92ff6d,#bfff40 90deg,#ffa300 90deg,#ff9e00,#ff9400,#ff8f00,#ff8f00,#ff8f00,#ff8f00,#ff9800,#ffa800,#ffb100,#ffa400,#ff8e00,#ff8200,#ff8200,#ff8200,#ff8200,#ff7b00,#ff6e00,#ff6700 270deg,#fffb00 270deg,#faff05,#efff10,#dbff24,#b0ff4f,#9fff60,#76ff89,#62ff9d,#5cffa3,#56ffa9)"></i><i style="left:3.47px;top:3.47px;width:147.26px;height:147.26px;background:conic-gradient(#63ff9c,#63ff9c,#63ff9c,#63ff9c,#63ff9c,#64ff9b,#66ff99,#6bff94,#c6ff39,#fff000 90deg,#ff7500 90deg,#ff7700,#ff7b00,#ff7e00,#ff7c00,#ff7900,#ff7700,#ff7600,#ff7400,#ff7300,#ff6500,#ff4a00,#ff3c00,#ff3c00,#ff3c00,#ff3c00,#ff4200,#ff4e00,#ff5500 270deg,#ffbe00 270deg,#ffc700,#ffd200,#fff200,#c6ff39,#afff50,#83ff7c,#6eff91,#68ff97,#63ff9c)"></i><i style="left:4.63px;top:4.63px;width:144.95px;height:144.95px;background:conic-gradient(#86ff79,#86ff79,#86ff79,#86ff79,#86ff79,#88ff77,#8fff70,#96ff69,#fff900,#ffa000 90deg,#ff6800 90deg,#ff6500,#ff6000,#ff5d00,#ff5800,#ff5000,#ff4b00,#ff4600,#ff3b00,#ff3600,#ff3600,#ff3700,#ff3800,#ff3800,#ff3800,#ff3800,#ff3800,#ff3800,#ff3800 270deg,#ffaf00 270deg,#ffb800,#ffc300,#ffdc00,#eeff11,#d8ff27,#a3ff5c,#8bff74,#88ff77,#86ff79)"></i><i style="left:5.78px;top:5.78px;width:142.63px;height:142.63px;background:conic-gradient(#a3ff5c,#a3ff5c,#a3ff5c,#a3ff5c,#a3ff5c,#a8ff57,#b2ff4d,#baff45,#ffe700,#ff9e00 90deg,#ff5200 90deg,#ff4e00,#ff4500,#ff4100,#ff3f00,#ff3b00,#ff3800,#ff3700,#ff3500,#ff3400,#ff3300,#ff3100,#ff3000,#ff3000,#ff3000,#ff3000,#ff2f00,#ff2d00,#ff2c00 270deg,#ff9900 270deg,#ffa000,#ffaa00,#ffc000,#ffed00,#fcff03,#c0ff3f,#a4ff5b,#a4ff5b,#a3ff5c)"></i><i style="left:6.94px;top:6.94px;width:140.32px;height:140.32px;background:conic-gradient(#afff50,#afff50,#afff50,#afff50,#b0ff4f,#b5ff4a,#c0ff3f,#c8ff37,#ffe100,#ff9e00 90deg,#ff4400 90deg,#ff4300,#ff4200,#ff4000,#ff4000,#ff4000,#ff4000,#ff3d00,#ff3700,#ff3400,#ff3200,#ff2e00,#ff2c00,#ff2c00,#ff2c00,#ff2c00,#ff2d00,#ff3000,#ff3100 270deg,#ff7900 270deg,#ff7f00,#ff8700,#ffa300,#ffdf00,#fff700,#cbff34,#afff50,#afff50,#afff50)"></i><i style="left:8.26px;top:8.26px;width:137.68px;height:137.68px;background:conic-gradient(#e8ff17,#e8ff17,#e8ff17,#eeff11,#f8ff07,#fdff02,#fff600,#ffef00,#ffc200,#ff9e00 90deg,#ff4a00 90deg,#ff5300,#ff6400,#ff6d00,#ff6600,#ff5a00,#ff5400,#ff4b00,#ff3c00,#ff3400,#ff3600,#ff3900,#ff3b00,#ff3e00,#ff4300,#ff4600,#ff4500,#ff4200,#ff4100 270deg,#ff6200 270deg,#ff6700,#ff6e00,#ff8500,#ffb600,#ffca00,#fffe00,#e8ff17,#e8ff17,#e8ff17)"></i><i style="left:11.01px;top:11.01px;width:132.17px;height:132.17px;background:conic-gradient(#ffdf00,#ffdd00,#ffdb00,#ffd500,#ffca00,#ffc800,#ffc300,#ffc100,#ffba00,#ffb500 90deg,#ff5900 90deg,#ff6800,#ff8500,#ff9400,#ff8f00,#ff8600,#ff8200,#ff7400,#ff5a00,#ff4c00,#ff4e00,#ff5200,#ff5500,#ff5b00,#ff6700,#ff6d00,#ff6700,#ff5d00,#ff5700 270deg,#ff8000 270deg,#ff8700,#ff9000,#ffa000,#ffc200,#ffcd00,#ffdf00,#ffe800,#ffe300,#ffdf00)"></i><i style="left:13.77px;top:13.77px;width:126.66px;height:126.66px;background:conic-gradient(#ff7f00,#ff7800,#ff6f00,#ff6c00,#ff6700,#ff6c00,#ff7900,#ff8100,#ffbe00,#ffef00 90deg,#ff6400 90deg,#ff8400,#ffbe00,#ffde00,#ffd900,#ffcf00,#ffc900,#ffb900,#ff9a00,#ff8900,#ff9400,#ffa700,#ffb200,#ffb700,#ffc000,#ffc500,#ffb600,#ff9900,#ff8900 270deg,#ff9e00 270deg,#ffa700,#ffb200,#ffc900,#fff900,#fff700,#ffbb00,#ff9e00,#ff8d00,#ff7f00)"></i><i style="left:16.52px;top:16.52px;width:121.16px;height:121.16px;background:conic-gradient(#ff7400,#ff7100,#ff6d00,#ff6c00,#ff6b00,#ff7000,#ff7d00,#ff8400,#ffbc00,#ffe800 90deg,#ff8c00 90deg,#ff9700,#ffac00,#ffb700,#ffc900,#ffea00,#fffc00,#fff800,#fff100,#ffed00,#fff900,#eeff11,#e2ff1d,#edff12,#fffb00,#ffef00,#ffe000,#ffc400,#ffb500 270deg,#ffc700 270deg,#ffcd00,#ffd400,#ffe200,#fffe00,#fff800,#ffbb00,#ff9d00,#ff8600,#ff7400)"></i><i style="left:19.27px;top:19.27px;width:115.65px;height:115.65px;background:conic-gradient(#ff7400,#ff7400,#ff7400,#ff7400,#ff7400,#ff7900,#ff8400,#ff8b00,#ffb800,#ffdd00 90deg,#ffa000 90deg,#ffa100,#ffa300,#ffa400,#ffb000,#ffc800,#ffd400,#ffe000,#fff600,#fdff02,#e7ff18,#c0ff3f,#abff54,#c5ff3a,#f5ff0a,#ffef00,#ffe900,#ffde00,#ffd900 270deg,#ffe600 270deg,#ffe900,#ffed00,#fff400,#fdff02,#fff800,#ffbe00,#ffa200,#ff8800,#ff7400)"></i><i style="left:22.03px;top:22.03px;width:110.14px;height:110.14px;background:conic-gradient(#ffe800,#ffe800,#ffe800,#ffd100,#ffa800,#ffa400,#ffa000,#ff9f00,#ffb100,#ffbf00 90deg,#ffc500 90deg,#ffb900,#ffa400,#ff9800,#ff9a00,#ff9d00,#ff9e00,#ffb500,#ffe100,#fff800,#f8ff07,#deff21,#d1ff2e,#f1ff0e,#ffd100,#ffb100,#ffc200,#ffe100,#fff200 270deg,#ffc900 270deg,#ffc600,#ffc200,#ffca00,#ffdb00,#ffe100,#ffec00,#fff100,#ffec00,#ffe800)"></i><i style="left:24.78px;top:24.78px;width:104.64px;height:104.64px;background:conic-gradient(#ecff13,#ecff13,#ecff13,#f1ff0e,#faff05,#fff600,#ffd500,#ffc500,#ffa400,#ff8a00 90deg,#ffd400 90deg,#ffc400,#ffa500,#ff9400,#ff9800,#ff9f00,#ffa300,#ffa600,#ffab00,#ffae00,#ffae00,#ffaf00,#ffaf00,#ffad00,#ffac00,#ffaa00,#ffbb00,#ffd900,#ffea00 270deg,#ffb300 270deg,#ffaa00,#ff9f00,#ff9c00,#ff9700,#ffa600,#fff400,#e6ff19,#e9ff16,#ecff13)"></i><i style="left:27.54px;top:27.54px;width:99.13px;height:99.13px;background:conic-gradient(#cfff30,#ceff31,#cdff32,#c6ff39,#bbff44,#c8ff37,#eaff15,#f9ff06,#ffdd00,#ffbd00 90deg,#ffa900 90deg,#ffa200,#ff9400,#ff8d00,#ff9300,#ff9f00,#ffa600,#ffa400,#ffa100,#ff9f00,#ffa000,#ffa300,#ffa400,#ffa500,#ffa700,#ffa800,#ffae00,#ffba00,#ffc000 270deg,#ffa600 270deg,#ffad00,#ffb700,#ffc600,#ffe600,#fff700,#d1ff2e,#b8ff47,#c5ff3a,#cfff30)"></i><i style="left:30.29px;top:30.29px;width:93.62px;height:93.62px;background:conic-gradient(#87ff78,#6fff90,#51ffae,#6aff95,#99ff66,#a8ff57,#c9ff36,#d8ff27,#fffe00,#ffde00 90deg,#ff9300 90deg,#ff9000,#ff8b00,#ff8800,#ff8a00,#ff8f00,#ff9100,#ff9200,#ff9400,#ff9600,#ff9900,#ffa000,#ffa400,#ffb200,#ffcc00,#ffda00,#ffcc00,#ffb200,#ffa400 270deg,#ff9600 270deg,#ffa600,#ffbc00,#ffd600,#f1ff0e,#ccff33,#50ffaf,#18ffe7,#56ffa9,#87ff78)"></i><i style="left:33.04px;top:33.04px;width:88.11px;height:88.11px;background:conic-gradient(#e3ff1c,#d7ff28,#c8ff37,#caff35,#d0ff2f,#d9ff26,#f0ff0f,#faff05,#fff900,#ffef00 90deg,#ff6c00 90deg,#ff6d00,#ff6e00,#ff6e00,#ff7200,#ff7a00,#ff7e00,#ff8300,#ff8c00,#ff9100,#ffa100,#ffbe00,#ffce00,#ffcb00,#ffc500,#ffc100,#ffb000,#ff8f00,#ff7e00 270deg,#ff4500 270deg,#ff4f00,#ff5c00,#ff8700,#ffe200,#feff01,#c6ff39,#adff52,#cbff34,#e3ff1c)"></i><i style="left:35.80px;top:35.80px;width:82.61px;height:82.61px;background:conic-gradient(#ffa900,#ffa900,#ffa900,#ff9f00,#ff8f00,#ff8800,#ff7a00,#ff7300,#ff7000,#ff6e00 90deg,#ff4000 90deg,#ff4500,#ff4d00,#ff5200,#ff5900,#ff6600,#ff6d00,#ff7500,#ff8500,#ff8e00,#ff9700,#ffa900,#ffb200,#ffab00,#ff9d00,#ff9600,#ff8b00,#ff7700,#ff6d00 270deg,#ff2600 270deg,#ff2c00,#ff3500,#ff3c00,#ff4900,#ff5700,#ff8f00,#ffa900,#ffa900,#ffa900)"></i><i style="left:38.55px;top:38.55px;width:77.10px;height:77.10px;background:conic-gradient(#fb0000,#fb0000,#fb0000,#ff1100,#ff3600,#ff3300,#ff2600,#ff2100,#ff2100,#ff2100 90deg,#ff3400 90deg,#ff3900,#ff4200,#ff4700,#ff4800,#ff4800,#ff4900,#ff5700,#ff7200,#ff8000,#ff8400,#ff8a00,#ff8e00,#ff8700,#ff7900,#ff7200,#ff6700,#ff5400,#ff4900 270deg,#f00000 270deg,#f00000,#f10000,#f80000,#ff0600,#ff0700,#ff0000,#fb0000,#fb0000,#fb0000)"></i><i style="left:41.30px;top:41.30px;width:71.59px;height:71.59px;background:conic-gradient(#f70000,#f50000,#f40000,#f10000,#ed0000,#ec0000,#ea0000,#ea0000,#ea0000,#ea0000 90deg,#ff1f00 90deg,#ff2200,#ff2600,#ff2800,#ff2c00,#ff3400,#ff3800,#ff4800,#ff6500,#ff7500,#ff7400,#ff7300,#ff7200,#ff6500,#ff4d00,#ff4000,#ff3e00,#ff3a00,#ff3800 270deg,#ea0000 270deg,#ea0000,#ea0000,#ea0000,#ea0000,#eb0000,#f10000,#f40000,#f50000,#f70000)"></i><i style="left:44.06px;top:44.06px;width:66.09px;height:66.09px;background:conic-gradient(#f20000,#ef0000,#eb0000,#ea0000,#ea0000,#ea0000,#ea0000,#ea0000,#ea0000,#ea0000 90deg,#ff0d00 90deg,#ff0d00,#ff0d00,#ff0d00,#ff1400,#ff2200,#ff2900,#ff3600,#ff4f00,#ff5c00,#ff5700,#ff4d00,#ff4800,#ff4300,#ff3a00,#ff3500,#ff3400,#ff3200,#ff3000 270deg,#ea0000 270deg,#ea0000,#ea0000,#ea0000,#ea0000,#ea0000,#ea0000,#eb0000,#ef0000,#f20000)"></i><i style="left:46.81px;top:46.81px;width:60.58px;height:60.58px;background:conic-gradient(#ff0c00,#ff0500,#fc0000,#f50000,#ea0000,#ea0000,#ea0000,#ea0000,#ea0000,#ea0000 90deg,#ff0c00 90deg,#ff0c00,#ff0c00,#ff0c00,#ff0d00,#ff1100,#ff1200,#ff1d00,#ff3200,#ff3d00,#ff3c00,#ff3c00,#ff3b00,#ff3600,#ff2c00,#ff2700,#ff2500,#ff2300,#ff2200 270deg,#ea0000 270deg,#ea0000,#ea0000,#ea0000,#ea0000,#ec0000,#f70000,#fc0000,#ff0500,#ff0c00)"></i><i style="left:49.56px;top:49.56px;width:55.07px;height:55.07px;background:conic-gradient(#ff5100,#ff4100,#ff2e00,#ff1500,#eb0000,#ea0000,#ea0000,#ea0000,#ea0000,#ea0000 90deg,#ff0e00 90deg,#ff0e00,#ff0e00,#ff0e00,#ff0d00,#ff0c00,#ff0b00,#ff1500,#ff2700,#ff3100,#ff2c00,#ff2300,#ff1f00,#ff1c00,#ff1800,#ff1500,#ff1400,#ff1300,#ff1300 270deg,#ea0000 270deg,#ea0000,#ea0000,#ea0000,#ea0000,#f20000,#ff1a00,#ff2e00,#ff4100,#ff5100)"></i><i style="left:52.32px;top:52.32px;width:49.56px;height:49.56px;background:conic-gradient(#ff7500,#ff6100,#ff4800,#ff2700,#ec0000,#ea0000,#ea0000,#ea0000,#ea0000,#ea0000 90deg,#ff1100 90deg,#ff1100,#ff1100,#ff1100,#ff1000,#ff0e00,#ff0d00,#ff0f00,#ff1300,#ff1500,#ff1200,#ff0e00,#ff0b00,#ff0b00,#ff0b00,#ff0b00,#ff0b00,#ff0b00,#ff0b00 270deg,#ea0000 270deg,#ea0000,#ea0000,#ea0000,#ea0000,#f50000,#ff2d00,#ff4800,#ff6100,#ff7500)"></i><i style="left:55.07px;top:55.07px;width:44.06px;height:44.06px;background:conic-gradient(#ffca00,#ffad00,#ff8700,#ff4f00,#ee0000,#ea0000,#ea0000,#ea0000,#ea0000,#ea0000 90deg,#ff1500 90deg,#ff1500,#ff1500,#ff1500,#ff1400,#ff1200,#ff1100,#ff1000,#ff0d00,#ff0c00,#ff0c00,#ff0d00,#ff0d00,#ff0d00,#ff0d00,#ff0d00,#ff0d00,#ff0d00,#ff0d00 270deg,#ea0000 270deg,#ea0000,#ea0000,#ea0000,#ea0000,#fc0000,#ff5b00,#ff8700,#ffad00,#ffca00)"></i><i style="left:57.82px;top:57.82px;width:38.55px;height:38.55px;background:conic-gradient(#ffa100,#ff8a00,#ff6c00,#ff3f00,#ef0000,#ec0000,#ec0000,#ec0000,#ec0000,#ec0000 90deg,#ff1a00 90deg,#ff1a00,#ff1a00,#ff1a00,#ff1900,#ff1700,#ff1600,#ff1500,#ff1100,#ff0f00,#ff1000,#ff1100,#ff1200,#ff1200,#ff1200,#ff1200,#ff1200,#ff1200,#ff1200 270deg,#ec0000 270deg,#ec0000,#ec0000,#ec0000,#ec0000,#fb0000,#ff4800,#ff6c00,#ff8a00,#ffa100)"></i><i style="left:60.58px;top:60.58px;width:33.04px;height:33.04px;background:conic-gradient(#ff3e00,#ff3400,#ff2800,#ff1800,#fb0000,#fa0000,#fa0000,#fa0000,#fa0000,#fa0000 90deg,#ff1e00 90deg,#ff1e00,#ff1e00,#ff1e00,#ff1d00,#ff1c00,#ff1c00,#ff1a00,#ff1800,#ff1600,#ff1700,#ff1800,#ff1800,#ff1800,#ff1800,#ff1800,#ff1800,#ff1800,#ff1800 270deg,#fa0000 270deg,#fa0000,#fa0000,#fa0000,#fa0000,#ff0100,#ff1b00,#ff2800,#ff3400,#ff3e00)"></i><i style="left:63.33px;top:63.33px;width:27.54px;height:27.54px;background:conic-gradient(#ff2e00,#ff2800,#ff2000,#ff1a00,#ff1000,#ff0f00,#ff0f00,#ff0f00,#ff0f00,#ff0f00 90deg,#ff2100 90deg,#ff2100,#ff2100,#ff2100,#ff2100,#ff2000,#ff2000,#ff1f00,#ff1e00,#ff1d00,#ff1e00,#ff1e00,#ff1e00,#ff1e00,#ff1e00,#ff1e00,#ff1e00,#ff1e00,#ff1e00 270deg,#ff0f00 270deg,#ff0f00,#ff0f00,#ff0f00,#ff0f00,#ff1100,#ff1b00,#ff2000,#ff2800,#ff2e00)"></i><i style="left:66.09px;top:66.09px;width:22.03px;height:22.03px;background:conic-gradient(#ff3500,#ff3400,#ff3200,#ff2b00,#ff2000,#ff1f00,#ff1f00,#ff1f00,#ff1f00,#ff1f00 90deg,#ff2300 90deg,#ff2300,#ff2300,#ff2300,#ff2300,#ff2300,#ff2300,#ff2300,#ff2300,#ff2200,#ff2200,#ff2300,#ff2300,#ff2300,#ff2300,#ff2300,#ff2300,#ff2300,#ff2300 270deg,#ff1f00 270deg,#ff1f00,#ff1f00,#ff1f00,#ff1f00,#ff2200,#ff2c00,#ff3200,#ff3400,#ff3500)"></i><i style="left:68.84px;top:68.84px;width:16.52px;height:16.52px;background:conic-gradient(#ff3800,#ff3800,#ff3800,#ff3100,#ff2500,#ff2400,#ff2400,#ff2400,#ff2400,#ff2400 90deg,#ff2500 90deg,#ff2500,#ff2500,#ff2500,#ff2500,#ff2500,#ff2500,#ff2500,#ff2500,#ff2500,#ff2500,#ff2500,#ff2500,#ff2500,#ff2500,#ff2500,#ff2500,#ff2500,#ff2500 270deg,#ff2400 270deg,#ff2400,#ff2400,#ff2400,#ff2400,#ff2700,#ff3300,#ff3800,#ff3800,#ff3800)"></i><i style="left:71.59px;top:71.59px;width:11.01px;height:11.01px;background:conic-gradient(#ff3800,#ff3800,#ff3800,#ff3400,#ff2d00,#ff2d00,#ff2d00,#ff2d00,#ff2d00,#ff2d00 90deg,#ff3600 90deg,#ff3600,#ff3600,#ff3600,#ff3600,#ff3600,#ff3600,#ff3600,#ff3600,#ff3600,#ff3600,#ff3600,#ff3600,#ff3600,#ff3600,#ff3600,#ff3600,#ff3600,#ff3600 270deg,#ff2d00 270deg,#ff2d00,#ff2d00,#ff2d00,#ff2d00,#ff2e00,#ff3500,#ff3800,#ff3800,#ff3800)"></i><i style="left:74.35px;top:74.35px;width:5.51px;height:5.51px;background:conic-gradient(#ff3800,#ff3800,#ff3800,#ff3700,#ff3600,#ff3600,#ff3600,#ff3600,#ff3600,#ff3600 90deg,#ff4900 90deg,#ff4900,#ff4900,#ff4900,#ff4900,#ff4900,#ff4900,#ff4900,#ff4900,#ff4900,#ff4900,#ff4900,#ff4900,#ff4900,#ff4900,#ff4900,#ff4900,#ff4900,#ff4900 270deg,#ff3600 270deg,#ff3600,#ff3600,#ff3600,#ff3600,#ff3700,#ff3800,#ff3800,#ff3800,#ff3800)"></i></div></div><svg width="225" height="226" viewBox="908 614 225 226"><path d="M938.2 723.8A77.1 77.1 0 0 1 1092.4 723.8Z" fill="#40381a" fill-opacity="0.53"/><g fill="none" stroke="#1a1208" stroke-width="0.45" stroke-opacity="0.85"><circle cx="1015.3" cy="723.8" r="12.85"/><circle cx="1015.3" cy="723.8" r="25.7"/><circle cx="1015.3" cy="723.8" r="38.55"/><circle cx="1015.3" cy="723.8" r="51.4"/><circle cx="1015.3" cy="723.8" r="64.25"/><circle cx="1015.3" cy="723.8" r="77.1"/><path d="M938.2 723.8L1092.4 723.8"/><path d="M948.53 762.35L1082.07 685.25"/><path d="M976.75 790.57L1053.85 657.03"/><path d="M1015.3 800.9L1015.3 646.7"/><path d="M1053.85 790.57L976.75 657.03"/><path d="M1082.07 762.35L948.53 685.25"/></g><text x="1097.8" y="726" font-size="6.2" fill="#222" text-anchor="middle">0<tspan font-size="5.6" dy="-1.2">°</tspan></text><text x="1088.13" y="683.95" font-size="6.2" fill="#222" text-anchor="middle">30<tspan font-size="5.6" dy="-1.2">°</tspan></text><text x="1056.85" y="654.03" font-size="6.2" fill="#222" text-anchor="middle">60<tspan font-size="5.6" dy="-1.2">°</tspan></text><text x="1015.3" y="643.3" font-size="6.2" fill="#222" text-anchor="middle">90<tspan font-size="5.6" dy="-1.2">°</tspan></text><text x="974.15" y="654.73" font-size="6.2" fill="#222" text-anchor="middle">120<tspan font-size="5.6" dy="-1.2">°</tspan></text><text x="942.38" y="683.9" font-size="6.2" fill="#222" text-anchor="middle">150<tspan font-size="5.6" dy="-1.2">°</tspan></text><text x="930.5" y="726" font-size="6.2" fill="#222" text-anchor="middle">180<tspan font-size="5.6" dy="-1.2">°</tspan></text><text x="940.22" y="769.35" font-size="6.2" fill="#222" text-anchor="middle">210<tspan font-size="5.6" dy="-1.2">°</tspan></text><text x="973.55" y="798.31" font-size="6.2" fill="#222" text-anchor="middle">240<tspan font-size="5.6" dy="-1.2">°</tspan></text><text x="1015.3" y="808.7" font-size="6.2" fill="#222" text-anchor="middle">270<tspan font-size="5.6" dy="-1.2">°</tspan></text><text x="1057.05" y="798.31" font-size="6.2" fill="#222" text-anchor="middle">300<tspan font-size="5.6" dy="-1.2">°</tspan></text><text x="1090.73" y="769.55" font-size="6.2" fill="#222" text-anchor="middle">330<tspan font-size="5.6" dy="-1.2">°</tspan></text><text x="1026.69" y="734.82" font-size="6.2" fill="#1a1a1a" text-anchor="middle">30<tspan font-size="5.6" dy="-1.2">°</tspan></text><text x="1033.86" y="743.09" font-size="6.2" fill="#1a1a1a" text-anchor="middle">60<tspan font-size="5.6" dy="-1.2">°</tspan></text><text x="1042.66" y="751.37" font-size="6.2" fill="#1a1a1a" text-anchor="middle">90<tspan font-size="5.6" dy="-1.2">°</tspan></text><text x="1055.19" y="760.52" font-size="6.2" fill="#1a1a1a" text-anchor="middle">120<tspan font-size="5.6" dy="-1.2">°</tspan></text><text x="1066.24" y="768.48" font-size="6.2" fill="#1a1a1a" text-anchor="middle">150<tspan font-size="5.6" dy="-1.2">°</tspan></text><text x="1076.28" y="777.13" font-size="6.2" fill="#1a1a1a" text-anchor="middle">180<tspan font-size="5.6" dy="-1.2">°</tspan></text><circle cx="1015.3" cy="685.25" r="3.5" fill="#1490ff" stroke="#fff" stroke-width="0.7"/><circle cx="976.75" cy="723.8" r="3.5" fill="#9747ff" stroke="#fff" stroke-width="0.7"/><circle cx="1015.3" cy="723.8" r="3.5" fill="#4ac6d4" stroke="#fff" stroke-width="0.7"/><circle cx="1053.85" cy="723.8" r="3.5" fill="#bf1f6e" stroke="#fff" stroke-width="0.7"/><circle cx="1015.3" cy="762.35" r="3.5" fill="#1d0a6b" stroke="#fff" stroke-width="0.7"/><rect x="1113.1" y="644" width="11.6" height="155.2" fill="url(#cbar)"/><path d="M1123.2 644H1124.7" stroke="#333" stroke-width="0.4"/><text x="1126.6" y="645.6" font-size="4.5" fill="#6e6e6e">5</text><path d="M1123.2 675.04H1124.7" stroke="#333" stroke-width="0.4"/><text x="1126.6" y="676.64" font-size="4.5" fill="#6e6e6e">0</text><path d="M1123.2 706.08H1124.7" stroke="#333" stroke-width="0.4"/><text x="1126.6" y="707.68" font-size="4.5" fill="#6e6e6e">-5</text><path d="M1123.2 737.12H1124.7" stroke="#333" stroke-width="0.4"/><text x="1126.6" y="738.72" font-size="4.5" fill="#6e6e6e">-10</text><path d="M1123.2 768.16H1124.7" stroke="#333" stroke-width="0.4"/><text x="1126.6" y="769.76" font-size="4.5" fill="#6e6e6e">-15</text><path d="M1123.2 799.2H1124.7" stroke="#333" stroke-width="0.4"/><text x="1126.6" y="800.8" font-size="4.5" fill="#6e6e6e">-20</text></svg></div>
<div class="cell h" style="left:1px;top:707px;width:168px;height:226px"></div>
<div class="cell" style="left:170px;top:707px;width:226px;height:226px"><svg width="226" height="226" viewBox="227 841 226 226"><g fill="none" stroke="#ececee" stroke-width="0.42"><circle cx="345.05" cy="954.8" r="7.29"/><circle cx="345.05" cy="954.8" r="21.87"/><circle cx="345.05" cy="954.8" r="36.45"/><circle cx="345.05" cy="954.8" r="51.03"/><circle cx="345.05" cy="954.8" r="65.61"/><path d="M347.58 940.44L357.71 883.01"/><path d="M350.04 941.1L369.98 886.3"/><path d="M354.42 943.63L391.91 898.96"/><path d="M356.22 945.43L400.89 907.94"/><path d="M358.75 949.81L413.55 929.87"/><path d="M359.41 952.27L416.84 942.14"/><path d="M359.41 957.33L416.84 967.46"/><path d="M358.75 959.79L413.55 979.73"/><path d="M356.22 964.17L400.89 1001.66"/><path d="M354.42 965.97L391.91 1010.64"/><path d="M350.04 968.5L369.98 1023.3"/><path d="M347.58 969.16L357.71 1026.59"/><path d="M342.52 969.16L332.39 1026.59"/><path d="M340.06 968.5L320.12 1023.3"/><path d="M335.68 965.97L298.19 1010.64"/><path d="M333.88 964.17L289.21 1001.66"/><path d="M331.35 959.79L276.55 979.73"/><path d="M330.69 957.33L273.26 967.46"/><path d="M330.69 952.27L273.26 942.14"/><path d="M331.35 949.81L276.55 929.87"/><path d="M333.88 945.43L289.21 907.94"/><path d="M335.68 943.63L298.19 898.96"/><path d="M340.06 941.1L320.12 886.3"/><path d="M342.52 940.44L332.39 883.01"/></g><g fill="none" stroke="#c6c6ca" stroke-width="0.48"><circle cx="345.05" cy="954.8" r="14.58"/><circle cx="345.05" cy="954.8" r="29.16"/><circle cx="345.05" cy="954.8" r="43.74"/><circle cx="345.05" cy="954.8" r="58.32"/><path d="M345.05 954.8L381.5 891.67"/><path d="M345.05 954.8L408.18 918.35"/><path d="M345.05 954.8L408.18 991.25"/><path d="M345.05 954.8L381.5 1017.93"/><path d="M345.05 954.8L308.6 1017.93"/><path d="M345.05 954.8L281.92 991.25"/><path d="M345.05 954.8L281.92 918.35"/><path d="M345.05 954.8L308.6 891.67"/></g><path d="M272.15 954.8H417.95M345.05 881.9V1027.7" fill="none" stroke="#b2b2b6" stroke-width="0.55"/><circle cx="345.05" cy="954.8" r="72.9" fill="none" stroke="#96969b" stroke-width="0.58"/><text x="345.05" y="878.25" font-size="5.4" fill="#222" text-anchor="middle" stroke="#222" stroke-width="0.08">0</text><text x="386.49" y="888.45" font-size="5.4" fill="#222" text-anchor="middle" stroke="#222" stroke-width="0.08">30</text><text x="414.06" y="916" font-size="5.4" fill="#222" text-anchor="middle" stroke="#222" stroke-width="0.08">60</text><text x="423.8" y="956.75" font-size="5.4" fill="#222" text-anchor="middle" stroke="#222" stroke-width="0.08">90</text><text x="415.47" y="997.5" font-size="5.4" fill="#222" text-anchor="middle" stroke="#222" stroke-width="0.08">120</text><text x="387.78" y="1025.05" font-size="5.4" fill="#222" text-anchor="middle" stroke="#222" stroke-width="0.08">150</text><text x="345.05" y="1035.25" font-size="5.4" fill="#222" text-anchor="middle" stroke="#222" stroke-width="0.08">180</text><text x="302.32" y="1025.05" font-size="5.4" fill="#222" text-anchor="middle" stroke="#222" stroke-width="0.08">210</text><text x="274.63" y="997.5" font-size="5.4" fill="#222" text-anchor="middle" stroke="#222" stroke-width="0.08">240</text><text x="264.65" y="956.75" font-size="5.4" fill="#222" text-anchor="middle" stroke="#222" stroke-width="0.08">270</text><text x="274.63" y="916" font-size="5.4" fill="#222" text-anchor="middle" stroke="#222" stroke-width="0.08">300</text><text x="302.32" y="888.45" font-size="5.4" fill="#222" text-anchor="middle" stroke="#222" stroke-width="0.08">330</text><path d="M344.98 898.23C347 898.23 350.02 899.49 352.24 898.98C354.45 898.48 356.02 896.14 358.28 895.2C360.55 894.27 363.32 893.26 365.84 893.39C368.36 893.52 370.88 894.65 373.4 895.96C375.91 897.27 378.43 899.74 380.95 901.25C383.47 902.76 385.74 903.89 388.51 905.03C391.28 906.16 394.81 906.66 397.58 908.05C400.35 909.44 403.12 911.2 405.13 913.34C407.15 915.48 408.53 917.87 409.67 920.9C410.8 923.92 411.56 928.2 411.93 931.48C412.31 934.75 411.61 937.77 411.93 940.54C412.26 943.31 413.52 945.71 413.9 948.1C414.28 950.49 414.91 952.51 414.2 954.9C413.5 957.29 410.93 959.81 409.67 962.46C408.41 965.1 408.03 968.13 406.64 970.77C405.26 973.42 403.37 976.19 401.36 978.33C399.34 980.47 396.57 981.85 394.55 983.62C392.54 985.38 390.4 986.77 389.26 988.91C388.13 991.05 388.38 993.94 387.75 996.46C387.12 998.98 386.62 1001.5 385.49 1004.02C384.35 1006.54 382.97 1009.69 380.95 1011.58C378.94 1013.47 375.91 1014.22 373.4 1015.36C370.88 1016.49 368.36 1017.62 365.84 1018.38C363.32 1019.13 360.55 1020.14 358.28 1019.89C356.02 1019.64 353.87 1018.25 352.24 1016.87C350.6 1015.48 349.52 1013.47 348.46 1011.58C347.4 1009.69 346.52 1006.92 345.89 1005.53C345.26 1004.15 345.13 1003.39 344.68 1003.26C344.23 1003.14 343.92 1003.52 343.17 1004.78C342.41 1006.04 341.53 1008.68 340.15 1010.82C338.76 1012.96 336.87 1016.04 334.86 1017.62C332.84 1019.21 330.45 1020.22 328.06 1020.34C325.66 1020.47 323.02 1019.59 320.5 1018.38C317.98 1017.17 315.46 1014.6 312.94 1013.09C310.42 1011.58 307.27 1011.07 305.39 1009.31C303.5 1007.55 302.49 1005.15 301.61 1002.51C300.73 999.86 300.73 996.46 300.1 993.44C299.47 990.42 299.09 987.4 297.83 984.37C296.57 981.35 294.3 978.08 292.54 975.3C290.78 972.53 288.76 970.77 287.25 967.75C285.74 964.73 284.6 960.7 283.47 957.17C282.34 953.64 281.33 950.12 280.45 946.59C279.57 943.06 278.31 939.54 278.18 936.01C278.06 932.48 278.56 928.71 279.69 925.43C280.83 922.16 282.97 919.13 284.98 916.36C287 913.59 289.39 911.32 291.78 908.81C294.18 906.29 297.07 903.14 299.34 901.25C301.61 899.36 303.37 898.23 305.39 897.47C307.4 896.72 309.42 896.59 311.43 896.72C313.45 896.84 315.21 897.72 317.48 898.23C319.74 898.73 322.26 899.44 325.03 899.74C327.8 900.04 331.58 900.17 334.1 900.04C336.62 899.91 338.33 899.28 340.15 898.98C341.96 898.68 342.97 898.23 344.98 898.23Z" fill="none" stroke="#1212fa" stroke-width="1.3" stroke-linejoin="round"/><rect x="328.9" y="930" width="33.6" height="55.1" rx="2.4" fill="#8c8c98" opacity="0.42" filter="url(#bl)"/><rect x="328" y="928.5" width="33.6" height="55.1" rx="2.4" fill="url(#dev1)" stroke="#e3e3e9" stroke-width="0.35"/><g transform="translate(338.68 937.86) scale(0.7020000000000001)" fill="#a9acb5"><path d="M3.2 0a2.6 2.6 0 0 1 0 5.2H2.6V3.9h.6a1.3 1.3 0 1 0-1.3-1.3v.3H.6v-.3A2.6 2.6 0 0 1 3.2 0z"/><path d="M0 3.4h2.2v3H.9V4.7H0z"/></g><text x="343" y="941.73" font-size="2.43" fill="#c4c7ce">tp-link</text><text x="365.2" y="976.88" font-size="5.2" fill="#222" text-anchor="middle" stroke="#222" stroke-width="0.08">-15</text><text x="377.83" y="984.17" font-size="5.2" fill="#222" text-anchor="middle" stroke="#222" stroke-width="0.08">-10</text><text x="390.46" y="991.46" font-size="5.2" fill="#222" text-anchor="middle" stroke="#222" stroke-width="0.08">-5</text><text x="404.68" y="997.75" font-size="5.2" fill="#222" text-anchor="middle" stroke="#222" stroke-width="0.08">0</text><circle cx="344.4" cy="928" r="3" fill="#41c9d6"/><circle cx="327.7" cy="955.4" r="3" fill="#9747ff"/><circle cx="344.4" cy="955.4" r="3" fill="#1d0a6b"/><circle cx="362.1" cy="955.4" r="3" fill="#c9145f"/></svg></div>
<div class="cell" style="left:397px;top:707px;width:226px;height:226px"><svg width="226" height="226" viewBox="454 841 226 226"><path d="M571.45 883.4A73.8 73.8 0 0 1 571.45 1031Z" fill="#dcdceb"/><g fill="none" stroke="#ececee" stroke-width="0.42"><circle cx="571.45" cy="957.2" r="7.38"/><circle cx="571.45" cy="957.2" r="22.14"/><circle cx="571.45" cy="957.2" r="36.9"/><circle cx="571.45" cy="957.2" r="51.66"/><circle cx="571.45" cy="957.2" r="66.42"/><path d="M574.01 942.66L584.27 884.52"/><path d="M576.5 943.33L596.69 887.85"/><path d="M580.94 945.89L618.89 900.67"/><path d="M582.76 947.71L627.98 909.76"/><path d="M585.32 952.15L640.8 931.96"/><path d="M585.99 954.64L644.13 944.38"/><path d="M585.99 959.76L644.13 970.02"/><path d="M585.32 962.25L640.8 982.44"/><path d="M582.76 966.69L627.98 1004.64"/><path d="M580.94 968.51L618.89 1013.73"/><path d="M576.5 971.07L596.69 1026.55"/><path d="M574.01 971.74L584.27 1029.88"/><path d="M568.89 971.74L558.63 1029.88"/><path d="M566.4 971.07L546.21 1026.55"/><path d="M561.96 968.51L524.01 1013.73"/><path d="M560.14 966.69L514.92 1004.64"/><path d="M557.58 962.25L502.1 982.44"/><path d="M556.91 959.76L498.77 970.02"/><path d="M556.91 954.64L498.77 944.38"/><path d="M557.58 952.15L502.1 931.96"/><path d="M560.14 947.71L514.92 909.76"/><path d="M561.96 945.89L524.01 900.67"/><path d="M566.4 943.33L546.21 887.85"/><path d="M568.89 942.66L558.63 884.52"/></g><g fill="none" stroke="#c6c6ca" stroke-width="0.48"><circle cx="571.45" cy="957.2" r="14.76"/><circle cx="571.45" cy="957.2" r="29.52"/><circle cx="571.45" cy="957.2" r="44.28"/><circle cx="571.45" cy="957.2" r="59.04"/><path d="M571.45 957.2L608.35 893.29"/><path d="M571.45 957.2L635.36 920.3"/><path d="M571.45 957.2L635.36 994.1"/><path d="M571.45 957.2L608.35 1021.11"/><path d="M571.45 957.2L534.55 1021.11"/><path d="M571.45 957.2L507.54 994.1"/><path d="M571.45 957.2L507.54 920.3"/><path d="M571.45 957.2L534.55 893.29"/></g><path d="M497.65 957.2H645.25M571.45 883.4V1031" fill="none" stroke="#b2b2b6" stroke-width="0.55"/><circle cx="571.45" cy="957.2" r="73.8" fill="none" stroke="#96969b" stroke-width="0.58"/><text x="571.45" y="879.75" font-size="5.4" fill="#222" text-anchor="middle" stroke="#222" stroke-width="0.08">0</text><text x="613.34" y="890.07" font-size="5.4" fill="#222" text-anchor="middle" stroke="#222" stroke-width="0.08">30</text><text x="641.24" y="917.95" font-size="5.4" fill="#222" text-anchor="middle" stroke="#222" stroke-width="0.08">60</text><text x="651.1" y="959.15" font-size="5.4" fill="#222" text-anchor="middle" stroke="#222" stroke-width="0.08">90</text><text x="642.65" y="1000.35" font-size="5.4" fill="#222" text-anchor="middle" stroke="#222" stroke-width="0.08">120</text><text x="614.63" y="1028.23" font-size="5.4" fill="#222" text-anchor="middle" stroke="#222" stroke-width="0.08">150</text><text x="571.45" y="1038.55" font-size="5.4" fill="#222" text-anchor="middle" stroke="#222" stroke-width="0.08">180</text><text x="528.27" y="1028.23" font-size="5.4" fill="#222" text-anchor="middle" stroke="#222" stroke-width="0.08">210</text><text x="500.25" y="1000.35" font-size="5.4" fill="#222" text-anchor="middle" stroke="#222" stroke-width="0.08">240</text><text x="490.15" y="959.15" font-size="5.4" fill="#222" text-anchor="middle" stroke="#222" stroke-width="0.08">270</text><text x="500.25" y="917.95" font-size="5.4" fill="#222" text-anchor="middle" stroke="#222" stroke-width="0.08">300</text><text x="528.27" y="890.07" font-size="5.4" fill="#222" text-anchor="middle" stroke="#222" stroke-width="0.08">330</text><path d="M571.38 901.55C573.39 901.88 575.91 901.55 577.73 902.01C579.54 902.46 580.87 903.64 582.26 904.27C583.64 904.9 584.27 905.78 586.04 905.78C587.8 905.78 590.19 904.83 592.84 904.27C595.48 903.72 598.88 902.91 601.91 902.46C604.93 902.01 608.2 901.55 610.97 901.55C613.75 901.55 616.26 901.75 618.53 902.46C620.8 903.16 623.12 904.22 624.58 905.78C626.04 907.35 626.92 909.56 627.3 911.83C627.68 914.1 626.79 916.87 626.84 919.39C626.89 921.9 626.72 925.18 627.6 926.94C628.48 928.71 630.5 928.83 632.13 929.96C633.77 931.1 636.16 932.23 637.42 933.74C638.68 935.25 639.36 936.89 639.69 939.03C640.02 941.17 640.02 944.32 639.39 946.59C638.76 948.86 637.5 950.87 635.91 952.63C634.32 954.4 631.63 955.66 629.87 957.17C628.1 958.68 626.47 959.94 625.33 961.7C624.2 963.47 624.45 966.11 623.07 967.75C621.68 969.39 619.16 970.64 617.02 971.53C614.88 972.41 611.6 972.28 610.22 973.04C608.83 973.79 608.58 974.8 608.71 976.06C608.83 977.32 610.35 979.08 610.97 980.59C611.6 982.11 612.61 983.49 612.49 985.13C612.36 986.77 611.23 988.53 610.22 990.42C609.21 992.31 607.83 994.57 606.44 996.46C605.06 998.35 603.42 1000.49 601.91 1001.75C600.4 1003.01 599.14 1003.89 597.37 1004.02C595.61 1004.15 593.59 1003.26 591.33 1002.51C589.06 1001.75 586.04 1000.54 583.77 999.49C581.5 998.43 579.24 996.41 577.73 996.16C576.21 995.91 575.58 997.04 574.7 997.97C573.82 998.91 573.19 1000.49 572.44 1001.75C571.68 1003.01 571.3 1004.27 570.17 1005.53C569.04 1006.79 567.4 1007.92 565.63 1009.31C563.87 1010.7 561.6 1012.58 559.59 1013.84C557.57 1015.1 555.56 1016.19 553.54 1016.87C551.53 1017.55 549.26 1018 547.5 1017.92C545.74 1017.85 544.73 1017.6 542.96 1016.41C541.2 1015.23 538.81 1012.89 536.92 1010.82C535.03 1008.76 532.84 1006.41 531.63 1004.02C530.42 1001.63 530.04 998.98 529.66 996.46C529.29 993.94 530.04 990.92 529.36 988.91C528.68 986.89 527.35 985.76 525.58 984.37C523.82 982.99 520.67 982.11 518.78 980.59C516.89 979.08 515.63 977.7 514.25 975.3C512.86 972.91 511.73 969.26 510.47 966.24C509.21 963.21 507.88 959.94 506.69 957.17C505.51 954.4 504 952.13 503.37 949.61C502.74 947.09 502.74 944.32 502.91 942.06C503.09 939.79 503.54 937.77 504.43 936.01C505.31 934.25 507.2 933.49 508.2 931.48C509.21 929.46 509.46 926.69 510.47 923.92C511.48 921.15 512.36 917.62 514.25 914.85C516.14 912.08 519.04 909.81 521.81 907.29C524.58 904.78 528.1 901.63 530.87 899.74C533.64 897.85 535.91 896.84 538.43 895.96C540.95 895.08 543.22 894.7 545.99 894.45C548.76 894.2 552.54 894.07 555.06 894.45C557.57 894.83 559.34 895.78 561.1 896.72C562.86 897.65 563.92 899.23 565.63 900.04C567.35 900.85 569.36 901.22 571.38 901.55Z" fill="none" stroke="#1212fa" stroke-width="1.3" stroke-linejoin="round"/><rect x="568.15" y="929" width="8" height="59.8" rx="0.8" fill="#8e8e9a" opacity="0.4" filter="url(#bl)"/><rect x="567.45" y="928" width="8" height="59.8" rx="0.8" fill="url(#dev2)"/><text x="579.13" y="972.08" font-size="5.2" fill="#222" text-anchor="middle" stroke="#222" stroke-width="0.08">-20</text><text x="591.92" y="979.46" font-size="5.2" fill="#222" text-anchor="middle" stroke="#222" stroke-width="0.08">-15</text><text x="604.7" y="986.84" font-size="5.2" fill="#222" text-anchor="middle" stroke="#222" stroke-width="0.08">-10</text><text x="617.48" y="994.22" font-size="5.2" fill="#222" text-anchor="middle" stroke="#222" stroke-width="0.08">-5</text><text x="631.86" y="1000.6" font-size="5.2" fill="#222" text-anchor="middle" stroke="#222" stroke-width="0.08">0</text><text x="566.25" y="964.4" font-size="5.2" fill="#222" text-anchor="middle" stroke="#222" stroke-width="0.08">-2</text><circle cx="571.55" cy="958.1" r="3" fill="#c9145f"/></svg></div>
<div class="cell" style="left:624px;top:707px;width:226px;height:226px"><svg width="226" height="226" viewBox="681 841 226 226"><path d="M726.95 958.7A73.5 73.5 0 0 1 873.95 958.7Z" fill="#dcdceb"/><g fill="none" stroke="#ececee" stroke-width="0.42"><circle cx="800.45" cy="958.7" r="7.35"/><circle cx="800.45" cy="958.7" r="22.05"/><circle cx="800.45" cy="958.7" r="36.75"/><circle cx="800.45" cy="958.7" r="51.45"/><circle cx="800.45" cy="958.7" r="66.15"/><path d="M803 944.22L813.21 886.32"/><path d="M805.48 944.89L825.59 889.63"/><path d="M809.9 947.44L847.69 902.4"/><path d="M811.71 949.25L856.75 911.46"/><path d="M814.26 953.67L869.52 933.56"/><path d="M814.93 956.15L872.83 945.94"/><path d="M814.93 961.25L872.83 971.46"/><path d="M814.26 963.73L869.52 983.84"/><path d="M811.71 968.15L856.75 1005.94"/><path d="M809.9 969.96L847.69 1015"/><path d="M805.48 972.51L825.59 1027.77"/><path d="M803 973.18L813.21 1031.08"/><path d="M797.9 973.18L787.69 1031.08"/><path d="M795.42 972.51L775.31 1027.77"/><path d="M791 969.96L753.21 1015"/><path d="M789.19 968.15L744.15 1005.94"/><path d="M786.64 963.73L731.38 983.84"/><path d="M785.97 961.25L728.07 971.46"/><path d="M785.97 956.15L728.07 945.94"/><path d="M786.64 953.67L731.38 933.56"/><path d="M789.19 949.25L744.15 911.46"/><path d="M791 947.44L753.21 902.4"/><path d="M795.42 944.89L775.31 889.63"/><path d="M797.9 944.22L787.69 886.32"/></g><g fill="none" stroke="#c6c6ca" stroke-width="0.48"><circle cx="800.45" cy="958.7" r="14.7"/><circle cx="800.45" cy="958.7" r="29.4"/><circle cx="800.45" cy="958.7" r="44.1"/><circle cx="800.45" cy="958.7" r="58.8"/><path d="M800.45 958.7L837.2 895.05"/><path d="M800.45 958.7L864.1 921.95"/><path d="M800.45 958.7L864.1 995.45"/><path d="M800.45 958.7L837.2 1022.35"/><path d="M800.45 958.7L763.7 1022.35"/><path d="M800.45 958.7L736.8 995.45"/><path d="M800.45 958.7L736.8 921.95"/><path d="M800.45 958.7L763.7 895.05"/></g><path d="M726.95 958.7H873.95M800.45 885.2V1032.2" fill="none" stroke="#b2b2b6" stroke-width="0.55"/><circle cx="800.45" cy="958.7" r="73.5" fill="none" stroke="#96969b" stroke-width="0.58"/><text x="878.15" y="960.65" font-size="5.4" fill="#222" text-anchor="middle" stroke="#222" stroke-width="0.08">0</text><text x="869.98" y="919.6" font-size="5.4" fill="#222" text-anchor="middle" stroke="#222" stroke-width="0.08">30</text><text x="842.19" y="891.83" font-size="5.4" fill="#222" text-anchor="middle" stroke="#222" stroke-width="0.08">60</text><text x="800.45" y="881.55" font-size="5.4" fill="#222" text-anchor="middle" stroke="#222" stroke-width="0.08">90</text><text x="757.42" y="891.83" font-size="5.4" fill="#222" text-anchor="middle" stroke="#222" stroke-width="0.08">120</text><text x="729.51" y="919.6" font-size="5.4" fill="#222" text-anchor="middle" stroke="#222" stroke-width="0.08">150</text><text x="719.45" y="960.65" font-size="5.4" fill="#222" text-anchor="middle" stroke="#222" stroke-width="0.08">180</text><text x="729.51" y="1001.7" font-size="5.4" fill="#222" text-anchor="middle" stroke="#222" stroke-width="0.08">210</text><text x="757.42" y="1029.47" font-size="5.4" fill="#222" text-anchor="middle" stroke="#222" stroke-width="0.08">240</text><text x="800.45" y="1039.75" font-size="5.4" fill="#222" text-anchor="middle" stroke="#222" stroke-width="0.08">270</text><text x="843.48" y="1029.47" font-size="5.4" fill="#222" text-anchor="middle" stroke="#222" stroke-width="0.08">300</text><text x="871.39" y="1001.7" font-size="5.4" fill="#222" text-anchor="middle" stroke="#222" stroke-width="0.08">330</text><path d="M861.13 958.68C860.68 955.41 860.63 951.25 859.62 948.1C858.61 944.95 856.85 941.93 855.09 939.79C853.32 937.65 851.31 936.89 849.04 935.25C846.78 933.62 844.01 931.48 841.49 929.96C838.97 928.45 835.82 927.32 833.93 926.19C832.04 925.05 830.91 924.8 830.15 923.16C829.4 921.53 830.03 918.5 829.4 916.36C828.77 914.22 827.88 911.88 826.37 910.32C824.86 908.76 822.34 907.45 820.33 906.99C818.31 906.54 816.3 907.04 814.28 907.6C812.27 908.15 810 909.61 808.24 910.32C806.47 911.02 805.09 911.95 803.7 911.83C802.32 911.7 801.44 910.44 799.92 909.56C798.41 908.68 796.52 907.22 794.63 906.54C792.75 905.86 790.86 905.36 788.59 905.48C786.32 905.61 783.3 906.24 781.03 907.29C778.77 908.35 776.5 910.07 774.99 911.83C773.48 913.59 773.22 916.36 771.96 917.87C770.71 919.39 769.19 919.64 767.43 920.9C765.67 922.16 762.9 923.67 761.39 925.43C759.87 927.19 758.99 929.21 758.36 931.48C757.73 933.74 758.11 937.14 757.61 939.03C757.1 940.92 756.73 941.68 755.34 942.81C753.95 943.94 751.06 944.45 749.29 945.83C747.53 947.22 745.77 948.73 744.76 951.12C743.75 953.52 743.38 957.17 743.25 960.19C743.12 963.21 743.38 965.98 744.01 969.26C744.63 972.53 745.77 976.56 747.03 979.84C748.29 983.11 749.67 985.88 751.56 988.91C753.45 991.93 755.97 995.58 758.36 997.97C760.76 1000.37 763.65 1002.01 765.92 1003.26C768.19 1004.52 770.45 1004.65 771.96 1005.53C773.48 1006.41 774.23 1007.29 774.99 1008.55C775.74 1009.81 775.24 1011.58 776.5 1013.09C777.76 1014.6 780.03 1016.54 782.54 1017.62C785.06 1018.71 788.59 1019.39 791.61 1019.59C794.63 1019.79 797.66 1019.28 800.68 1018.83C803.7 1018.38 806.73 1017.52 809.75 1016.87C812.77 1016.21 815.54 1015.53 818.82 1014.9C822.09 1014.27 826.12 1014.02 829.4 1013.09C832.67 1012.16 835.69 1011.2 838.46 1009.31C841.23 1007.42 843.75 1004.4 846.02 1001.75C848.29 999.11 850.3 996.34 852.07 993.44C853.83 990.54 855.09 987.14 856.6 984.37C858.11 981.6 860.18 979.59 861.13 976.82C862.09 974.05 862.34 970.77 862.34 967.75C862.34 964.73 861.59 961.95 861.13 958.68Z" fill="none" stroke="#0f8a2e" stroke-width="1.0" stroke-linejoin="round"/><path d="M867.93 958.68C867.3 956.66 865.92 953.64 864.91 951.12C863.9 948.6 862.64 946.34 861.89 943.57C861.13 940.8 861.13 937.77 860.38 934.5C859.62 931.22 858.61 927.19 857.36 923.92C856.1 920.64 854.71 917.5 852.82 914.85C850.93 912.21 848.41 909.69 846.02 908.05C843.63 906.41 841.23 905.66 838.46 905.03C835.69 904.4 832.17 904.2 829.4 904.27C826.62 904.35 824.11 905.23 821.84 905.48C819.57 905.73 817.56 906.24 815.79 905.78C814.03 905.33 813.02 904.02 811.26 902.76C809.5 901.5 807.48 899.49 805.21 898.23C802.95 896.97 800.43 896.09 797.66 895.2C794.89 894.32 791.86 893.44 788.59 892.94C785.31 892.43 781.28 892.06 778.01 892.18C774.74 892.31 771.96 892.69 768.94 893.69C765.92 894.7 762.9 896.21 759.87 898.23C756.85 900.24 753.83 902.76 750.81 905.78C747.78 908.81 744.26 912.58 741.74 916.36C739.22 920.14 737.2 924.42 735.69 928.45C734.18 932.48 733.17 936.77 732.67 940.54C732.17 944.32 732.42 947.85 732.67 951.12C732.92 954.4 733.8 956.92 734.18 960.19C734.56 963.47 734.31 966.99 734.94 970.77C735.57 974.55 736.57 979.08 737.96 982.86C739.35 986.64 741.11 990.17 743.25 993.44C745.39 996.72 748.04 999.61 750.81 1002.51C753.58 1005.41 756.6 1008.3 759.87 1010.82C763.15 1013.34 766.93 1015.61 770.45 1017.62C773.98 1019.64 777.51 1021.45 781.03 1022.91C784.56 1024.37 788.09 1025.63 791.61 1026.39C795.14 1027.14 798.66 1027.52 802.19 1027.45C805.72 1027.37 809.5 1026.69 812.77 1025.93C816.05 1025.18 818.82 1024.17 821.84 1022.91C824.86 1021.65 828.14 1020.02 830.91 1018.38C833.68 1016.74 836.45 1014.98 838.46 1013.09C840.48 1011.2 841.23 1008.93 843 1007.04C844.76 1005.15 846.78 1003.52 849.04 1001.75C851.31 999.99 854.33 998.86 856.6 996.46C858.87 994.07 861.01 990.42 862.64 987.4C864.28 984.37 865.47 981.35 866.42 978.33C867.38 975.3 868.01 971.78 868.39 969.26C868.77 966.74 868.77 964.98 868.69 963.21C868.61 961.45 868.56 960.7 867.93 958.68Z" fill="none" stroke="#f0101e" stroke-width="1.05" stroke-linejoin="round"/><path d="M864.16 958.68C863.53 956.16 862.77 952.63 861.89 949.61C861.01 946.59 860 943.57 858.87 940.54C857.73 937.52 856.98 934.25 855.09 931.48C853.2 928.71 850.05 926.44 847.53 923.92C845.01 921.4 842.75 918.5 839.97 916.36C837.2 914.22 833.68 912.38 830.91 911.07C828.14 909.76 825.62 908.88 823.35 908.5C821.08 908.13 819.32 908.38 817.3 908.81C815.29 909.23 813.02 910.37 811.26 911.07C809.5 911.78 808.11 913.04 806.73 913.04C805.34 913.04 804.21 912.28 802.95 911.07C801.69 909.86 800.81 907.42 799.17 905.78C797.53 904.15 795.39 902.38 793.12 901.25C790.86 900.12 788.34 899.23 785.57 898.98C782.8 898.73 779.27 898.98 776.5 899.74C773.73 900.49 771.34 901.75 768.94 903.52C766.55 905.28 763.9 907.92 762.14 910.32C760.38 912.71 759.12 915.36 758.36 917.87C757.61 920.39 758.36 923.16 757.61 925.43C756.85 927.7 755.34 929.46 753.83 931.48C752.32 933.49 750.18 935.25 748.54 937.52C746.9 939.79 745.26 942.31 744.01 945.08C742.75 947.85 741.61 951.12 740.98 954.15C740.35 957.17 740.1 959.94 740.23 963.21C740.35 966.49 740.73 970.27 741.74 973.79C742.75 977.32 744.51 981.1 746.27 984.37C748.04 987.65 750.05 990.67 752.32 993.44C754.58 996.21 757.36 998.48 759.87 1001C762.39 1003.52 764.66 1006.29 767.43 1008.55C770.2 1010.82 773.22 1012.84 776.5 1014.6C779.77 1016.36 783.55 1018 787.08 1019.13C790.6 1020.27 794.13 1021.02 797.66 1021.4C801.18 1021.78 804.71 1021.78 808.24 1021.4C811.76 1021.02 815.54 1020.14 818.82 1019.13C822.09 1018.13 824.86 1016.99 827.88 1015.36C830.91 1013.72 834.18 1011.45 836.95 1009.31C839.72 1007.17 842.24 1004.9 844.51 1002.51C846.78 1000.12 848.79 997.47 850.55 994.95C852.32 992.43 853.32 989.91 855.09 987.4C856.85 984.88 859.5 982.36 861.13 979.84C862.77 977.32 864.16 974.8 864.91 972.28C865.67 969.76 865.79 966.99 865.67 964.73C865.54 962.46 864.79 961.2 864.16 958.68Z" fill="none" stroke="#1212fa" stroke-width="1.15" stroke-linejoin="round"/><path d="M777.8 956.2H825.5a1.4 1.4 0 0 1 1.4 1.4V961.8a4.2 4.2 0 0 1 -4.2 4.2H780.6a4.2 4.2 0 0 1 -4.2 -4.2V957.6a1.4 1.4 0 0 1 1.4 -1.4z" fill="#85858f" opacity="0.5" filter="url(#bl)"/><path d="M777.1 954.9H824.8a1.4 1.4 0 0 1 1.4 1.4V960.5a4.2 4.2 0 0 1 -4.2 4.2H779.9a4.2 4.2 0 0 1 -4.2 -4.2V956.3a1.4 1.4 0 0 1 1.4 -1.4z" fill="url(#dev3)" stroke="#dcdcdc" stroke-width="0.3"/><rect x="787.1" y="956.3" width="3" height="1.7" rx="0.3" fill="#fafafa" stroke="#8a8a8a" stroke-width="0.3"/><path d="M787.1 956.4h3" stroke="#555" stroke-width="0.5"/><circle cx="784" cy="957.5" r="0.6" fill="#1c1c1c"/><path d="M793.2 964.9h3.2" stroke="#b8b8b8" stroke-width="0.6"/><text x="808.08" y="973.55" font-size="5.2" fill="#222" text-anchor="middle" stroke="#222" stroke-width="0.08">-20</text><text x="820.81" y="980.9" font-size="5.2" fill="#222" text-anchor="middle" stroke="#222" stroke-width="0.08">-15</text><text x="833.54" y="988.25" font-size="5.2" fill="#222" text-anchor="middle" stroke="#222" stroke-width="0.08">-10</text><text x="846.27" y="995.6" font-size="5.2" fill="#222" text-anchor="middle" stroke="#222" stroke-width="0.08">-5</text><text x="860.6" y="1001.95" font-size="5.2" fill="#222" text-anchor="middle" stroke="#222" stroke-width="0.08">0</text><circle cx="800.15" cy="959.8" r="3" fill="#41c9d6"/><path d="M838.1 856.2H858.1" stroke="#f0101e" stroke-width="1.35"/><text x="860.2" y="859.6" font-size="8.6" fill="#141414" stroke="#141414" stroke-width="0.22">theta80<tspan font-size="7.4" dy="-0.6">°</tspan></text><path d="M838.1 868.3H858.1" stroke="#2a3cc0" stroke-width="1.55"/><text x="860.2" y="871.7" font-size="8.6" fill="#141414" stroke="#141414" stroke-width="0.22">theta90<tspan font-size="7.4" dy="-0.6">°</tspan></text><path d="M838.1 880.4H858.1" stroke="#1f9a4a" stroke-width="0.95"/><text x="860.2" y="883.8" font-size="8.6" fill="#141414" stroke="#141414" stroke-width="0.22">theta100<tspan font-size="7.4" dy="-0.6">°</tspan></text></svg></div>
<div class="cell" style="left:851px;top:707px;width:225px;height:226px"><div class="hm" style="left:30.40px;top:30.40px;width:153.80px;height:153.80px"><div class="hmb"><i style="left:-6.15px;top:-6.15px;width:166.10px;height:166.10px;background:conic-gradient(#56ffa9,#55ffaa,#55ffaa,#55ffaa,#55ffaa,#55ffaa,#56ffa9,#5affa5,#66ff99,#6cff93 90deg,#bfff40 90deg,#bfff40,#bfff40,#bfff40,#bfff40,#bfff40,#bfff40,#bfff40,#bfff40,#bfff40,#bfff40,#bfff40,#bfff40,#bfff40,#bfff40,#bfff40,#bfff40,#bfff40,#bfff40 270deg,#81ff7e 270deg,#80ff7f,#80ff7f,#80ff7f,#7bff84,#71ff8e,#6bff94,#6bff94,#66ff99,#56ffa9)"></i><i style="left:0.62px;top:0.62px;width:152.57px;height:152.57px;background:conic-gradient(#4cffb3,#2effd1,#28ffd7,#22ffdd,#23ffdc,#2fffd0,#39ffc6,#49ffb6,#71ff8e,#88ff77 90deg,#feff01 90deg,#feff01,#feff01,#feff01,#feff01,#feff01,#feff01,#fdff02,#f9ff06,#f6ff09,#f8ff07,#fbff04,#fcff03,#fdff02,#fdff02,#feff01,#feff01,#feff01,#feff01 270deg,#a0ff5f 270deg,#9cff63,#94ff6b,#90ff6f,#88ff77,#78ff87,#70ff8f,#6cff93,#63ff9c,#4cffb3)"></i><i style="left:1.38px;top:1.38px;width:151.03px;height:151.03px;background:conic-gradient(#42ffbd,#0afff5,#00ffff,#00f3ff,#00f6ff,#15ffea,#2effd1,#44ffbb,#79ff86,#98ff67 90deg,#ffc700 90deg,#ffc700,#ffc700,#ffc700,#ffc700,#ffc700,#ffc700,#ffc700,#ffc400,#ffc100,#ffc000,#ffbc00,#ffba00,#ffbe00,#ffc400,#ffc700,#ffc700,#ffc700,#ffc700 270deg,#c9ff36 270deg,#bfff40,#aeff51,#a4ff5b,#99ff66,#84ff7b,#78ff87,#6fff90,#61ff9e,#42ffbd)"></i><i style="left:2.31px;top:2.31px;width:149.19px;height:149.19px;background:conic-gradient(#33ffcc,#00e4ff,#00deff,#00deff,#00e6ff,#14ffeb,#39ffc6,#56ffa9,#9eff61,#c7ff38 90deg,#ff8200 90deg,#ff8200,#ff8200,#ff8200,#ff8400,#ff8f00,#ff9a00,#ff9c00,#ff9d00,#ff9d00,#ff9b00,#ff9700,#ff9400,#ff8d00,#ff8000,#ff7900,#ff7900,#ff7900,#ff7900 270deg,#e0ff1f 270deg,#d5ff2a,#bfff40,#b4ff4b,#a6ff59,#8dff72,#7fff80,#70ff8f,#5dffa2,#33ffcc)"></i><i style="left:3.46px;top:3.46px;width:146.88px;height:146.88px;background:conic-gradient(#1affe5,#00a9ff,#00a7ff,#00b7ff,#00c6ff,#0afff5,#41ffbe,#64ff9b,#b7ff48,#e6ff19 90deg,#ff3c00 90deg,#ff3c00,#ff3c00,#ff3c00,#ff3c00,#ff4100,#ff4500,#ff4500,#ff4200,#ff4100,#ff3e00,#ff3a00,#ff3800,#ff3400,#ff2f00,#ff2c00,#ff2c00,#ff2c00,#ff2c00 270deg,#ffcc00 270deg,#ffdd00,#fffc00,#f1ff0e,#d8ff27,#abff54,#92ff6d,#75ff8a,#56ffa9,#1affe5)"></i><i style="left:4.61px;top:4.61px;width:144.57px;height:144.57px;background:conic-gradient(#31ffce,#00d5ff,#00cbff,#00c5ff,#00d2ff,#25ffda,#68ff97,#89ff76,#d6ff29,#fffc00 90deg,#ff2b00 90deg,#ff2b00,#ff2b00,#ff2b00,#ff2b00,#ff2e00,#ff3000,#ff3000,#ff2c00,#ff2a00,#ff2800,#ff2400,#ff2200,#ff2100,#ff1f00,#ff1e00,#ff1e00,#ff1e00,#ff1e00 270deg,#ff8c00 270deg,#ffa100,#ffc800,#ffdd00,#fff600,#d8ff27,#beff41,#8eff71,#69ff96,#31ffce)"></i><i style="left:5.77px;top:5.77px;width:142.27px;height:142.27px;background:conic-gradient(#61ff9e,#33ffcc,#2bffd4,#22ffdd,#2dffd2,#70ff8f,#a7ff58,#c3ff3c,#fff600,#ffcf00 90deg,#ff1000 90deg,#ff1000,#ff1000,#ff1000,#ff1100,#ff1700,#ff1c00,#ff1d00,#ff1e00,#ff1e00,#ff1c00,#ff1a00,#ff1800,#ff1400,#ff0d00,#ff0900,#ff0900,#ff0900,#ff0900 270deg,#ff8500 270deg,#ff9800,#ffbd00,#ffd100,#ffe800,#eaff15,#d2ff2d,#aeff51,#91ff6e,#61ff9e)"></i><i style="left:6.92px;top:6.92px;width:139.96px;height:139.96px;background:conic-gradient(#7aff85,#58ffa7,#5bffa4,#68ff97,#74ff8b,#a6ff59,#cfff30,#e9ff16,#ffd600,#ffb300 90deg,#fe0000 90deg,#fe0000,#fe0000,#fe0000,#ff0000,#ff0300,#ff0600,#ff0700,#ff0a00,#ff0c00,#ff0b00,#ff0a00,#ff0a00,#ff0600,#fe0000,#fa0000,#fa0000,#fa0000,#fa0000 270deg,#ff7300 270deg,#ff8300,#ffa000,#ffb000,#ffc600,#fff000,#f7ff08,#c6ff39,#a5ff5a,#7aff85)"></i><i style="left:8.24px;top:8.24px;width:137.32px;height:137.32px;background:conic-gradient(#e0ff1f,#dfff20,#dbff24,#d3ff2c,#d8ff27,#fbff04,#ffe700,#ffd700,#ffb100,#ff9b00 90deg,#ff1100 90deg,#ff1200,#ff1400,#ff1500,#ff1400,#ff0f00,#ff0a00,#ff0800,#ff0300,#ff0000,#ff0000,#ff0000,#ff0000,#ff0500,#ff0c00,#ff1000,#ff1000,#ff0e00,#ff0d00 270deg,#ff5400 270deg,#ff5f00,#ff7400,#ff7f00,#ff8d00,#ffa800,#ffb600,#ffe400,#ffff00,#e0ff1f)"></i><i style="left:10.99px;top:10.99px;width:131.83px;height:131.83px;background:conic-gradient(#ffd400,#ffcd00,#ffca00,#ffc500,#ffc000,#ffad00,#ff9d00,#ff9500,#ff8100,#ff7500 90deg,#ff2e00 90deg,#ff3000,#ff3300,#ff3600,#ff3600,#ff3100,#ff2d00,#ff2d00,#ff3100,#ff3300,#ff3200,#ff3000,#ff2f00,#ff3000,#ff3300,#ff3400,#ff3200,#ff2e00,#ff2c00 270deg,#ff4e00 270deg,#ff5a00,#ff7100,#ff7d00,#ff8800,#ff9c00,#ffa700,#ffb800,#ffc400,#ffd400)"></i><i style="left:13.73px;top:13.73px;width:126.34px;height:126.34px;background:conic-gradient(#ffb300,#ffa700,#ffa500,#ffa300,#ffa100,#ff9700,#ff8f00,#ff8a00,#ff7d00,#ff7500 90deg,#ff7c00 90deg,#ff7e00,#ff8100,#ff8400,#ff8300,#ff7d00,#ff7600,#ff7300,#ff6700,#ff5f00,#ff6100,#ff6300,#ff6500,#ff6f00,#ff8100,#ff8b00,#ff8b00,#ff8a00,#ff8900 270deg,#ff5600 270deg,#ff6000,#ff7300,#ff7d00,#ff8400,#ff9000,#ff9600,#ffa400,#ffab00,#ffb300)"></i><i style="left:16.48px;top:16.48px;width:120.84px;height:120.84px;background:conic-gradient(#ffb300,#ffa700,#ffa300,#ff9c00,#ff9900,#ff9300,#ff8e00,#ff8900,#ff7c00,#ff7500 90deg,#ffc900 90deg,#ffca00,#ffce00,#ffd000,#ffd000,#ffca00,#ffc400,#ffc000,#ffb600,#ffaf00,#ffaa00,#ffa200,#ff9e00,#ffa700,#ffba00,#ffc300,#ffc300,#ffc300,#ffc300 270deg,#ff5e00 270deg,#ff6700,#ff7800,#ff8100,#ff8d00,#ffa500,#ffb100,#ffb200,#ffb200,#ffb300)"></i><i style="left:19.23px;top:19.23px;width:115.35px;height:115.35px;background:conic-gradient(#ffe400,#ffda00,#ffd300,#ffc500,#ffc100,#ffb900,#ffb100,#ffa600,#ff8800,#ff7700 90deg,#fff100 90deg,#fff300,#fff600,#fff900,#fffc00,#f1ff0e,#e0ff1f,#e0ff1f,#edff12,#f5ff0a,#faff05,#fffc00,#fff700,#fff800,#fff900,#fff900,#fff900,#fff900,#fff900 270deg,#ff6300 270deg,#ff7300,#ff9000,#ffa000,#ffab00,#ffc000,#ffcb00,#ffdb00,#ffe100,#ffe400)"></i><i style="left:21.97px;top:21.97px;width:109.86px;height:109.86px;background:conic-gradient(#ddff22,#e5ff1a,#f6ff09,#ffe400,#ffda00,#ffd000,#ffc800,#ffbe00,#ffa600,#ff9800 90deg,#f6ff09 90deg,#f5ff0a,#f1ff0e,#efff10,#e8ff17,#c2ff3d,#9cff63,#9eff61,#c9ff36,#e5ff19,#ebff14,#f5ff0a,#faff05,#f9ff06,#f7ff08,#f7ff08,#f7ff08,#f7ff08,#f7ff08 270deg,#ff8f00 270deg,#ff9900,#ffaa00,#ffb300,#ffca00,#fff300,#f5ff0a,#e9ff16,#e3ff1c,#ddff22)"></i><i style="left:24.72px;top:24.72px;width:104.36px;height:104.36px;background:conic-gradient(#c1ff3e,#d2ff2d,#d5ff2a,#d8ff27,#dbff24,#eaff15,#f6ff09,#fff700,#ffcb00,#ffb200 90deg,#fff300 90deg,#fff300,#fff300,#fff400,#fff700,#f4ff0b,#e1ff1e,#e0ff1f,#efff10,#f8ff07,#fcff03,#fffb00,#fff800,#fff700,#fff500,#fff400,#fff400,#fff400,#fff400 270deg,#ffb200 270deg,#ffc200,#ffdf00,#ffef00,#f7ff08,#ccff33,#b4ff4b,#cbff34,#cfff30,#c1ff3e)"></i><i style="left:27.46px;top:27.46px;width:98.87px;height:98.87px;background:conic-gradient(#4dffb3,#85ff7a,#95ff6a,#aeff51,#b7ff48,#ceff31,#e1ff1e,#f2ff0d,#ffe300,#ffcc00 90deg,#ffc700 90deg,#ffc600,#ffc400,#ffc300,#ffc300,#ffc500,#ffc700,#ffc900,#ffd600,#ffde00,#ffdb00,#ffd800,#ffd600,#ffd700,#ffd800,#ffd900,#ffd900,#ffd800,#ffd800 270deg,#ffcc00 270deg,#ffe000,#f8ff07,#e4ff1b,#b1ff4e,#51ffae,#1effe1,#8cff73,#98ff67,#4dffb3)"></i><i style="left:30.21px;top:30.21px;width:93.38px;height:93.38px;background:conic-gradient(#1effe1,#6cff93,#77ff88,#81ff7e,#8eff71,#c7ff38,#f6ff09,#fffb00,#ffdf00,#ffcf00 90deg,#ff9900 90deg,#ff9800,#ff9400,#ff9100,#ff9200,#ff9800,#ff9e00,#ff9f00,#ffa200,#ffa400,#ffa400,#ffa300,#ffa300,#ffa400,#ffa500,#ffa600,#ffa400,#ffa000,#ff9e00 270deg,#ffcf00 270deg,#ffec00,#ddff22,#c0ff3f,#a7ff58,#79ff86,#60ff9f,#98ff67,#87ff78,#1effe1)"></i><i style="left:32.96px;top:32.96px;width:87.89px;height:87.89px;background:conic-gradient(#dcff23,#f8ff07,#efff10,#d8ff27,#deff21,#ffe700,#ffb800,#ffa500,#ff7900,#ff5f00 90deg,#ff6800 90deg,#ff6500,#ff5f00,#ff5b00,#ff5c00,#ff6800,#ff7400,#ff7a00,#ff8d00,#ff9a00,#ff9a00,#ff9a00,#ff9a00,#ff9600,#ff8f00,#ff8b00,#ff8900,#ff8500,#ff8300 270deg,#ff5f00 270deg,#ff7d00,#ffb500,#ffd300,#ffe500,#f7ff08,#e5ff1a,#f5ff0a,#f2ff0d,#dcff23)"></i><i style="left:35.70px;top:35.70px;width:82.39px;height:82.39px;background:conic-gradient(#ffc600,#ffc600,#ffc000,#ffb400,#ffab00,#ff8700,#ff6900,#ff5d00,#ff4100,#ff3100 90deg,#ff5100 90deg,#ff4d00,#ff4600,#ff4000,#ff4100,#ff4e00,#ff5a00,#ff6200,#ff7e00,#ff9000,#ff9000,#ff9000,#ff9000,#ff8b00,#ff8100,#ff7c00,#ff7a00,#ff7600,#ff7300 270deg,#ff3100 270deg,#ff3e00,#ff5600,#ff6300,#ff7100,#ff8c00,#ff9a00,#ffbb00,#ffc600,#ffc600)"></i><i style="left:38.45px;top:38.45px;width:76.90px;height:76.90px;background:conic-gradient(#ff2b00,#ff2b00,#ff2a00,#ff2800,#ff2500,#ff1500,#ff0800,#ff0400,#f80000,#f20000 90deg,#ff3000 90deg,#ff2900,#ff1c00,#ff1100,#ff1300,#ff2600,#ff3900,#ff4500,#ff7000,#ff8c00,#ff8b00,#ff8b00,#ff8b00,#ff8300,#ff7500,#ff6e00,#ff6a00,#ff6400,#ff6000 270deg,#f20000 270deg,#f40000,#f80000,#fb0000,#ff0100,#ff0b00,#ff1000,#ff2400,#ff2b00,#ff2b00)"></i><i style="left:41.20px;top:41.20px;width:71.41px;height:71.41px;background:conic-gradient(#fe0000,#fe0000,#fe0000,#fe0000,#fd0000,#fa0000,#f70000,#f60000,#f30000,#f20000 90deg,#ff1c00 90deg,#ff1600,#ff0a00,#ff0100,#ff0200,#ff1400,#ff2500,#ff3100,#ff6100,#ff8000,#ff7f00,#ff7d00,#ff7c00,#ff7600,#ff6b00,#ff6500,#ff6100,#ff5900,#ff5500 270deg,#f20000 270deg,#f30000,#f50000,#f60000,#f60000,#f80000,#f90000,#fc0000,#fe0000,#fe0000)"></i><i style="left:43.94px;top:43.94px;width:65.91px;height:65.91px;background:conic-gradient(#ef0000,#ef0000,#ee0000,#ed0000,#ed0000,#ed0000,#ee0000,#ef0000,#f10000,#f20000 90deg,#ff1900 90deg,#ff1500,#ff0b00,#ff0200,#ff0100,#ff0500,#ff0900,#ff1500,#ff5000,#ff7600,#ff7500,#ff7400,#ff7400,#ff6c00,#ff5d00,#ff5600,#ff5200,#ff4b00,#ff4700 270deg,#f20000 270deg,#f10000,#ee0000,#ed0000,#ed0000,#ed0000,#ed0000,#ee0000,#ef0000,#ef0000)"></i><i style="left:46.69px;top:46.69px;width:60.42px;height:60.42px;background:conic-gradient(#ff2c00,#ff2c00,#ff2500,#ff1700,#ff1000,#fb0000,#eb0000,#ec0000,#f00000,#f20000 90deg,#ff1500 90deg,#ff1200,#ff0b00,#ff0400,#ff0400,#ff0500,#ff0700,#ff1200,#ff4800,#ff6c00,#ff6700,#ff6000,#ff5b00,#ff5400,#ff4600,#ff3f00,#ff3c00,#ff3600,#ff3200 270deg,#f20000 270deg,#f00000,#ec0000,#ea0000,#f50000,#ff0900,#ff1400,#ff2600,#ff2c00,#ff2c00)"></i><i style="left:49.44px;top:49.44px;width:54.93px;height:54.93px;background:conic-gradient(#ff7000,#ff6e00,#ff5c00,#ff3600,#ff2b00,#ff1600,#ff0400,#ff0000,#f70000,#f20000 90deg,#ff1100 90deg,#ff0f00,#ff0a00,#ff0700,#ff0600,#ff0700,#ff0700,#ff0e00,#ff3400,#ff4d00,#ff4900,#ff4200,#ff3e00,#ff3c00,#ff3900,#ff3700,#ff3400,#ff2e00,#ff2b00 270deg,#f20000 270deg,#f60000,#fe0000,#ff0400,#ff0f00,#ff2400,#ff2f00,#ff5f00,#ff7000,#ff7000)"></i><i style="left:52.18px;top:52.18px;width:49.44px;height:49.44px;background:conic-gradient(#ffc800,#ffc100,#ffa600,#ff6c00,#ff5a00,#ff3800,#ff1c00,#ff1300,#fe0000,#f20000 90deg,#ff0f00 90deg,#ff0e00,#ff0a00,#ff0800,#ff0700,#ff0700,#ff0700,#ff0c00,#ff2700,#ff3800,#ff3800,#ff3600,#ff3600,#ff3200,#ff2b00,#ff2800,#ff2500,#ff2100,#ff1f00 270deg,#f20000 270deg,#fc0000,#ff1100,#ff1b00,#ff2d00,#ff4e00,#ff6000,#ffad00,#ffc800,#ffc800)"></i><i style="left:54.93px;top:54.93px;width:43.94px;height:43.94px;background:conic-gradient(#ff4200,#ff4200,#ff3c00,#ff2f00,#ff2900,#ff1300,#ff0100,#fd0000,#f80000,#f60000 90deg,#ff1200 90deg,#ff1100,#ff0e00,#ff0b00,#ff0a00,#ff0900,#ff0700,#ff0b00,#ff1d00,#ff2a00,#ff2900,#ff2700,#ff2700,#ff2300,#ff1b00,#ff1600,#ff1500,#ff1300,#ff1200 270deg,#f60000 270deg,#f80000,#fd0000,#ff0000,#ff0c00,#ff2100,#ff2d00,#ff3d00,#ff4200,#ff4200)"></i><i style="left:57.68px;top:57.68px;width:38.45px;height:38.45px;background:conic-gradient(#ff1500,#ff1500,#ff0a00,#ef0000,#ea0000,#ea0000,#ea0000,#ee0000,#f90000,#ff0000 90deg,#ff1a00 90deg,#ff1900,#ff1700,#ff1500,#ff1300,#ff0f00,#ff0a00,#ff0a00,#ff0f00,#ff1200,#ff1400,#ff1700,#ff1900,#ff1800,#ff1600,#ff1500,#ff1400,#ff1200,#ff1100 270deg,#ff0000 270deg,#fa0000,#f00000,#ea0000,#ea0000,#ea0000,#ea0000,#ff0a00,#ff1500,#ff1500)"></i><i style="left:60.42px;top:60.42px;width:32.96px;height:32.96px;background:conic-gradient(#ea0000,#ea0000,#ef0000,#f90000,#fb0000,#f90000,#f80000,#fb0000,#ff0500,#ff0b00 90deg,#ff2500 90deg,#ff2400,#ff2200,#ff2100,#ff2000,#ff1b00,#ff1600,#ff1600,#ff1700,#ff1800,#ff1900,#ff1c00,#ff1d00,#ff1d00,#ff1e00,#ff1e00,#ff1d00,#ff1c00,#ff1b00 270deg,#ff0b00 270deg,#ff0600,#fc0000,#f70000,#f80000,#fa0000,#fb0000,#ee0000,#ea0000,#ea0000)"></i><i style="left:63.17px;top:63.17px;width:27.46px;height:27.46px;background:conic-gradient(#ff1a00,#ff1a00,#ff1700,#ff1100,#ff0e00,#ff0800,#ff0300,#ff0500,#ff0c00,#ff0f00 90deg,#ff2f00 90deg,#ff2f00,#ff2e00,#ff2d00,#ff2d00,#ff2a00,#ff2700,#ff2800,#ff3100,#ff3600,#ff3500,#ff3300,#ff3200,#ff3000,#ff2d00,#ff2b00,#ff2b00,#ff2a00,#ff2900 270deg,#ff0f00 270deg,#ff0c00,#ff0600,#ff0300,#ff0600,#ff0c00,#ff0f00,#ff1700,#ff1a00,#ff1a00)"></i><i style="left:65.91px;top:65.91px;width:21.97px;height:21.97px;background:conic-gradient(#ff4b00,#ff4b00,#ff4b00,#ff4a00,#ff4700,#ff3b00,#ff3200,#ff3300,#ff3700,#ff3900 90deg,#ff3600 90deg,#ff3600,#ff3600,#ff3600,#ff3600,#ff3500,#ff3500,#ff3700,#ff4400,#ff4c00,#ff4b00,#ff4800,#ff4700,#ff4200,#ff3a00,#ff3500,#ff3500,#ff3500,#ff3500 270deg,#ff3900 270deg,#ff3700,#ff3300,#ff3200,#ff3800,#ff4300,#ff4900,#ff4b00,#ff4b00,#ff4b00)"></i><i style="left:68.66px;top:68.66px;width:16.48px;height:16.48px;background:conic-gradient(#ff9d00,#ff9700,#ff9700,#ff9800,#ff9500,#ff8200,#ff7200,#ff7100,#ff7100,#ff7100 90deg,#ff3b00 90deg,#ff3b00,#ff3b00,#ff3b00,#ff3b00,#ff3b00,#ff3b00,#ff4300,#ff6f00,#ff8c00,#ff7c00,#ff5e00,#ff4e00,#ff4900,#ff4000,#ff3b00,#ff3b00,#ff3b00,#ff3b00 270deg,#ff7100 270deg,#ff7100,#ff7100,#ff7100,#ff7b00,#ff8e00,#ff9900,#ff9c00,#ff9d00,#ff9d00)"></i><i style="left:71.41px;top:71.41px;width:10.99px;height:10.99px;background:conic-gradient(#ffe500,#ffda00,#ffc700,#ffa100,#ff9600,#ff8700,#ff7b00,#ff7b00,#ff7b00,#ff7b00 90deg,#ff5d00 90deg,#ff5d00,#ff5d00,#ff5d00,#ff5d00,#ff5d00,#ff5d00,#ff6700,#ffa000,#ffc500,#ffad00,#ff8000,#ff6800,#ff6500,#ff5f00,#ff5d00,#ff5d00,#ff5d00,#ff5d00 270deg,#ff7b00 270deg,#ff7b00,#ff7b00,#ff7b00,#ff8200,#ff9100,#ff9900,#ffd100,#ffe500,#ffe500)"></i><i style="left:74.15px;top:74.15px;width:5.49px;height:5.49px;background:conic-gradient(#ff9e00,#ff9b00,#ff9700,#ff8e00,#ff8c00,#ff8900,#ff8700,#ff8700,#ff8700,#ff8700 90deg,#ff8300 90deg,#ff8300,#ff8300,#ff8300,#ff8300,#ff8300,#ff8300,#ff8500,#ff9000,#ff9700,#ff9200,#ff8900,#ff8500,#ff8400,#ff8300,#ff8300,#ff8300,#ff8300,#ff8300 270deg,#ff8700 270deg,#ff8700,#ff8700,#ff8700,#ff8800,#ff8b00,#ff8c00,#ff9900,#ff9e00,#ff9e00)"></i></div></div><svg width="225" height="226" viewBox="908 841 225 226"><path d="M938.4 948.3A76.9 76.9 0 0 1 1092.2 948.3Z" fill="#40381a" fill-opacity="0.53"/><g fill="none" stroke="#1a1208" stroke-width="0.45" stroke-opacity="0.85"><circle cx="1015.3" cy="948.3" r="12.82"/><circle cx="1015.3" cy="948.3" r="25.63"/><circle cx="1015.3" cy="948.3" r="38.45"/><circle cx="1015.3" cy="948.3" r="51.27"/><circle cx="1015.3" cy="948.3" r="64.08"/><circle cx="1015.3" cy="948.3" r="76.9"/><path d="M938.4 948.3L1092.2 948.3"/><path d="M948.7 986.75L1081.9 909.85"/><path d="M976.85 1014.9L1053.75 881.7"/><path d="M1015.3 1025.2L1015.3 871.4"/><path d="M1053.75 1014.9L976.85 881.7"/><path d="M1081.9 986.75L948.7 909.85"/></g><text x="1097.6" y="950.5" font-size="6.2" fill="#222" text-anchor="middle">0<tspan font-size="5.6" dy="-1.2">°</tspan></text><text x="1087.96" y="908.55" font-size="6.2" fill="#222" text-anchor="middle">30<tspan font-size="5.6" dy="-1.2">°</tspan></text><text x="1056.75" y="878.71" font-size="6.2" fill="#222" text-anchor="middle">60<tspan font-size="5.6" dy="-1.2">°</tspan></text><text x="1015.3" y="868" font-size="6.2" fill="#222" text-anchor="middle">90<tspan font-size="5.6" dy="-1.2">°</tspan></text><text x="974.25" y="879.4" font-size="6.2" fill="#222" text-anchor="middle">120<tspan font-size="5.6" dy="-1.2">°</tspan></text><text x="942.55" y="908.5" font-size="6.2" fill="#222" text-anchor="middle">150<tspan font-size="5.6" dy="-1.2">°</tspan></text><text x="930.7" y="950.5" font-size="6.2" fill="#222" text-anchor="middle">180<tspan font-size="5.6" dy="-1.2">°</tspan></text><text x="940.39" y="993.75" font-size="6.2" fill="#222" text-anchor="middle">210<tspan font-size="5.6" dy="-1.2">°</tspan></text><text x="973.65" y="1022.64" font-size="6.2" fill="#222" text-anchor="middle">240<tspan font-size="5.6" dy="-1.2">°</tspan></text><text x="1015.3" y="1033" font-size="6.2" fill="#222" text-anchor="middle">270<tspan font-size="5.6" dy="-1.2">°</tspan></text><text x="1056.95" y="1022.64" font-size="6.2" fill="#222" text-anchor="middle">300<tspan font-size="5.6" dy="-1.2">°</tspan></text><text x="1090.56" y="993.95" font-size="6.2" fill="#222" text-anchor="middle">330<tspan font-size="5.6" dy="-1.2">°</tspan></text><text x="1026.66" y="959.3" font-size="6.2" fill="#1a1a1a" text-anchor="middle">30<tspan font-size="5.6" dy="-1.2">°</tspan></text><text x="1033.82" y="967.55" font-size="6.2" fill="#1a1a1a" text-anchor="middle">60<tspan font-size="5.6" dy="-1.2">°</tspan></text><text x="1042.59" y="975.8" font-size="6.2" fill="#1a1a1a" text-anchor="middle">90<tspan font-size="5.6" dy="-1.2">°</tspan></text><text x="1055.09" y="984.93" font-size="6.2" fill="#1a1a1a" text-anchor="middle">120<tspan font-size="5.6" dy="-1.2">°</tspan></text><text x="1066.1" y="992.87" font-size="6.2" fill="#1a1a1a" text-anchor="middle">150<tspan font-size="5.6" dy="-1.2">°</tspan></text><text x="1076.13" y="1001.5" font-size="6.2" fill="#1a1a1a" text-anchor="middle">180<tspan font-size="5.6" dy="-1.2">°</tspan></text><circle cx="1015.3" cy="909.85" r="3.5" fill="#1490ff" stroke="#fff" stroke-width="0.7"/><circle cx="976.85" cy="948.3" r="3.5" fill="#9747ff" stroke="#fff" stroke-width="0.7"/><circle cx="1015.3" cy="948.3" r="3.5" fill="#4ac6d4" stroke="#fff" stroke-width="0.7"/><circle cx="1053.75" cy="948.3" r="3.5" fill="#bf1f6e" stroke="#fff" stroke-width="0.7"/><circle cx="1015.3" cy="986.75" r="3.5" fill="#1d0a6b" stroke="#fff" stroke-width="0.7"/><rect x="1113.1" y="876.8" width="11.6" height="154.3" fill="url(#cbar)"/><path d="M1123.2 876.8H1124.7" stroke="#333" stroke-width="0.4"/><text x="1126.6" y="878.4" font-size="4.5" fill="#6e6e6e">5</text><path d="M1123.2 907.66H1124.7" stroke="#333" stroke-width="0.4"/><text x="1126.6" y="909.26" font-size="4.5" fill="#6e6e6e">0</text><path d="M1123.2 938.52H1124.7" stroke="#333" stroke-width="0.4"/><text x="1126.6" y="940.12" font-size="4.5" fill="#6e6e6e">-5</text><path d="M1123.2 969.38H1124.7" stroke="#333" stroke-width="0.4"/><text x="1126.6" y="970.98" font-size="4.5" fill="#6e6e6e">-10</text><path d="M1123.2 1000.24H1124.7" stroke="#333" stroke-width="0.4"/><text x="1126.6" y="1001.84" font-size="4.5" fill="#6e6e6e">-15</text><path d="M1123.2 1031.1H1124.7" stroke="#333" stroke-width="0.4"/><text x="1126.6" y="1032.7" font-size="4.5" fill="#6e6e6e">-20</text></svg></div>
</div>
<div class="foot" style="left:57px;width:478px"></div><div class="foot" style="left:656px;width:478px"></div>
<svg class="logo" viewBox="548 1624 96 38" style="font-family:"Liberation Sans", Arial, sans-serif"><g fill="#b1b3b3"><path d="M571.5 1626.9a12.5 12.1 0 0 1 0 24.2h-2.6v-6.9h2.6a5.6 5.2 0 1 0-5.6-5.2v1.8h-6.9v-1.8a12.5 12.1 0 0 1 12.5-12.1z"/><path d="M550.1 1644.1h16.1v13.1a1.6 1.6 0 0 1-1.6 1.6h-4.1a1.6 1.6 0 0 1-1.6-1.6v-6.2h-7.3a1.5 1.5 0 0 1-1.5-1.5z"/></g><text x="588.8" y="1650.7" font-size="18" fill="#b2b4b4" stroke="#b2b4b4" stroke-width="0.35" textLength="51" lengthAdjust="spacingAndGlyphs">tp-link</text></svg>
</body></html>
